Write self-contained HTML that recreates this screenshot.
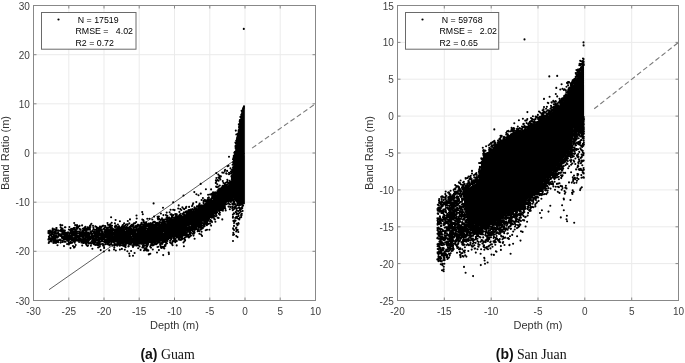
<!DOCTYPE html>
<html><head><meta charset="utf-8"><title>Band ratio vs depth</title>
<style>
html,body{margin:0;padding:0;background:#fff}
svg{display:block}
text{font-family:"Liberation Sans",Arial,sans-serif;fill:#333}
.tk{font-size:10px;fill:#404040}
.lb{font-size:11px}
.lg{font-size:8.8px;fill:#000;white-space:pre}
.cap{font-family:"Liberation Serif","Times New Roman",serif;font-size:13.9px;fill:#111}
.capb{font-family:"Liberation Sans",Arial,sans-serif;font-weight:bold;font-size:14px;fill:#111}
</style></head><body>
<svg width="685" height="363" viewBox="0 0 685 363">
<rect width="685" height="363" fill="#fff"/>
<path d="M33.5 5.5V300.5M68.8 5.5V300.5M104 5.5V300.5M139.2 5.5V300.5M174.5 5.5V300.5M209.8 5.5V300.5M245 5.5V300.5M280.2 5.5V300.5M315.5 5.5V300.5M33.5 300.5H315.5M33.5 251.3H315.5M33.5 202.2H315.5M33.5 153H315.5M33.5 103.8H315.5M33.5 54.7H315.5M33.5 5.5H315.5" stroke="#ebebeb" stroke-width="1" fill="none"/>
<path d="M49 289.7L245 153" stroke="#333" stroke-width="0.8" fill="none"/><path d="M252.1 148.1L315.5 103.8" stroke="#7a7a7a" stroke-width="1.1" stroke-dasharray="5 2.8" fill="none"/><path d="M231.6 184L232.4 171L235 151.3L238.8 128L241.2 115L242.8 107.5L243.6 106.2L244.8 106.6L244.9 204L240 206L235 201L231.6 196Z" fill="#000"/><path d="M48.4 233.1h0M48.4 239.6h0M48.5 231h0M48.5 231.9h0M48.7 243h0M48.8 238.6h0M48.9 236.8h0M49 232.4h0M49.3 233.1h0M49.2 241.9h0M49.2 238.7h0M49.1 238.2h0M49.5 232.3h0M49.4 233.6h0M49.6 235.7h0M49.6 238.1h0M49.8 232.8h0M49.7 230.9h0M50 230.6h0M50 238h0M50 232.3h0M50.3 239.5h0M50.3 234.9h0M50.3 234.9h0M50.2 232.3h0M50.4 241.1h0M51 238.7h0M51 235.3h0M51.1 235.1h0M51.3 231.7h0M51.5 241.5h0M51.4 239.2h0M51.7 236.2h0M51.6 233.6h0M51.6 240.7h0M51.9 238.1h0M52 239.6h0M52.2 230.4h0M52.5 234.2h0M52.5 232.8h0M52.7 228.6h0M52.7 231.2h0M52.9 230.3h0M52.9 232.2h0M53 237.9h0M52.9 229h0M53.4 242.3h0M53.4 243h0M53.4 236.9h0M53.5 238.9h0M53.3 239.7h0M53.6 238.6h0M53.6 236.4h0M54 235.4h0M53.8 241.5h0M54 234.9h0M53.8 239h0M54.2 241.4h0M54.2 235h0M54.2 236.4h0M54.2 233h0M54.2 241.5h0M54.5 231.9h0M54.5 229.4h0M54.5 240.3h0M54.4 236.2h0M54.6 229.5h0M54.7 235.4h0M54.6 238.2h0M54.7 242.7h0M55 235.9h0M55 231.8h0M55.2 238.1h0M55.4 241.9h0M55.3 235.4h0M55.4 239.1h0M55.6 232.6h0M55.8 232.8h0M55.8 237.6h0M55.9 232.7h0M56 243h0M55.8 233.2h0M55.9 231.4h0M56 234.9h0M56 237.4h0M55.9 231.6h0M56.1 236.7h0M56.1 233.4h0M56.2 237.5h0M56.1 230.9h0M56.3 242.1h0M56.4 240.9h0M56.3 228h0M56.3 229.7h0M56.8 237.1h0M56.8 237.4h0M56.6 233.2h0M56.6 228.1h0M56.6 236.3h0M57 240.2h0M56.9 242.1h0M57.1 230.5h0M57.5 245.2h0M57.7 237.6h0M57.9 240.2h0M57.9 233.8h0M57.9 233.7h0M58 230.4h0M58.2 236.6h0M58.3 233.3h0M58.1 232.6h0M58.1 241.6h0M58.3 242.3h0M58.5 234.9h0M58.3 235.8h0M58.6 240.3h0M58.6 235.9h0M59.4 234.4h0M59.7 239.9h0M59.6 230.7h0M60 235.4h0M60 239.6h0M60.3 234.4h0M60.5 225.3h0M60.4 224.7h0M60.6 239.8h0M60.7 240.6h0M60.7 227.3h0M60.6 236h0M60.6 242.6h0M61.3 231.4h0M61.2 236h0M61.1 229.4h0M61.6 235.5h0M61.7 228.7h0M61.6 231.8h0M61.7 231.4h0M61.7 235.4h0M61.9 231.1h0M62 237.6h0M61.9 236.9h0M62.2 238.2h0M62.2 230.3h0M62.1 233.7h0M62.3 225.3h0M62.5 228.5h0M62.5 242h0M62.4 236.6h0M62.5 241h0M62.7 242h0M62.8 232.5h0M63 230.8h0M63 231.5h0M63.2 238.1h0M63.4 238.2h0M63.5 232.7h0M63.6 238.9h0M63.7 230.2h0M63.6 239.7h0M63.8 234.7h0M63.6 234.3h0M63.6 238.2h0M64 246.1h0M64 231.4h0M64.1 236.9h0M64.1 239.2h0M64.2 238.5h0M64.1 231.1h0M64.4 235.2h0M64.5 232.2h0M64.6 241.8h0M64.5 236.3h0M64.7 232.4h0M64.8 239.5h0M64.6 241.8h0M64.7 234h0M64.9 227.2h0M64.8 231h0M64.9 230.6h0M65.2 232.7h0M65.1 233.9h0M65.2 238.2h0M65.3 237.9h0M65.4 227.2h0M65.7 234.6h0M65.7 238.5h0M65.7 241.8h0M65.6 235.6h0M65.7 234.3h0M66 237h0M66 237.6h0M66.1 235.7h0M66.2 234.6h0M66.1 238.4h0M66.1 233.1h0M66.3 232.8h0M66.4 239.2h0M66.3 232.9h0M66.8 236.7h0M66.9 235.9h0M66.9 240h0M67.2 240.1h0M67.3 235.9h0M67.1 238h0M67.1 244.1h0M67.3 234.1h0M67.2 238.6h0M67.4 237.6h0M67.8 235.4h0M67.7 236h0M67.9 232.7h0M68 232.3h0M68 236.2h0M68.2 238.4h0M68.4 240.8h0M68.3 241.4h0M68.4 236.4h0M68.7 235h0M68.7 236.7h0M68.9 229.5h0M68.9 243.3h0M68.9 239.6h0M68.9 240.2h0M68.9 236.6h0M68.9 244.5h0M69.1 235.5h0M69.2 236.7h0M69.4 227h0M69.5 233.1h0M69.3 237.2h0M69.6 233.7h0M69.6 239.4h0M69.6 229.8h0M69.9 242.4h0M69.9 239.3h0M70.2 236.2h0M70.3 232.9h0M70.5 231.9h0M70.4 242.9h0M70.3 230.2h0M70.5 248.1h0M70.6 231.4h0M70.7 241.5h0M70.7 243.3h0M70.8 237.9h0M71 236.3h0M71 229.1h0M71.1 235.4h0M71.3 238.9h0M71.2 232.6h0M71.2 232h0M71.3 237.4h0M71.2 232h0M71.3 232.9h0M71.5 242.3h0M71.6 230.8h0M71.7 234.7h0M71.7 233.6h0M71.8 239.6h0M72 229.2h0M72 239.3h0M71.8 233.9h0M71.9 240h0M72 228.7h0M72 237.4h0M72.1 233.2h0M72.3 235.3h0M72.1 242.8h0M72.1 238.2h0M72.5 237.3h0M72.5 235.4h0M72.4 240h0M72.7 232.7h0M73 234.2h0M73 229.8h0M72.9 240.4h0M73 246h0M72.9 240.3h0M72.9 238.2h0M73.2 239.5h0M73.1 231.5h0M73.3 240h0M73.4 241.4h0M73.3 234.5h0M73.6 233h0M73.6 234.6h0M73.9 234.3h0M74 239.7h0M73.8 228h0M74.1 241.2h0M74 247.6h0M73.8 240.9h0M73.9 239.9h0M74.2 223h0M74.1 234.4h0M74.3 235.8h0M74.3 238.1h0M74.3 234.2h0M74.5 238h0M74.4 234.7h0M74.7 235.6h0M74.7 229.4h0M74.7 231.1h0M74.7 227.8h0M74.9 246.7h0M75 238.4h0M74.9 241.3h0M75 236.1h0M74.9 232.9h0M75.1 225.1h0M74.8 242.7h0M75 241.2h0M75.1 234.9h0M75.1 234.8h0M75.3 231.2h0M75.5 233.6h0M75.5 236h0M75.5 235.1h0M75.8 239.9h0M75.8 236.5h0M75.7 238.5h0M75.7 245h0M75.6 230.8h0M75.9 238.1h0M76 240.4h0M75.8 233.7h0M75.9 235.1h0M75.9 233.4h0M75.9 230.2h0M76 235.3h0M76 234.4h0M76.2 239.6h0M76.1 231.4h0M76.3 233.1h0M76.2 231.2h0M76.4 239.9h0M76.6 225.8h0M76.6 228.7h0M76.8 233.4h0M76.8 227.5h0M77 225.1h0M77.2 239h0M77.2 237h0M77.2 233.6h0M77.4 240.6h0M77.4 236.9h0M77.5 231.6h0M77.5 235.6h0M77.7 226.3h0M77.6 228.8h0M77.7 235.7h0M77.7 236.4h0M78 240.5h0M78.2 227.2h0M78.3 237.1h0M78.2 231.5h0M78.2 239.2h0M78.4 236h0M78.8 235.8h0M79 238.5h0M78.9 240.1h0M79.1 240.6h0M79.1 238.3h0M79.1 242h0M79.1 233.6h0M79.5 238.4h0M79.4 232.4h0M79.6 237.1h0M79.6 225.9h0M79.7 235.5h0M79.6 236.9h0M79.8 228.9h0M79.9 238.7h0M79.9 231.7h0M80.1 234.9h0M80.3 233.9h0M80.2 229.9h0M80.1 233.5h0M80.4 238.5h0M80.7 239h0M80.6 233.2h0M80.6 229.8h0M80.7 240.2h0M80.8 238.6h0M80.9 232.8h0M81 239.4h0M80.8 235.7h0M81.1 233.9h0M81.1 241.4h0M81.5 236.2h0M81.4 240.6h0M81.4 234.3h0M81.5 242.5h0M81.3 242.5h0M81.7 236.1h0M81.7 241.2h0M81.7 236.5h0M81.8 233.6h0M81.6 232.2h0M82.3 232.1h0M82.1 231.7h0M82.2 245.5h0M82.1 225.4h0M82.4 231h0M82.3 236.1h0M82.4 235.1h0M82.7 228.7h0M82.7 237.2h0M82.7 233.7h0M82.7 235.4h0M82.8 235h0M82.7 239.2h0M82.7 240.1h0M82.8 233.6h0M83.1 242.9h0M83.2 242.3h0M83.3 233.6h0M83.2 231.5h0M83.3 231.5h0M83.4 234.1h0M83.5 240.5h0M83.4 234.1h0M83.6 232.9h0M83.5 240.1h0M83.6 238.8h0M83.6 230.4h0M84 232.7h0M84 242.9h0M83.9 234.9h0M83.9 236.3h0M84.3 241.3h0M84.2 238.9h0M84.3 229.4h0M84.2 233.7h0M84.3 227.9h0M84.4 229.3h0M84.4 230.1h0M84.7 241.2h0M84.6 238.2h0M84.8 240.5h0M84.6 241.2h0M84.8 232.5h0M84.8 230.2h0M85 227.3h0M84.9 238.9h0M84.9 240.5h0M85 235.1h0M84.9 241.7h0M85 235.3h0M85.1 234h0M85.1 239.6h0M85.5 228.3h0M85.3 241.6h0M85.4 234.9h0M85.4 226.8h0M85.7 236h0M85.7 240.9h0M85.6 236.1h0M85.8 236.1h0M85.8 233.7h0M85.8 233.6h0M85.6 237.8h0M85.7 235.6h0M86 235.3h0M85.9 239.1h0M85.9 243.2h0M86.1 229.6h0M86.2 231.4h0M86.3 233.9h0M86.1 239.6h0M86.1 244.4h0M86.1 228.7h0M86.2 232.6h0M86.3 231.6h0M86.5 242h0M86.4 242.3h0M86.4 230.3h0M86.6 232.7h0M86.7 240.5h0M86.7 234h0M86.7 240.8h0M86.8 233.4h0M87 237.1h0M87 233.4h0M87 245.4h0M87.3 239.3h0M87.2 242.5h0M87.1 237.1h0M87.1 229h0M87.3 232.8h0M87.3 242.3h0M87.2 241.6h0M87.2 239.5h0M87.5 232.8h0M87.5 234.4h0M87.5 241.9h0M87.4 236.3h0M87.5 233.2h0M87.3 229.7h0M87.5 239h0M87.4 236h0M87.6 233.7h0M87.7 246h0M87.7 237.5h0M87.6 227.3h0M87.8 241h0M87.7 240.2h0M88 245.5h0M88.2 239.1h0M88.1 229.8h0M88.6 227.5h0M88.3 243.3h0M88.3 232.8h0M88.4 242.5h0M88.4 240.8h0M88.4 241.6h0M88.6 234.1h0M88.6 232.6h0M89 237.1h0M88.9 237.6h0M88.9 243.5h0M89 234.4h0M89.3 235.8h0M89.2 239.9h0M89.2 238.8h0M89.2 238.8h0M89.3 228.9h0M89.5 238.5h0M89.4 236.4h0M89.7 238.6h0M89.6 237.9h0M89.9 228.6h0M90 225.9h0M90 229.8h0M89.8 238.8h0M89.8 243.1h0M90.1 233.4h0M90.1 236.2h0M90.1 237.8h0M90.3 239.3h0M90.4 227h0M90.5 238.5h0M90.5 225.4h0M90.6 231.6h0M90.6 242.6h0M90.7 243.1h0M91 237.5h0M90.9 245.8h0M91 232.5h0M90.9 232.1h0M91 236.4h0M91.1 232.1h0M91.2 243.8h0M91.4 236.3h0M91.4 223.7h0M91.3 234.2h0M91.6 236.3h0M91.6 236.1h0M91.8 241.3h0M92 237.9h0M92.2 234h0M92.3 240h0M92.2 236h0M92.3 237h0M92.4 248.8h0M92.4 230.7h0M92.5 234h0M92.7 238h0M92.7 239.6h0M92.6 236.9h0M92.7 231.5h0M92.6 230.9h0M92.7 242.7h0M92.6 236.8h0M93 236.9h0M93 225.7h0M92.8 235.9h0M93.1 242h0M93.1 236.1h0M93.1 239.5h0M93.5 239.5h0M93.5 243.8h0M93.5 236.5h0M93.4 227.5h0M93.4 238h0M93.5 229h0M93.5 231.8h0M93.6 231.5h0M93.7 241.5h0M93.6 232.2h0M93.7 235.9h0M93.7 241.9h0M93.9 244.2h0M94 241.4h0M94 236.6h0M94.3 239.1h0M94.3 233.2h0M94.5 240.7h0M94.5 239h0M94.4 231.9h0M94.6 240.7h0M94.6 232h0M94.7 240.4h0M94.9 234.5h0M95 238.9h0M94.9 242.9h0M95 243.1h0M94.8 244h0M94.9 229.8h0M95.1 232.4h0M95.2 236.3h0M95.5 241.4h0M95.4 226.2h0M95.4 238.1h0M95.3 244.9h0M95.7 234.3h0M95.8 229.9h0M95.7 235.7h0M95.8 236.9h0M96 239.3h0M96.1 239.3h0M96.2 236.5h0M96.2 236.9h0M96.1 233.8h0M96.2 230.4h0M96.3 238.5h0M96.3 231.6h0M96.4 237.7h0M96.4 227h0M96.4 240.6h0M96.3 227.1h0M96.3 240.3h0M96.4 234.2h0M96.3 239.1h0M96.7 239.7h0M96.7 239h0M96.6 233.3h0M96.8 234.1h0M96.8 231h0M96.9 244.6h0M96.9 228.9h0M97 243h0M96.8 231.4h0M97.3 243h0M97.1 245.1h0M97.1 237.3h0M97.5 235.5h0M97.5 235.4h0M97.5 236.5h0M97.5 231.8h0M97.7 232.2h0M97.6 239.2h0M97.7 237h0M97.6 231.1h0M97.7 235.9h0M97.9 227.8h0M98 230.6h0M98 235.6h0M97.9 236.3h0M97.8 244.6h0M98 233h0M98 239.2h0M98.1 231.9h0M98.1 231.7h0M98.1 247.5h0M98.2 233.7h0M98.3 232.1h0M98.1 241.1h0M98.1 230.8h0M98.1 244h0M98.4 230.7h0M98.4 231.6h0M98.3 239.8h0M98.6 245.3h0M98.6 236.5h0M98.8 231.1h0M98.8 237.5h0M98.6 234.4h0M98.7 242.5h0M98.9 237.2h0M99 229.3h0M99 238.3h0M98.9 241.9h0M99 242.7h0M99 233.1h0M98.8 234.2h0M99.1 240.6h0M99.3 228h0M99.2 234.9h0M99.2 238.9h0M99.1 240.4h0M99.3 244.1h0M99.2 232.8h0M99.4 231.6h0M99.3 228.6h0M99.5 238.5h0M99.4 232.2h0M99.3 238.1h0M99.8 246.3h0M99.6 246.8h0M99.7 241.6h0M99.7 242.4h0M99.9 238.5h0M99.9 226.5h0M100 229.9h0M99.8 239.1h0M100.3 234.5h0M100.4 237.2h0M100.5 244.4h0M100.5 239.2h0M100.5 233.6h0M100.8 227.8h0M100.7 238.6h0M100.6 238h0M100.6 235.3h0M100.7 250.1h0M100.8 230.7h0M101 241.5h0M101 236h0M101 238.9h0M100.8 228.2h0M101.2 226.6h0M101.3 236.9h0M101.2 239.5h0M101.3 241.1h0M101.3 235.7h0M101.4 235.3h0M101.4 227.3h0M101.4 236.8h0M101.4 229.6h0M101.4 230.9h0M101.3 230.3h0M101.4 236.9h0M101.4 236.6h0M101.3 235.6h0M101.6 231.5h0M101.8 237.4h0M101.8 231.8h0M101.6 240.3h0M101.9 240.3h0M102 230.1h0M102 232.6h0M102 236.4h0M101.9 236.7h0M102 238.7h0M102.2 234.3h0M102.1 236.9h0M102.3 237.6h0M102.3 238.2h0M102.4 236h0M102.4 231.7h0M102.3 240.9h0M102.3 243.7h0M102.4 238.3h0M102.7 236.6h0M102.9 235.9h0M102.8 225.9h0M103.2 236.9h0M103.1 245.6h0M103.2 238.9h0M103.2 237.4h0M103.1 233.7h0M103.4 238.7h0M103.4 236.4h0M103.3 238.6h0M103.6 228.8h0M103.6 236.6h0M103.7 241.5h0M103.6 238.6h0M103.6 225.7h0M103.6 233.4h0M103.8 235.9h0M103.7 244.3h0M103.8 235.4h0M103.8 228.9h0M104 234.7h0M103.9 251.5h0M104 236.2h0M103.8 235.8h0M104 246h0M104 237.6h0M104.1 247.9h0M104.3 235.2h0M104.2 241.5h0M104.1 228.7h0M104.1 237.3h0M104.5 242h0M104.4 231h0M104.3 239.8h0M104.5 236.3h0M104.3 237.2h0M104.8 241.4h0M104.7 237.3h0M104.7 241h0M104.6 240.2h0M104.7 239h0M104.9 240h0M104.9 232.3h0M105 232.7h0M104.9 234.9h0M104.9 232.7h0M105 240.2h0M105.3 226.1h0M105.3 230.1h0M105.1 227.5h0M105.2 234.8h0M105.3 231h0M105.5 236.9h0M105.4 239.7h0M105.4 231.2h0M105.8 233.8h0M105.7 244.2h0M105.6 242.9h0M105.7 233.9h0M105.8 229.9h0M105.6 239.5h0M105.9 242.4h0M106.1 235h0M106.3 234.2h0M106.2 239.2h0M106.3 227.7h0M106.3 229.9h0M106.2 240.6h0M106.5 240.4h0M106.5 242.2h0M106.5 232.3h0M106.5 236.9h0M106.5 235.2h0M106.5 239.1h0M106.7 229.1h0M106.7 229.7h0M106.9 235.6h0M106.8 239.3h0M107 227.6h0M107.1 240.2h0M107.1 233.1h0M107.2 237.4h0M107.2 232.6h0M107.1 241.3h0M107.4 235.5h0M107.5 223.1h0M107.5 236.1h0M107.5 237.1h0M107.5 235.3h0M107.4 235.6h0M107.5 244h0M107.5 228.1h0M107.8 237.7h0M107.6 230.7h0M107.8 237.6h0M107.6 244.3h0M107.7 231.3h0M107.9 239.8h0M107.9 224.7h0M107.9 236.5h0M107.9 242.5h0M108 231.7h0M107.8 234.8h0M108.2 234.1h0M108.1 236.1h0M108.3 234.2h0M108.5 236.2h0M108.4 236.4h0M108.4 232.2h0M108.4 230.7h0M108.5 232.8h0M108.4 244.5h0M108.4 231.3h0M108.7 232.9h0M108.6 241.2h0M108.8 239.3h0M108.7 229.6h0M108.7 238.4h0M108.7 227.2h0M108.9 235.6h0M109 239.6h0M109.1 242.6h0M109.2 240.1h0M109.2 230.9h0M109.2 235.5h0M109.2 229.6h0M109.2 250.4h0M109.2 237.6h0M109.2 233.7h0M109.3 239.1h0M109.4 233.8h0M109.5 233.3h0M109.4 225.6h0M109.7 224.9h0M109.6 238h0M109.7 237.8h0M109.6 245.5h0M109.7 238.9h0M109.7 237h0M110 238.9h0M110 231.5h0M110 235.6h0M109.9 233.2h0M110 238.7h0M109.9 233.8h0M110 230.6h0M109.9 231.6h0M109.9 225.6h0M110 238.4h0M110.1 239.6h0M110.3 234.3h0M110.2 239.7h0M110.2 232.8h0M110.1 235.3h0M110.2 227.4h0M110.1 241.7h0M110.3 230h0M110.2 236.3h0M110.3 224.3h0M110.5 232.3h0M110.5 238.9h0M110.4 236.8h0M110.4 239.2h0M110.3 237.5h0M110.3 244.3h0M110.5 238.4h0M110.5 235.2h0M110.6 236h0M110.7 237.4h0M110.6 236.7h0M110.7 233.7h0M110.8 241.3h0M110.8 228.4h0M110.7 225.2h0M111 230.4h0M111 241.9h0M111 234.8h0M111 236.4h0M110.9 231h0M111.2 243.6h0M111.1 231.6h0M111.1 217.2h0M111.2 232.3h0M111.2 226.1h0M111.1 228.7h0M111.3 233.4h0M111.3 233.4h0M111.3 232.5h0M111.4 244.1h0M111.6 241.2h0M111.7 222.8h0M111.8 227.9h0M111.6 236.9h0M111.6 232.3h0M111.7 237.1h0M112 239.8h0M112 235.9h0M111.9 234.1h0M112 235.3h0M111.9 234.1h0M111.8 241.1h0M112 234h0M112 239.4h0M112.2 239.8h0M112.3 238.8h0M112.2 240.5h0M112.2 239.1h0M112.1 225.7h0M112.3 229.8h0M112.5 240.1h0M112.3 241.2h0M112.3 230.6h0M112.3 245h0M112.5 241.7h0M112.6 238.5h0M112.7 229.3h0M112.7 239.3h0M112.8 238.6h0M112.6 245.6h0M112.7 238.5h0M112.6 233.8h0M113 232.1h0M113 233.1h0M113 241.9h0M112.9 228.9h0M112.9 236.1h0M112.8 238.6h0M112.8 240.7h0M113 241.1h0M113.3 236.6h0M113.5 236.8h0M113.4 239.2h0M113.3 239.5h0M113.6 229.6h0M113.8 242.5h0M113.7 242h0M113.7 232.4h0M113.8 236.9h0M113.6 239.1h0M113.6 230h0M113.9 241.4h0M114 232.9h0M114 234.5h0M113.9 232.6h0M113.9 233.5h0M113.8 233.6h0M114 249.5h0M114.3 247.4h0M114.2 241.4h0M114.2 237.4h0M114.1 235.6h0M114.6 240.8h0M114.4 230.3h0M114.4 241.8h0M114.5 238.3h0M114.4 237.4h0M114.4 229.8h0M114.4 244.7h0M114.5 232.5h0M114.4 237.8h0M114.5 240.5h0M114.6 231.5h0M114.8 245.3h0M114.7 243.5h0M114.7 234h0M114.8 226.7h0M114.7 240.2h0M115 230.3h0M114.9 223.2h0M114.8 238.9h0M115.2 245.1h0M115.1 239.9h0M115.3 241.4h0M115.1 233.4h0M115.2 227.4h0M115.2 232.8h0M115.3 235.9h0M115.2 241.4h0M115.3 237.9h0M115.2 234.8h0M115.4 225.5h0M115.4 236.3h0M115.5 233.1h0M115.4 235.5h0M115.3 240.9h0M115.5 236.3h0M115.3 236.1h0M115.4 240.5h0M115.6 236.8h0M115.6 220h0M115.6 233h0M115.6 229.6h0M115.6 237.9h0M115.9 240.4h0M115.8 250.5h0M115.9 230.8h0M115.9 231.4h0M115.8 234.8h0M116 225.5h0M115.9 232.4h0M116 237.6h0M116.1 234h0M116.3 236.4h0M116.1 236h0M116.3 244.7h0M116.3 239.9h0M116.5 237.9h0M116.3 235.9h0M116.5 240.9h0M116.3 233.4h0M116.7 234.7h0M116.7 237.3h0M116.7 237.6h0M116.6 231.1h0M117 237.7h0M116.9 229.2h0M116.8 226.7h0M116.8 238h0M116.8 241.1h0M117 227h0M116.9 232.4h0M116.9 231.9h0M117.2 227.9h0M117.2 237.7h0M117.2 229.7h0M117.1 228.3h0M117.1 231.7h0M117.3 235.5h0M117.3 243.2h0M117.2 245.8h0M117.2 232.3h0M117.1 236.2h0M117.2 244.2h0M117.2 237.8h0M117.4 239.6h0M117.3 240h0M117.5 239h0M117.4 241.6h0M117.5 240.3h0M117.5 234.3h0M117.5 238.3h0M117.6 229.3h0M117.7 233.7h0M117.6 230.7h0M117.8 229.5h0M117.6 234.6h0M117.8 231h0M117.9 228.8h0M117.9 224.6h0M118 244.5h0M117.9 235.1h0M118 233.5h0M117.9 238.6h0M117.9 231.7h0M118.2 233.3h0M118.1 240.5h0M118.2 231.7h0M118.3 242.5h0M118.3 244.6h0M118.3 228.6h0M118.3 243h0M118.3 232h0M118.5 235.4h0M118.4 233.2h0M118.4 227h0M118.4 237.2h0M118.3 237h0M118.6 231h0M118.7 241.5h0M118.6 238.3h0M118.8 237.9h0M118.7 232.8h0M118.7 237.6h0M118.7 236.9h0M118.6 239.5h0M118.7 236.3h0M118.8 229.1h0M118.6 237h0M118.9 233.2h0M118.8 232.5h0M119 229.4h0M118.9 243.3h0M118.8 238h0M118.9 235.8h0M119 238.4h0M119.1 227.2h0M119.2 239.9h0M119.1 226.5h0M119.1 233.1h0M119.1 234.3h0M119.1 226.2h0M119.2 237.5h0M119.3 238.7h0M119.4 235.4h0M119.5 234.2h0M119.4 232.6h0M119.3 239.3h0M119.3 244.2h0M119.7 244.8h0M119.6 229.1h0M119.6 238h0M119.8 229.5h0M119.7 245.7h0M119.7 234.1h0M119.6 242.6h0M119.7 230.5h0M119.6 238.5h0M119.9 238.9h0M119.9 233.2h0M120 241.6h0M119.9 235.7h0M119.9 221.2h0M119.9 240.4h0M120 242.3h0M119.9 249.6h0M120.1 236h0M120.2 239.4h0M120.1 235.6h0M120.1 229.1h0M120.1 233h0M120.2 231.2h0M120.1 234.1h0M120.5 230.5h0M120.4 236.7h0M120.5 233.7h0M120.6 235.4h0M120.6 227.7h0M120.6 230.6h0M120.7 232.6h0M120.7 243.1h0M120.6 230.4h0M120.7 239.2h0M120.8 245.3h0M120.6 240.9h0M121 236.1h0M120.8 238.6h0M121 232.6h0M120.9 239.7h0M120.8 229.5h0M121.2 233.4h0M121.2 227.8h0M121.2 232.1h0M121.3 234.9h0M121.1 228.7h0M121.1 237.1h0M121.4 236.1h0M121.4 234h0M121.4 239h0M121.4 232.3h0M121.3 235.4h0M121.5 242.9h0M121.7 239.1h0M121.7 237.1h0M121.6 231.5h0M121.7 239.5h0M121.7 230.3h0M121.6 242.5h0M121.6 238.6h0M121.8 241.6h0M122.1 238.4h0M121.9 243.1h0M121.9 232.8h0M121.8 226.5h0M121.8 240.6h0M121.8 236.1h0M122 240.2h0M121.9 228.5h0M122 234.1h0M121.9 248.9h0M122 245.1h0M121.9 240.4h0M121.9 240.9h0M122.1 241.3h0M122.2 227h0M122.1 240.6h0M122.2 232.8h0M122.3 231.6h0M122.4 241.6h0M122.5 239.8h0M122.4 242.5h0M122.4 239.1h0M122.6 236.4h0M122.7 234.1h0M122.6 232.2h0M122.6 225.3h0M122.8 231.2h0M122.8 231.2h0M122.8 233.3h0M122.6 236h0M122.8 235h0M122.6 230.2h0M122.9 236.2h0M122.9 243.1h0M123 226.9h0M122.8 231.1h0M122.8 228.3h0M122.9 225h0M122.9 232.7h0M122.9 235.4h0M123 238.4h0M123 237.7h0M123.2 231.3h0M123.3 240h0M123.2 243.4h0M123.1 234.4h0M123.3 242.1h0M123.2 245.7h0M123.1 235.7h0M123.1 229.5h0M123.2 237.8h0M123.5 235.9h0M123.4 237.5h0M123.5 239.6h0M123.4 234.1h0M123.5 236.8h0M123.4 234.8h0M123.3 244.4h0M123.3 237.1h0M123.5 232.4h0M123.6 236.3h0M123.6 226.9h0M123.7 232.3h0M123.8 242.2h0M123.7 238.8h0M123.8 228.6h0M123.8 234.3h0M124 239.9h0M123.9 235.8h0M123.9 232.6h0M124 236.7h0M124 230.2h0M123.8 227.5h0M124 236.1h0M124.1 235.9h0M124.1 238.6h0M124.1 223.4h0M124.2 242.3h0M124.2 226.6h0M124.1 244.7h0M124.1 238.8h0M124.2 231.5h0M124.2 229.1h0M124.5 231h0M124.3 235.7h0M124.5 244.3h0M124.5 241.5h0M124.5 238.7h0M124.4 246.2h0M124.7 237.5h0M124.6 235.4h0M124.6 233.9h0M124.6 239.7h0M124.7 245.4h0M124.6 231.4h0M124.6 238.8h0M125 239h0M125 225.8h0M124.9 232.3h0M125 236.9h0M124.9 233.4h0M125 245.1h0M124.8 249.7h0M125 239.1h0M124.8 231.5h0M125.3 235.6h0M125.2 240.2h0M125.2 233.3h0M125.2 231.3h0M125.2 239.8h0M125.3 242.1h0M125.5 234.3h0M125.5 234.1h0M125.3 242.7h0M125.5 236.1h0M125.5 235h0M125.7 229h0M125.7 227.7h0M125.6 247.3h0M125.6 245.8h0M125.6 231.8h0M125.7 244.9h0M125.9 243.6h0M126 231.2h0M126 237.8h0M125.9 233.2h0M126.3 233.9h0M126.1 224.5h0M126.2 229.2h0M126.1 233.4h0M126.2 234.2h0M126.1 234.1h0M126.2 233.3h0M126.2 233.4h0M126.2 234.7h0M126.4 228h0M126.3 236.3h0M126.6 237.1h0M126.4 242.7h0M126.5 242.1h0M126.5 234.7h0M126.7 227.2h0M126.6 235.8h0M126.6 243.2h0M126.7 226.8h0M126.8 241.2h0M126.8 237.9h0M126.8 238.3h0M126.6 224.6h0M126.6 242.7h0M127 242.2h0M126.9 239.7h0M126.9 243.4h0M126.8 242.5h0M127 243.5h0M126.9 232.3h0M127 235.3h0M126.9 239.5h0M126.9 233.4h0M127 230.9h0M127.3 224.2h0M127.3 240.3h0M127.2 232.2h0M127.2 234.9h0M127.2 236.7h0M127.2 236.2h0M127.4 242.1h0M127.5 225.1h0M127.3 236.1h0M127.4 251.3h0M127.4 234.7h0M127.3 238.3h0M127.4 235.9h0M127.5 238.8h0M127.3 232.1h0M127.4 233.7h0M127.6 236.3h0M127.7 237.5h0M127.8 221h0M127.6 232.4h0M127.6 224.6h0M127.7 241.2h0M127.7 228.6h0M127.7 237.9h0M128 240.3h0M127.9 236.2h0M127.8 241.3h0M128 230.5h0M128 232.3h0M128 232h0M127.9 228.7h0M127.9 236.4h0M127.8 234.2h0M128.1 241.3h0M128.1 241.8h0M128.3 235.1h0M128.2 227.9h0M128.3 241.2h0M128.4 236.4h0M128.5 230.7h0M128.5 238.9h0M128.4 233.6h0M128.5 240.8h0M128.5 230.2h0M128.4 235.5h0M128.4 246.4h0M128.5 234.6h0M128.8 243.5h0M128.7 235.2h0M128.8 230.6h0M128.7 236.7h0M128.6 239h0M128.7 246.3h0M128.7 241.1h0M128.7 235.5h0M128.7 246h0M128.7 228.9h0M128.6 236.8h0M128.8 238.6h0M128.8 232h0M128.9 244h0M129 235.7h0M129 240.5h0M129 237.3h0M129.3 240.4h0M129.1 233.9h0M129.1 241.7h0M129.2 253.6h0M129.1 232.2h0M129.2 232.8h0M129.3 223.4h0M129.5 238.9h0M129.4 243.7h0M129.6 233.4h0M129.6 231.9h0M129.7 233.9h0M129.7 244h0M129.6 227.7h0M129.7 237.7h0M129.6 226.9h0M129.6 256h0M129.6 243.9h0M129.6 233.6h0M129.7 231.7h0M129.7 233.9h0M129.7 240.3h0M130 219.4h0M129.8 233.5h0M130 233.1h0M130 242.2h0M129.8 233.1h0M129.9 242.5h0M130 242.1h0M129.8 233.4h0M129.8 236.6h0M129.8 239.6h0M129.8 231.2h0M130 235.3h0M130.2 233.8h0M130.3 234.7h0M130.1 237h0M130.3 237.9h0M130.2 234.5h0M130.2 234.4h0M130.1 229.7h0M130.3 233.9h0M130.4 233.4h0M130.5 236.2h0M130.3 229.6h0M130.6 230.2h0M130.4 244.5h0M130.7 238.9h0M130.7 239.1h0M130.6 230.3h0M130.8 238.3h0M130.7 238.3h0M130.6 231.1h0M130.6 233.6h0M130.7 230.8h0M130.7 241.7h0M130.6 233.7h0M130.6 227.4h0M130.8 237.3h0M130.7 241.7h0M131 238.2h0M131 239.5h0M131 231.8h0M131 240.5h0M130.9 243.7h0M131 234.2h0M130.9 225.5h0M131 233.4h0M131.1 243.3h0M131.1 232h0M131.1 228.9h0M131.2 228.8h0M131.2 241h0M131.1 241.4h0M131.1 229.1h0M131.1 237.3h0M131.1 251h0M131.1 238.9h0M131.5 231.7h0M131.4 234h0M131.4 239.4h0M131.5 231h0M131.5 243.6h0M131.3 240.9h0M131.4 230.7h0M131.7 239.5h0M131.6 231.8h0M131.8 239.4h0M131.7 239.4h0M131.7 232.3h0M131.8 243.3h0M132 240.9h0M132 233.7h0M132 226h0M131.9 238.9h0M132 229.4h0M132 224.9h0M132.1 230.9h0M132.1 242.1h0M132.3 241.9h0M132.1 236.5h0M132.2 232h0M132.2 238.7h0M132.2 236.2h0M132.2 226.5h0M132.3 232.7h0M132.4 238.5h0M132.4 224.6h0M132.4 231.7h0M132.4 239.9h0M132.3 231.4h0M132.4 245.5h0M132.5 240.9h0M132.8 238.6h0M132.6 233.6h0M132.6 226.7h0M132.6 238.6h0M132.8 236.3h0M132.8 230.8h0M132.7 235.7h0M132.6 241.9h0M132.7 241.2h0M133 238.8h0M133 239.7h0M133 235.4h0M132.9 229.3h0M133 255.8h0M133 247h0M133 239.8h0M133 232.2h0M132.9 235.8h0M133.3 241.1h0M133.1 231h0M133.1 236.9h0M133.1 238.2h0M133.1 239.4h0M133.2 230.2h0M133.3 230h0M133.5 235.3h0M133.5 244.7h0M133.4 239.5h0M133.4 240.5h0M133.3 241.7h0M133.4 225.3h0M133.5 231.9h0M133.6 245.6h0M133.7 230.4h0M133.7 233.9h0M133.6 235.1h0M133.6 231h0M133.6 235.8h0M133.7 234h0M133.6 228.4h0M134 236.9h0M134 230.1h0M134 223.4h0M134 243.3h0M133.9 230.4h0M133.9 244h0M133.8 245.7h0M133.9 236.7h0M134 240.9h0M133.8 237.6h0M133.9 238.8h0M133.9 240.1h0M133.8 227.1h0M133.9 236.1h0M134 238.5h0M134.2 235.5h0M134.2 241.4h0M134.1 236.3h0M134.2 244.2h0M134.2 243h0M134.1 235.1h0M134.1 231.7h0M134.1 232.6h0M134.3 233.2h0M134.5 236.3h0M134.3 240.5h0M134.4 236.7h0M134.5 237.7h0M134.5 233.2h0M134.5 231.7h0M134.5 241.6h0M134.6 235.9h0M134.7 227h0M134.7 230.3h0M134.6 253h0M134.7 229.7h0M134.6 237.2h0M134.8 237.9h0M134.7 235.5h0M134.7 227.3h0M134.9 240.9h0M134.9 238.8h0M135 244.4h0M135 235.4h0M135.1 233.3h0M135 242.2h0M134.9 233.4h0M134.9 230.8h0M135 234.4h0M135.1 238h0M135.3 240.9h0M135.2 235h0M135.2 232.5h0M135.1 243.9h0M135.2 223.1h0M135.3 234.6h0M135.5 241.2h0M135.3 238.1h0M135.3 232.2h0M135.4 226.4h0M135.5 243h0M135.3 232.5h0M135.4 242.9h0M135.8 233h0M135.6 240.3h0M135.7 234.6h0M135.6 236.8h0M135.6 235.4h0M135.8 234.9h0M136 239.3h0M135.9 230.7h0M136 239.8h0M136 237.3h0M136 236.7h0M135.9 241.4h0M135.9 241.7h0M136 235.7h0M136 227.6h0M136 225.8h0M136.3 237.5h0M136.3 243.4h0M136.2 237h0M136.2 228.2h0M136.3 242.6h0M136.2 222h0M136.1 245.4h0M136.3 241.7h0M136.5 236.1h0M136.5 243.1h0M136.3 229.4h0M136.4 240.9h0M136.4 234.8h0M136.4 239.3h0M136.4 240.5h0M136.4 226.9h0M136.5 215.5h0M136.8 229h0M136.6 230.8h0M136.7 218.5h0M136.6 236.5h0M136.6 235.5h0M136.7 237.7h0M136.6 229.6h0M136.6 236.2h0M136.7 237.6h0M136.8 245.4h0M136.6 243.5h0M136.6 236.3h0M136.8 235.3h0M136.7 235.6h0M136.8 230.7h0M136.7 234.4h0M137 245h0M136.9 228.1h0M136.9 238.5h0M136.9 234h0M136.8 229h0M136.9 241.3h0M137 240.6h0M137.2 230.2h0M137.2 234.6h0M137.1 235.9h0M137.2 237.3h0M137.1 229.9h0M137.1 237.3h0M137.5 240.8h0M137.5 231h0M137.3 239.4h0M137.5 241.9h0M137.5 231.2h0M137.6 229.7h0M137.8 241.3h0M137.7 231.2h0M137.6 237.6h0M137.7 243.1h0M137.7 235h0M137.8 245.1h0M137.6 237.5h0M137.6 238.3h0M137.7 224.8h0M137.7 232.9h0M137.7 232.9h0M137.6 238.8h0M137.9 239.1h0M137.9 226.1h0M137.8 235.4h0M137.8 239.5h0M138 242h0M137.9 237.2h0M137.9 234.3h0M138.2 238.6h0M138.3 230.3h0M138.1 245.3h0M138.2 248.2h0M138.2 224.7h0M138.3 231.5h0M138.3 238.1h0M138.2 234.5h0M138.2 225.2h0M138.2 240.5h0M138.2 239.2h0M138.3 238.6h0M138.4 238.7h0M138.4 240.2h0M138.3 241.8h0M138.4 229.5h0M138.4 233.3h0M138.4 233.4h0M138.5 229.5h0M138.3 235.1h0M138.7 238.7h0M138.7 233.3h0M138.7 240.9h0M138.7 236.5h0M138.7 237.3h0M138.7 242.7h0M138.7 232.2h0M138.6 233h0M138.8 235.2h0M138.9 229.2h0M138.9 228.7h0M139 240.2h0M139.1 237.4h0M139 232.9h0M138.9 238h0M138.8 237.4h0M138.9 242.5h0M139.3 236.1h0M139.3 227.5h0M139.2 234.6h0M139.3 233.3h0M139.3 243.3h0M139.3 231.2h0M139.1 231h0M139.2 229h0M139.5 230.5h0M139.4 243.8h0M139.4 230.6h0M139.5 229.8h0M139.3 231.4h0M139.3 238.1h0M139.3 234.2h0M139.3 228.2h0M139.4 229.2h0M139.4 235h0M139.5 235.5h0M139.6 246.4h0M139.7 239.2h0M139.6 234.6h0M139.6 233.5h0M139.6 230.2h0M139.7 234.1h0M139.7 231.8h0M139.7 233.9h0M139.9 225.9h0M140 226.9h0M140 235.8h0M140 233.8h0M140.3 224.9h0M140.1 232.7h0M140.1 233.3h0M140.3 236.2h0M140.2 240.6h0M140.2 239h0M140.3 232.2h0M140.2 241.2h0M140.2 230.7h0M140.2 231.8h0M140.4 236.2h0M140.5 226.9h0M140.5 230.8h0M140.4 236.1h0M140.4 240.5h0M140.3 238.8h0M140.5 240.3h0M140.3 235.7h0M140.8 242.4h0M140.6 228.5h0M140.8 234.3h0M140.8 231.7h0M140.6 249.9h0M140.9 239.8h0M141 226.2h0M140.9 232h0M140.9 239.7h0M141 236.1h0M140.9 232.2h0M140.8 232.9h0M141 229.2h0M140.9 231h0M141.1 243.8h0M141.2 237.1h0M141.2 235.9h0M141.2 224.1h0M141.2 243.2h0M141.2 230.9h0M141.3 235.1h0M141.1 235.1h0M141.4 232.7h0M141.5 234.3h0M141.5 222.7h0M141.5 229.1h0M141.4 239.6h0M141.4 242.5h0M141.3 231.3h0M141.5 235.3h0M141.5 228.7h0M141.3 237.5h0M141.5 232.1h0M141.6 232.4h0M141.8 237.7h0M141.6 228h0M141.7 240.8h0M141.7 233.8h0M141.7 234.6h0M141.8 236.9h0M141.7 239.2h0M142 224.1h0M142 229.2h0M142 229.4h0M141.9 236.9h0M142 226.5h0M142 227.5h0M141.8 235.6h0M141.9 240h0M142 228.3h0M141.9 236.8h0M141.8 230.8h0M141.8 234.2h0M142.1 236.6h0M142.3 236.8h0M142.2 236.2h0M142.2 212.1h0M142.2 240.7h0M142.3 219.6h0M142.1 235.8h0M142.3 247.5h0M142.2 241.3h0M142.1 233.8h0M142.6 243h0M142.5 233.1h0M142.4 233.7h0M142.4 237.3h0M142.5 230h0M142.3 232.8h0M142.5 243.7h0M142.5 227.8h0M142.4 231.7h0M142.4 236.7h0M142.5 236.8h0M142.6 235.2h0M142.7 237.1h0M142.8 214.2h0M142.8 229.9h0M142.6 229.4h0M142.7 236.8h0M142.7 230.1h0M142.8 245.9h0M142.9 234h0M142.9 229.9h0M143 233.3h0M142.9 233.4h0M143.1 236.6h0M143.1 226.8h0M143.1 241.3h0M143.1 234.6h0M143.2 228.2h0M143.2 237.7h0M143.1 239.6h0M143.2 237.8h0M143.3 233h0M143.2 225.9h0M143.1 235.6h0M143.1 230.1h0M143.2 220h0M143.2 236.6h0M143.5 247.3h0M143.4 233.6h0M143.4 235.1h0M143.5 244.3h0M143.5 231.7h0M143.5 244.9h0M143.5 225.4h0M143.3 235.4h0M143.5 236.7h0M143.5 221.9h0M143.7 221h0M143.8 242h0M143.8 230.8h0M143.6 236.9h0M143.6 239.6h0M143.8 235.1h0M143.6 224.6h0M143.7 234h0M143.8 242.7h0M143.7 236.5h0M143.6 232.1h0M143.7 232.2h0M143.7 238.7h0M143.7 233.4h0M143.6 235.3h0M144 230.6h0M144 250.5h0M143.8 241.1h0M143.9 232.4h0M143.8 242.9h0M143.8 225.7h0M144 235h0M144 228.7h0M144 226.8h0M144 234.9h0M144.1 246h0M144.2 243.6h0M144.2 233.4h0M144.2 238.2h0M144.1 235.3h0M144.1 227.7h0M144.3 232.3h0M144.2 231.6h0M144.1 228.3h0M144.2 230.1h0M144.2 227.2h0M144.1 229.4h0M144.4 222.6h0M144.4 237.3h0M144.3 229.6h0M144.3 232.4h0M144.4 228.9h0M144.5 241.8h0M144.6 233h0M144.5 233.4h0M144.5 236h0M144.5 229.1h0M144.4 245.6h0M144.5 248.6h0M144.4 230.8h0M144.5 234.9h0M144.8 238h0M144.7 225h0M144.8 228.4h0M144.8 238.8h0M144.8 232.9h0M144.7 230.9h0M144.6 226.4h0M145 240.9h0M144.9 226.2h0M145 249.8h0M145 230h0M144.9 239h0M145 240.3h0M145 233h0M145 239.8h0M145.1 228.9h0M145.2 234.4h0M145.1 239.1h0M145.3 235.4h0M145.2 233.1h0M145.2 249.3h0M145.3 223.9h0M145.3 241h0M145.3 232.6h0M145.2 232.7h0M145.1 238h0M145.2 227.4h0M145.3 240.6h0M145.4 239.9h0M145.4 232.7h0M145.5 230.6h0M145.5 233.4h0M145.4 235.9h0M145.4 222.7h0M145.5 228.2h0M145.7 241.6h0M145.6 230.7h0M145.6 237h0M145.6 234.2h0M145.9 236.2h0M145.8 227.5h0M145.8 235h0M145.9 224.5h0M145.8 225.3h0M146 235.8h0M146 237h0M145.9 243.3h0M145.8 234h0M146 231.2h0M146.3 228.5h0M146.2 232.8h0M146.1 245.6h0M146.2 237.6h0M146.1 222.3h0M146.2 245.8h0M146.3 244.9h0M146.2 244h0M146.1 238.3h0M146.1 238.9h0M146.3 241.4h0M146.2 247.9h0M146.3 235.6h0M146.1 232.7h0M146.2 233.1h0M146.3 234.7h0M146.2 224.6h0M146.2 247.3h0M146.4 243.2h0M146.4 238.6h0M146.6 240.5h0M146.5 223.6h0M146.5 245.7h0M146.5 250.5h0M146.3 235.6h0M146.5 238.4h0M146.5 246.9h0M146.5 237.5h0M146.7 242.7h0M146.6 232.1h0M146.6 234h0M146.6 232.4h0M146.6 234.4h0M146.7 226.1h0M146.7 230.9h0M147 238.3h0M146.8 249.4h0M147.1 235.8h0M147.1 243.9h0M146.9 237.6h0M146.9 237.2h0M146.8 239.4h0M146.9 237.8h0M147 238.3h0M146.9 239.6h0M147.1 243.4h0M147.2 237.4h0M147.1 228.8h0M147.2 243.7h0M147.2 236h0M147.1 246.4h0M147.1 233.4h0M147.3 232.6h0M147.2 240.2h0M147.2 233.9h0M147.3 218.7h0M147.1 238.5h0M147.4 236.8h0M147.3 240.8h0M147.3 233.6h0M147.5 230.5h0M147.4 243.5h0M147.4 234.2h0M147.5 225.4h0M147.5 233.6h0M147.4 231.7h0M147.4 234.2h0M147.4 229.8h0M147.4 240.7h0M147.6 237.3h0M147.7 233.9h0M147.8 245h0M147.6 235.1h0M147.8 226.1h0M147.6 233.2h0M147.6 224.6h0M147.7 239h0M147.9 243h0M148.1 234.6h0M147.9 228.3h0M147.9 239.7h0M148 228.7h0M148.1 250.7h0M148.1 241.7h0M148.3 240.5h0M148.2 233.7h0M148.2 243.9h0M148.3 250.3h0M148.2 233.3h0M148.2 243.4h0M148.2 229.9h0M148.2 242.9h0M148.2 239.8h0M148.1 238.7h0M148.4 226.1h0M148.5 228h0M148.4 242.3h0M148.4 242h0M148.5 233.3h0M148.3 234.1h0M148.4 229.7h0M148.5 232h0M148.4 237h0M148.8 238h0M148.6 233.6h0M148.6 223.5h0M148.7 229.2h0M148.7 228.3h0M149 228.6h0M148.9 231.3h0M148.9 232h0M148.8 240.4h0M148.8 254.4h0M148.9 232h0M149 235.5h0M149.1 231.1h0M149.3 234.1h0M149.1 242h0M149.2 238.3h0M149.1 225.8h0M149.1 224.7h0M149.1 231.9h0M149.2 228.7h0M149.2 230.2h0M149.2 223.9h0M149.2 230.1h0M149.2 254.2h0M149.2 235.4h0M149.1 236.8h0M149.4 232h0M149.4 231.9h0M149.4 225.4h0M149.3 237.8h0M149.4 236.4h0M149.3 227.6h0M149.4 235.6h0M149.5 218.7h0M149.5 242h0M149.6 237.4h0M149.8 231.5h0M149.6 227.6h0M149.8 228.7h0M149.8 231.3h0M149.6 238.4h0M149.8 226.1h0M149.8 240.5h0M149.8 234h0M149.9 229.2h0M149.9 223.5h0M150.2 246.8h0M150.3 253.7h0M150.3 231.6h0M150.1 241.8h0M150.1 228.8h0M150.1 226.8h0M150.3 230.2h0M150.3 238.7h0M150.4 238.2h0M150.5 230.8h0M150.4 241.6h0M150.4 238.7h0M150.4 231.5h0M150.5 234.5h0M150.4 228h0M150.7 233.8h0M150.6 240.1h0M150.6 245.2h0M150.7 235.9h0M150.6 225.3h0M150.6 240.2h0M150.8 235.3h0M150.8 232.7h0M150.7 230h0M150.7 223.4h0M150.6 240.4h0M150.9 236.8h0M151 223.2h0M151 247.8h0M151.2 236.2h0M151.3 242.8h0M151.2 229.1h0M151.3 228.6h0M151.2 232.2h0M151.1 228.8h0M151.1 238.8h0M151.3 240.8h0M151.3 232h0M151.1 234.2h0M151.3 225.4h0M151.5 232h0M151.4 242.8h0M151.4 231.7h0M151.3 244h0M151.5 224.2h0M151.5 237.7h0M151.4 234h0M151.5 232.8h0M151.5 237.6h0M151.4 239.6h0M151.6 228.8h0M151.8 225.2h0M151.6 223.5h0M151.7 234.2h0M151.9 241.3h0M152 224.9h0M151.8 242.7h0M151.9 232.5h0M152 233.2h0M151.9 233.2h0M151.9 233.2h0M152 242.5h0M151.8 230.1h0M151.9 227h0M151.8 230.2h0M152.3 242.5h0M152.1 228h0M152.3 219.5h0M152.2 245.4h0M152.3 232.3h0M152.3 238.2h0M152.1 229.4h0M152.4 232.4h0M152.5 234.8h0M152.4 234.4h0M152.4 227.8h0M152.4 229.4h0M152.3 228.7h0M152.4 224.2h0M152.5 240.9h0M152.8 249.5h0M152.7 243.8h0M152.6 226.6h0M152.6 228.5h0M152.6 234h0M152.7 235.1h0M152.8 224.6h0M152.7 231.6h0M152.6 233.8h0M152.8 223.9h0M152.7 232.6h0M152.6 231.7h0M153 231.3h0M153 227.2h0M152.9 233.9h0M152.8 236.9h0M152.8 231.1h0M152.9 227.2h0M153 236.7h0M152.9 225h0M152.9 236.1h0M153 222.3h0M152.9 239.2h0M152.9 231.3h0M153.2 233.3h0M153.2 232.5h0M153.1 229.8h0M153.1 242.8h0M153.3 230.5h0M153.5 228.5h0M153.3 231.1h0M153.4 226.4h0M153.5 236.5h0M153.3 230.1h0M153.5 234.8h0M153.4 245.3h0M153.5 238.2h0M153.4 233.1h0M153.5 228.1h0M153.4 238.5h0M153.4 224.8h0M153.4 234h0M153.8 229.1h0M153.8 232.7h0M153.6 222h0M153.8 237.6h0M153.6 241.8h0M153.7 228.6h0M153.7 232.6h0M153.8 221.7h0M153.8 240.1h0M153.6 203.4h0M153.7 228.5h0M153.8 232.6h0M153.8 231.7h0M153.8 232h0M154 225.5h0M153.8 236.6h0M153.9 231.4h0M153.9 242.3h0M154 228.7h0M153.8 235.4h0M154.3 231.9h0M154.2 224.5h0M154.2 225.1h0M154.1 232.1h0M154.2 236.2h0M154.1 216.6h0M154.2 227.6h0M154.2 235.1h0M154.2 225.4h0M154.2 226.9h0M154.1 235.9h0M154.2 228.7h0M154.4 244.5h0M154.4 229h0M154.3 230.5h0M154.5 237h0M154.4 237.3h0M154.4 229.3h0M154.4 229.8h0M154.4 232.1h0M154.5 234.6h0M154.3 242.4h0M154.7 232.8h0M154.6 238.3h0M154.7 234.9h0M154.6 239h0M154.7 232.3h0M154.6 239.4h0M154.6 226.7h0M154.7 221.7h0M154.8 225.6h0M154.7 227.6h0M154.8 227.8h0M154.8 241.8h0M154.9 241.9h0M154.8 225.8h0M154.9 229.2h0M154.9 237.6h0M155 227.8h0M154.9 233.1h0M154.9 236.9h0M154.8 237.7h0M154.9 237.8h0M155 238.1h0M155.1 231.4h0M155.3 243h0M155.1 231.3h0M155.2 238.3h0M155.2 233.3h0M155.3 228.2h0M155.3 230.2h0M155.3 239.4h0M155.1 232.3h0M155.2 238.5h0M155.3 242.2h0M155.3 227.6h0M155.2 234.9h0M155.2 222.3h0M155.1 241.4h0M155.2 235.8h0M155.5 235h0M155.5 235.9h0M155.4 227.6h0M155.5 228.8h0M155.3 237.1h0M155.4 240.2h0M155.5 231h0M155.5 233.9h0M155.3 235.7h0M155.5 224.2h0M155.6 228.9h0M155.4 226.3h0M155.4 233.4h0M155.7 235.3h0M155.8 238.7h0M155.7 244.1h0M155.6 233.2h0M155.6 234.4h0M155.7 228.9h0M155.6 226.5h0M155.7 237.5h0M155.7 228.1h0M155.8 243.7h0M156.1 234h0M156 225.9h0M156 227.3h0M155.9 232h0M155.9 244h0M156 229.8h0M155.9 231.2h0M155.9 222.7h0M156.1 237.4h0M156.3 240.8h0M156.1 236.7h0M156.2 224.7h0M156.2 230.5h0M156.4 232.2h0M156.4 240.4h0M156.4 233.7h0M156.4 239.9h0M156.5 238.3h0M156.4 240.4h0M156.4 224.9h0M156.4 244.2h0M156.6 233.9h0M156.8 241.1h0M156.7 229.6h0M156.7 227h0M156.6 232.3h0M156.6 239.9h0M156.7 232.4h0M156.6 240.3h0M156.8 233.3h0M156.9 239.4h0M157 241.4h0M156.9 223.5h0M157 233.2h0M157 238.7h0M157 252.5h0M156.8 237.2h0M156.8 227.2h0M157 230.8h0M156.8 228.3h0M157.2 225.3h0M157.2 222.8h0M157.2 233.5h0M157.1 233.3h0M157.1 234.4h0M157.2 223.3h0M157.2 235.7h0M157.1 229.1h0M157.3 233.6h0M157.4 242.8h0M157.5 233.7h0M157.4 223h0M157.3 225.1h0M157.6 240.2h0M157.5 237.5h0M157.5 247h0M157.4 232.3h0M157.5 243.3h0M157.3 236.2h0M157.8 218.6h0M157.7 240.3h0M157.7 224.7h0M157.7 231h0M157.6 236h0M157.6 230.7h0M157.6 216.7h0M157.8 224.6h0M158 229.7h0M157.8 230.5h0M158 241.3h0M158.1 219.5h0M157.9 242.4h0M158 223.4h0M157.9 241.1h0M157.9 231.1h0M158 231.2h0M158 230.1h0M157.9 228.2h0M158.2 246.7h0M158.1 233.9h0M158.1 233.7h0M158.2 235.2h0M158.3 229.7h0M158.1 234.7h0M158.3 229.6h0M158.2 238.2h0M158.1 236.9h0M158.5 225.8h0M158.5 233.4h0M158.5 223h0M158.4 242.5h0M158.3 235.1h0M158.5 235.1h0M158.5 226.9h0M158.4 241.1h0M158.5 236.4h0M158.5 225.5h0M158.4 237.9h0M158.4 233h0M158.6 234.5h0M158.6 241h0M158.6 218.2h0M158.6 228.8h0M158.7 238.8h0M158.6 236.5h0M158.8 231.1h0M158.7 233.7h0M159 231.3h0M158.9 229.2h0M159 236.9h0M158.9 250.1h0M158.9 216.5h0M159 229.1h0M158.8 242.3h0M158.8 224.3h0M159.3 230.1h0M159.2 228.6h0M159.2 226.4h0M159.3 224.4h0M159.1 234.3h0M159.1 233.3h0M159.2 218.9h0M159.2 236.5h0M159.4 232.1h0M159.3 231h0M159.5 223.8h0M159.3 234.7h0M159.5 240.2h0M159.5 229.6h0M159.5 223.4h0M159.3 222.4h0M159.5 231.9h0M159.5 241h0M159.7 231.6h0M159.7 229.9h0M159.7 226.7h0M159.7 233.6h0M159.7 240.3h0M159.7 221.5h0M159.8 240.4h0M159.7 232.2h0M159.8 240.2h0M159.7 227.6h0M159.6 225.9h0M160 235.5h0M159.9 222.1h0M160 224.2h0M160 239.1h0M159.9 228.9h0M160 236.3h0M159.9 237.3h0M159.9 240.2h0M160 230.2h0M160.2 233.2h0M160.1 237.8h0M160.1 240.1h0M160.2 228h0M160.3 229.1h0M160.2 231.7h0M160.1 240.9h0M160.1 225.3h0M160.1 244.3h0M160.2 225h0M160.2 228.2h0M160.2 235.2h0M160.1 229.9h0M160.5 228.2h0M160.3 243h0M160.5 219.9h0M160.5 236.6h0M160.3 245.4h0M160.6 227.7h0M160.7 226.4h0M160.8 230.2h0M160.7 246.4h0M160.6 228.3h0M160.8 233.7h0M160.6 231.6h0M160.9 235.3h0M160.9 235.5h0M160.8 247.1h0M161 228.9h0M160.8 237.2h0M161 235.6h0M161 228.7h0M160.9 213.5h0M160.9 225.4h0M161 237.9h0M160.9 243.7h0M161 234.3h0M160.9 229.3h0M161.3 225.7h0M161.2 237.7h0M161.2 237.1h0M161.1 236h0M161.1 229.1h0M161.2 224.8h0M161.3 248h0M161.1 228.7h0M161.1 231.8h0M161.4 229.6h0M161.5 240.7h0M161.5 222.6h0M161.5 232.5h0M161.5 240.4h0M161.4 235.9h0M161.4 226.8h0M161.5 236.4h0M161.4 224.5h0M161.3 226.8h0M161.4 232.2h0M161.3 227.4h0M161.5 235.4h0M161.6 236.3h0M161.8 231.3h0M161.6 232.7h0M161.7 238h0M161.6 230.1h0M162 230.7h0M161.9 231.7h0M161.9 224.1h0M162.1 242.5h0M161.9 238.9h0M162 218.3h0M162 222.3h0M161.9 237.6h0M162.1 227.2h0M162.2 235.4h0M162.1 219.7h0M162.2 234.8h0M162.1 246.7h0M162.3 230.9h0M162.1 243.9h0M162.1 240.9h0M162.3 223.1h0M162.1 231.4h0M162.1 229.5h0M162.3 232.5h0M162.1 231.2h0M162.2 238h0M162.1 238.9h0M162.5 243.7h0M162.5 234.1h0M162.4 234.5h0M162.4 230.3h0M162.6 225.8h0M162.4 231h0M162.5 221.9h0M162.4 238.8h0M162.4 221.8h0M162.5 230.7h0M162.4 241.9h0M162.6 222.3h0M162.7 224.2h0M162.6 239.5h0M162.6 235.2h0M162.6 226.5h0M162.6 228.5h0M162.7 225.2h0M162.7 229.5h0M162.6 228h0M162.8 240.2h0M163 207.8h0M163 226.8h0M162.8 235h0M162.9 234.3h0M163 229.3h0M162.9 228.4h0M162.8 226.5h0M163 227.9h0M163 226h0M163 224.2h0M163 228.9h0M162.8 226.1h0M162.9 228.6h0M162.9 230.9h0M162.9 220.7h0M162.9 236.6h0M162.8 222.2h0M163.3 236.1h0M163.2 242.1h0M163.1 237.5h0M163.2 236.4h0M163.3 221.8h0M163.2 247.8h0M163.2 221.9h0M163.2 226.2h0M163.1 242h0M163.2 255.1h0M163.1 236.3h0M163.3 237.6h0M163.5 222.1h0M163.5 235.1h0M163.4 225.2h0M163.5 236.2h0M163.5 230.2h0M163.3 234.1h0M163.5 228.5h0M163.5 227h0M163.4 215.1h0M163.4 228.8h0M163.7 221h0M163.6 228.8h0M163.7 229.1h0M163.7 235.8h0M163.8 230.1h0M163.6 246.7h0M163.7 224.3h0M163.7 240.1h0M163.9 225.1h0M163.9 228.6h0M163.9 235.6h0M164 241.9h0M164 229.8h0M164 221.4h0M164 219.5h0M163.9 236h0M163.9 225.8h0M163.9 226.9h0M164.1 239.2h0M164.3 248.4h0M164.1 227.9h0M164.1 231.2h0M164.2 234.3h0M164.2 228.4h0M164.1 233.2h0M164.2 228.5h0M164.3 228.1h0M164.2 240h0M164.3 221.1h0M164.5 241.5h0M164.4 240h0M164.5 224h0M164.5 229.9h0M164.4 227.7h0M164.5 238.5h0M164.4 237.9h0M164.4 226.5h0M164.4 235.4h0M164.4 227.9h0M164.5 224.5h0M164.5 228.7h0M164.8 222.4h0M164.7 230.6h0M164.6 230.5h0M164.8 230.2h0M164.6 227.7h0M164.6 230.1h0M164.8 241h0M164.7 232.3h0M164.6 225.4h0M164.7 237.4h0M164.9 246.2h0M165 245.1h0M165 228.5h0M164.9 239.2h0M165 233.2h0M165 236.3h0M165 233.7h0M165 235.4h0M165 238.1h0M164.9 229.2h0M165 223.3h0M164.9 233.7h0M164.9 235.2h0M165 225.6h0M164.9 237.6h0M165 241.4h0M165.1 231.3h0M165.3 233.9h0M165.2 235.6h0M165.1 230.5h0M165.2 233h0M165.2 232.5h0M165.5 238h0M165.6 234.6h0M165.3 232.1h0M165.4 231.8h0M165.4 228.4h0M165.4 238.8h0M165.5 245.8h0M165.6 237.2h0M165.5 239h0M165.3 238.7h0M165.4 230.8h0M165.5 226.9h0M165.4 233.7h0M165.4 225.7h0M165.3 245.4h0M165.7 234.1h0M165.6 233.5h0M165.6 225.8h0M165.7 226.8h0M165.7 229.2h0M165.7 227.6h0M165.8 227.1h0M166 240.2h0M166 227.2h0M165.9 235h0M165.9 224h0M165.8 235.7h0M165.9 242.7h0M165.8 225.2h0M166 233.4h0M165.9 236.3h0M165.9 215h0M165.8 228.5h0M165.8 219.2h0M165.8 224.3h0M165.9 233h0M166.1 232.7h0M166.1 232.7h0M166.2 221.4h0M166.1 230.5h0M166.2 236.9h0M166.2 225.2h0M166.2 219.2h0M166.1 228.3h0M166.5 227h0M166.4 238.2h0M166.4 229.4h0M166.4 227.5h0M166.5 236.6h0M166.3 240.6h0M166.5 225h0M166.5 233.1h0M166.4 239.4h0M166.5 221.5h0M166.4 231.4h0M166.3 243.8h0M166.4 233.6h0M166.8 234.9h0M166.8 241.1h0M166.7 212.6h0M166.8 233.5h0M166.7 240.7h0M166.6 230.6h0M166.6 229.5h0M166.6 217.2h0M166.7 224.8h0M166.8 224.6h0M166.9 238.1h0M167 231.1h0M167 217.2h0M167 219.3h0M166.9 233.8h0M167 243.2h0M167.1 232.4h0M167.1 229h0M167.3 239.2h0M167.2 228.7h0M167.3 227h0M167.1 220h0M167.2 235.5h0M167.2 222.8h0M167.3 240h0M167.4 228.3h0M167.4 215.9h0M167.5 234.7h0M167.5 229.6h0M167.4 227.1h0M167.4 241h0M167.4 223.5h0M167.8 232h0M167.6 234.7h0M167.7 236.5h0M167.8 217.9h0M167.7 227.5h0M167.6 232.1h0M167.7 235.6h0M167.8 230.4h0M168 234.9h0M167.9 231.5h0M168 225.9h0M167.9 231.9h0M168 221h0M167.9 231.2h0M167.8 222.4h0M167.8 231.7h0M168 234.2h0M168.3 237.1h0M168.2 230.9h0M168.3 231.6h0M168.3 229.8h0M168.2 228.6h0M168.3 232.1h0M168.2 236.2h0M168.1 239.3h0M168.3 228.3h0M168.5 228.1h0M168.4 222.8h0M168.3 237.2h0M168.5 221.1h0M168.4 237.1h0M168.4 232.7h0M168.5 227.5h0M168.5 224.6h0M168.4 228.9h0M168.4 220.7h0M168.6 224.7h0M168.8 230.7h0M168.8 218.6h0M168.8 229.3h0M168.6 238.1h0M168.7 252.5h0M168.7 230.2h0M168.6 225.8h0M169 234.4h0M169 231.9h0M169 222.8h0M169 218.4h0M168.9 254.1h0M168.9 232.8h0M169.1 238.5h0M169.3 226.5h0M169.2 217.6h0M169.1 233.4h0M169.3 228.9h0M169.3 225h0M169.1 229h0M169.5 236.1h0M169.4 219.9h0M169.4 231.2h0M169.3 237.3h0M169.5 234.1h0M169.7 233.7h0M169.7 217.8h0M169.8 225.5h0M169.7 226.2h0M169.7 235h0M169.6 231.6h0M169.6 212.2h0M169.7 229.1h0M169.8 227.3h0M169.7 224.2h0M169.7 231.6h0M169.6 237.3h0M170 233.2h0M169.9 227.5h0M169.8 229.5h0M169.9 235.7h0M169.8 236h0M170.3 235.8h0M170.1 242.5h0M170.1 221.5h0M170.1 240.7h0M170.5 222.3h0M170.4 229.5h0M170.5 230.2h0M170.4 230.3h0M170.3 229h0M170.5 231.9h0M170.3 227.1h0M170.3 222.6h0M170.4 237.3h0M170.6 237.7h0M170.7 221.3h0M170.7 237.2h0M170.6 226.6h0M170.7 229.1h0M170.6 228.4h0M170.7 220.5h0M170.6 222.1h0M170.7 236h0M170.6 209.7h0M170.7 227.4h0M170.6 219.3h0M170.7 226.6h0M170.6 214.4h0M170.6 221h0M170.9 233.4h0M171 232.4h0M171 230.6h0M171.1 239.1h0M171 225.8h0M171 224.1h0M170.9 227.9h0M170.8 226.6h0M171 230.6h0M170.9 233.6h0M171 236.6h0M171 236h0M171.1 231.9h0M171.2 231.4h0M171.1 236.3h0M171.2 223.4h0M171.2 228.3h0M171.3 230.9h0M171.1 243.2h0M171.2 225.2h0M171.5 233.9h0M171.4 235.3h0M171.4 239.1h0M171.6 214.4h0M171.5 233.1h0M171.4 230.2h0M171.4 223.8h0M171.5 232.3h0M171.5 219.7h0M171.5 224.7h0M171.5 237.6h0M171.8 224.9h0M171.8 218h0M171.6 231.1h0M171.7 232.1h0M171.6 237.5h0M171.7 243.8h0M171.6 225.2h0M171.7 221.8h0M171.9 215.9h0M172 235.2h0M171.8 227.4h0M172 236.5h0M172 230.3h0M172 216.7h0M172 226.3h0M171.9 233.5h0M171.8 233.8h0M172 225.2h0M171.8 230.8h0M172 225.4h0M172 220.6h0M171.8 223.9h0M172 229.1h0M172.2 230.7h0M172.1 230.5h0M172.1 232.3h0M172.3 226.3h0M172.5 230.1h0M172.4 230.4h0M172.3 223.5h0M172.3 224h0M172.4 242.7h0M172.5 229.2h0M172.4 221.2h0M172.4 241.2h0M172.3 228h0M172.6 245.2h0M172.7 222.8h0M172.7 229h0M172.7 226.2h0M172.7 226.3h0M172.7 226.4h0M172.7 225.8h0M173 235.3h0M173 226.4h0M173 221.2h0M173 230.5h0M172.9 225h0M173 227.9h0M172.9 224h0M173 235.4h0M172.9 220h0M173 232.1h0M173 221.7h0M172.9 231.9h0M172.9 232.8h0M172.9 223.9h0M172.9 229.4h0M173 232.1h0M173.1 229.6h0M173.1 222h0M173.2 223.5h0M173.2 241.1h0M173.2 231.9h0M173.1 224.7h0M173.2 226h0M173.2 202.2h0M173.3 219.5h0M173.2 209.7h0M173.3 233.8h0M173.1 236.7h0M173.4 233h0M173.5 220.4h0M173.4 215.1h0M173.5 229.2h0M173.4 235.5h0M173.5 236.2h0M173.5 238.2h0M173.4 237h0M173.5 230.8h0M173.5 229.7h0M173.4 234.7h0M173.4 235.9h0M173.3 217.5h0M173.3 233.9h0M173.6 238h0M173.7 219.6h0M173.7 232.8h0M173.7 230.9h0M173.8 229.9h0M173.6 234.5h0M173.7 221.8h0M173.8 229.2h0M173.7 231.6h0M173.7 228.9h0M173.6 230.8h0M173.6 234h0M173.7 223.2h0M173.8 231.6h0M173.9 221.7h0M173.9 223.2h0M174 223.6h0M173.8 231.8h0M173.9 228.9h0M173.9 235.2h0M173.8 224h0M173.8 229.5h0M173.9 224.4h0M173.9 240.2h0M173.9 231.2h0M174.2 225.8h0M174.2 224.4h0M174.2 225h0M174.1 226.7h0M174.1 221.7h0M174.3 230.1h0M174.3 219.7h0M174.2 218.9h0M174.3 224.8h0M174.2 228.5h0M174.2 231.6h0M174.1 227.4h0M174.1 237.1h0M174.1 228.5h0M174.4 225.2h0M174.4 230.6h0M174.4 223.6h0M174.5 226h0M174.5 222.7h0M174.4 226.4h0M174.5 237.3h0M174.5 233.9h0M174.5 229.8h0M174.3 233.1h0M174.6 230.1h0M174.7 232.8h0M174.6 210.1h0M174.8 229.5h0M174.8 224.4h0M174.7 227.3h0M174.6 234.6h0M174.7 228.6h0M174.6 225.9h0M174.7 240.1h0M174.6 228.7h0M174.9 228h0M175 223.1h0M174.8 226.1h0M175 217.5h0M175 217.4h0M174.9 238.9h0M174.8 228.1h0M175 218.7h0M174.8 241.6h0M175 228.6h0M175 222h0M174.8 235.9h0M174.8 235.2h0M174.8 231.1h0M175.2 220.9h0M175.1 240.8h0M175.3 214.1h0M175.1 221.6h0M175.1 234h0M175.3 234.9h0M175.3 220.6h0M175.2 218.4h0M175.2 223.2h0M175.2 230.1h0M175.3 242.1h0M175.2 234.8h0M175.2 229.4h0M175.5 218.6h0M175.4 236.5h0M175.3 231.3h0M175.5 230.1h0M175.5 220.1h0M175.3 235.3h0M175.3 236h0M175.6 240.2h0M175.7 225.6h0M175.8 221.9h0M175.8 233.1h0M175.8 233.2h0M175.7 239h0M175.7 227.5h0M175.6 226.7h0M175.7 223.6h0M175.8 236.5h0M175.7 218.3h0M175.8 222.6h0M175.8 223.2h0M176 225.2h0M175.9 216.1h0M176 225h0M176 232.9h0M175.9 234h0M175.9 219.8h0M175.9 235.8h0M176 224.1h0M176 222.6h0M175.9 227.1h0M175.8 230.4h0M176 224.1h0M176.2 234.7h0M176.3 223.7h0M176.2 220.1h0M176.2 225.8h0M176.1 226h0M176.3 230.2h0M176.2 232.7h0M176.2 232.3h0M176.2 234.9h0M176.1 229.3h0M176.2 218.8h0M176.1 233h0M176.1 236.3h0M176.3 221.2h0M176.1 236.2h0M176.3 226.6h0M176.4 228.5h0M176.3 230.8h0M176.4 232.1h0M176.5 220.2h0M176.5 224.6h0M176.5 228.1h0M176.3 230.9h0M176.5 231.1h0M176.4 214.2h0M176.5 223.3h0M176.5 230.7h0M176.6 228.6h0M176.7 225.4h0M176.6 224.8h0M176.8 241.1h0M176.7 232.9h0M176.7 217.9h0M176.8 233h0M176.7 225.5h0M176.7 230.5h0M176.7 245.4h0M176.8 214.4h0M176.8 235.9h0M176.8 228.7h0M177 221.2h0M177 216.1h0M176.9 223h0M176.9 218.5h0M176.8 237.2h0M176.8 233.1h0M177 224h0M176.9 218.7h0M177.2 229.3h0M177.1 223.2h0M177.2 221.1h0M177.1 233.6h0M177.1 237.3h0M177.1 227.5h0M177.1 216.6h0M177.3 226.6h0M177.3 228.9h0M177.4 227.3h0M177.6 227.6h0M177.5 227.9h0M177.4 232.9h0M177.5 216.5h0M177.5 222.2h0M177.5 231.4h0M177.4 220.8h0M177.5 232.1h0M177.3 229h0M177.3 225.8h0M177.4 227.6h0M177.7 220.2h0M177.7 223.6h0M177.7 232h0M177.7 226.4h0M177.8 219.3h0M177.6 230.9h0M177.7 227.5h0M177.7 229.5h0M177.8 220h0M177.9 236.5h0M178 226.9h0M178 221.3h0M177.8 237.4h0M178 217.1h0M178 229.1h0M177.9 233.2h0M178.2 208.5h0M178.3 229.5h0M178.1 228.8h0M178.1 222.6h0M178.1 224.6h0M178.1 235.1h0M178.1 230.4h0M178.2 217.4h0M178.3 237.3h0M178.2 231.4h0M178.2 228.2h0M178.4 220h0M178.5 221.8h0M178.5 228.5h0M178.5 228.4h0M178.4 234.4h0M178.6 229.7h0M178.6 232.1h0M178.7 205.4h0M178.7 227h0M178.7 226.5h0M178.6 224.6h0M178.7 226.6h0M178.7 239.4h0M178.6 235.4h0M178.6 225.7h0M178.7 225.2h0M178.6 225.6h0M178.6 236.3h0M178.7 220.7h0M178.6 225h0M178.6 231.4h0M178.6 223.8h0M178.6 219.2h0M178.8 222.9h0M178.7 222.4h0M178.7 228.2h0M178.9 231.9h0M178.9 226.7h0M178.8 227.2h0M178.9 229.9h0M178.9 228.2h0M178.9 229.7h0M178.9 222.2h0M178.9 228.8h0M178.9 234.1h0M178.9 229.1h0M179 215.9h0M178.9 220.4h0M179 225.9h0M178.9 238.4h0M178.9 227h0M179.3 223h0M179.2 225.1h0M179.2 221.8h0M179.1 229.8h0M179.2 222.7h0M179.1 227h0M179.1 228.4h0M179.1 225.5h0M179.2 239.7h0M179.3 228.3h0M179.2 228.5h0M179.4 236.1h0M179.4 238.3h0M179.3 231.2h0M179.3 231.2h0M179.4 221.4h0M179.6 230.8h0M179.4 218.1h0M179.3 223h0M179.4 211.9h0M179.3 218h0M179.3 221.7h0M179.5 228.6h0M179.5 226.6h0M179.6 231.7h0M179.8 234.1h0M179.8 225.1h0M179.7 222.4h0M179.7 234.9h0M179.6 219.1h0M179.6 228.6h0M179.6 232.3h0M179.6 228.4h0M179.6 215.9h0M179.7 226.7h0M179.7 225.2h0M179.6 223.1h0M179.7 222.6h0M179.8 218.2h0M179.6 227.4h0M179.8 224.3h0M179.6 214.9h0M179.7 234.5h0M179.7 218.6h0M179.6 225.1h0M179.9 224.1h0M180 221.2h0M179.9 218.4h0M179.9 217.1h0M180 230h0M179.9 224.2h0M180 230.2h0M179.9 236.8h0M180 225.9h0M180 222.4h0M180 231.4h0M180 220h0M180 227.5h0M180 217h0M180 218.6h0M180.1 227.6h0M180.1 229.3h0M180.2 218.8h0M180.2 224.3h0M180.2 221h0M180.2 236h0M180.1 232h0M180.2 237.2h0M180.2 223.7h0M180.2 226.7h0M180.3 233.2h0M180.2 227.3h0M180.3 223h0M180.3 230.6h0M180.2 218.2h0M180.3 235.5h0M180.1 233.7h0M180.1 230.2h0M180.2 223h0M180.1 219.6h0M180.1 230.7h0M180.1 226h0M180.5 233.5h0M180.4 217.6h0M180.5 227.7h0M180.4 232.5h0M180.3 209h0M180.4 225.1h0M180.4 214h0M180.3 231.2h0M180.3 237h0M180.5 227.1h0M180.3 220.9h0M180.3 231.6h0M180.3 239.6h0M180.5 228.6h0M180.4 229.8h0M180.4 227h0M180.6 225.3h0M180.8 221h0M180.8 229.9h0M180.6 230.1h0M180.8 222.3h0M180.6 228.3h0M180.7 217.8h0M180.7 233.7h0M180.8 232.1h0M180.7 229.1h0M180.7 226.4h0M180.6 223.3h0M180.7 225.8h0M180.8 219.3h0M181 235.1h0M181 239.4h0M180.9 225.8h0M181.1 227.3h0M180.9 225h0M180.9 224.6h0M181 231.4h0M181 219.9h0M180.9 219.9h0M181 235.5h0M180.8 225.3h0M180.9 227.3h0M180.8 216h0M180.9 240h0M181 228.8h0M181.3 226.3h0M181.2 224.3h0M181.3 233.9h0M181.3 210h0M181.3 231.6h0M181.4 220.1h0M181.4 215.7h0M181.5 217.1h0M181.4 229.7h0M181.5 220h0M181.4 226.7h0M181.4 223.2h0M181.3 237.3h0M181.5 237.5h0M181.5 231.6h0M181.4 225.4h0M181.5 227.5h0M181.7 216.9h0M181.6 221.4h0M181.6 221.8h0M181.6 217.2h0M181.6 227.4h0M181.6 233.4h0M181.7 222.9h0M181.6 226.8h0M181.6 221.3h0M181.7 220.7h0M181.8 226.9h0M182 237.8h0M182 233.2h0M182 233.1h0M181.8 230.4h0M181.9 234h0M182 224.5h0M181.9 219.7h0M181.9 222.2h0M181.8 223.2h0M181.9 234.1h0M181.9 237h0M182 226.4h0M182.1 224.4h0M182.3 229.1h0M182.3 235.8h0M182.3 220.3h0M182.2 217.1h0M182.1 226.2h0M182.2 239.1h0M182.4 228.8h0M182.4 207.4h0M182.4 226.1h0M182.4 221.4h0M182.4 229.2h0M182.5 224.6h0M182.5 223.5h0M182.4 232.8h0M182.4 229.8h0M182.4 219.9h0M182.4 224.3h0M182.5 213.7h0M182.5 219.5h0M182.5 226.1h0M182.5 223.4h0M182.5 218.3h0M182.5 231.5h0M182.6 220.6h0M182.8 216.2h0M182.6 218.3h0M182.6 231.1h0M182.6 230.8h0M182.7 229.8h0M182.8 226.6h0M182.7 230.7h0M182.8 228.1h0M182.8 238.6h0M182.7 235.9h0M182.7 227.1h0M182.6 225h0M182.9 231.6h0M182.9 222.4h0M182.9 219.7h0M183 223.9h0M183 235.6h0M182.9 213.8h0M182.8 219.7h0M182.9 235.8h0M182.9 224.1h0M183 226h0M183.2 221.1h0M183.2 221.7h0M183.3 230.6h0M183.1 223.3h0M183.2 221.4h0M183.2 232.5h0M183.3 220.4h0M183.1 231.6h0M183.1 214.2h0M183.2 233.8h0M183.2 221.3h0M183.2 224.9h0M183.1 226.1h0M183.3 217.9h0M183.1 234.2h0M183.2 234.4h0M183.2 234.6h0M183.3 223h0M183.3 225.8h0M183.3 220h0M183.4 229.8h0M183.5 225.6h0M183.5 225.5h0M183.4 222.2h0M183.5 195.5h0M183.5 230.1h0M183.4 218.9h0M183.4 224.7h0M183.5 222.4h0M183.3 220.8h0M183.3 233.6h0M183.5 242.5h0M183.4 227.8h0M183.6 229.6h0M183.6 224.2h0M183.8 233h0M183.8 222.8h0M183.8 216.2h0M183.6 228.4h0M183.8 224.4h0M183.8 230.9h0M183.6 235.3h0M183.6 214.5h0M183.7 229.2h0M183.7 217.2h0M183.6 223.9h0M183.7 222.7h0M183.7 208.8h0M183.8 221.1h0M183.9 226.2h0M184 228h0M184 212.4h0M184 215h0M183.9 219.6h0M184 234.3h0M183.9 246.3h0M184.2 226.3h0M184.3 209.1h0M184.2 228.7h0M184.3 220.5h0M184.3 214.4h0M184.1 219.9h0M184.3 220.9h0M184.2 233.9h0M184.2 226.2h0M184.3 223.9h0M184.1 227.5h0M184.1 229.8h0M184.2 238.7h0M184.5 222.3h0M184.4 219.3h0M184.5 229.9h0M184.3 217.3h0M184.4 216.9h0M184.4 224.7h0M184.4 230.8h0M184.4 238.6h0M184.3 220.5h0M184.5 233.5h0M184.4 230.4h0M184.3 230.9h0M184.5 230.3h0M184.5 217.8h0M184.3 231.1h0M184.3 241.3h0M184.3 234.3h0M184.7 215.5h0M184.7 223.1h0M184.8 237.5h0M184.6 215.5h0M184.6 224.7h0M184.6 227.6h0M184.7 228.1h0M184.8 215.8h0M184.8 233.1h0M184.8 239.2h0M184.8 229h0M184.8 219.8h0M185 215.9h0M184.8 219.5h0M184.8 224.6h0M184.9 235h0M185 232.6h0M185.1 232.5h0M185 219.8h0M184.8 230.9h0M185.3 220.8h0M185.1 224h0M185.2 226.7h0M185.3 220.2h0M185.1 224h0M185.1 227.2h0M185.2 221.6h0M185.2 237.2h0M185.1 227h0M185.2 222.6h0M185.1 240.4h0M185.4 220.2h0M185.5 222h0M185.3 235h0M185.5 220.1h0M185.4 218.7h0M185.4 225.1h0M185.5 226h0M185.5 216.4h0M185.5 221.3h0M185.8 232.3h0M185.6 219.1h0M185.7 234.6h0M185.6 224.4h0M185.8 233.8h0M185.6 222.3h0M185.7 230.2h0M185.7 215.6h0M185.6 217.8h0M185.7 223.3h0M185.7 234.7h0M185.8 223.8h0M185.8 226.1h0M186 230.4h0M186 223.7h0M185.9 207.9h0M185.8 219.7h0M185.9 220.8h0M186 224.4h0M185.8 220.7h0M186 211.5h0M186 222.9h0M185.9 221.9h0M185.9 212.2h0M186.1 223.4h0M186 224.4h0M186.1 228.3h0M186 223h0M185.9 219.1h0M185.9 230.7h0M185.8 216.8h0M186 219.6h0M186 229.7h0M186 229.1h0M185.9 215.4h0M186.3 216.4h0M186.3 228.2h0M186.3 216.2h0M186.2 224.7h0M186.3 220.1h0M186.3 229.4h0M186.2 224.9h0M186.2 223.2h0M186.2 221.9h0M186.1 219.1h0M186.1 216.6h0M186.2 215.7h0M186.1 232.7h0M186.3 230h0M186.4 226.6h0M186.3 206.7h0M186.5 213.9h0M186.5 236.7h0M186.5 221.1h0M186.4 222.4h0M186.5 220.8h0M186.4 233.1h0M186.4 214.8h0M186.6 215.2h0M186.6 216.9h0M186.6 217.6h0M186.6 215.2h0M186.6 222.7h0M186.7 229.2h0M186.7 230.2h0M186.6 215h0M186.6 217.9h0M186.8 224h0M186.8 222.7h0M186.6 236h0M186.7 224.2h0M186.6 227.4h0M186.7 227h0M186.6 225.6h0M186.7 227.3h0M186.9 224h0M186.9 217.5h0M186.9 228.3h0M186.8 232.6h0M187 218.4h0M187 230h0M186.9 222.8h0M186.8 227.3h0M187 211.4h0M187.2 217.6h0M187.3 219.8h0M187.1 217.6h0M187.2 235.5h0M187.2 229h0M187.2 213.6h0M187.3 223.9h0M187.3 217.4h0M187.3 216.9h0M187.1 217h0M187.3 228.2h0M187.5 230.5h0M187.5 234.3h0M187.4 215.2h0M187.5 230.6h0M187.4 228.5h0M187.5 213.5h0M187.5 223h0M187.5 216.3h0M187.5 222.7h0M187.6 223h0M187.5 229.1h0M187.5 213.9h0M187.3 222.7h0M187.4 219.2h0M187.6 235.2h0M187.6 221.7h0M187.6 213h0M187.6 230.4h0M187.7 236.6h0M187.6 225.2h0M187.7 228.2h0M187.7 211.5h0M187.6 218.4h0M188 215.2h0M187.9 211.8h0M188 214.4h0M187.9 223.1h0M187.8 220.1h0M187.9 221.4h0M187.8 215h0M187.9 217.4h0M187.9 217.2h0M187.8 218.9h0M187.9 216.7h0M188.2 216h0M188.3 212.2h0M188.2 224.7h0M188.2 219.2h0M188.2 223.9h0M188.1 222.4h0M188.2 230.7h0M188.2 231.6h0M188.3 231.1h0M188.2 214.7h0M188.4 216h0M188.4 214h0M188.5 228.4h0M188.4 211.1h0M188.3 221.2h0M188.3 212.7h0M188.4 236.4h0M188.3 225.6h0M188.5 219.3h0M188.3 227.5h0M188.4 229.1h0M188.5 235h0M188.5 217.8h0M188.6 214.2h0M188.8 226.2h0M188.6 213.3h0M188.6 220.7h0M188.6 210h0M188.7 219.4h0M188.7 224.4h0M188.6 225.8h0M188.7 214h0M188.6 219.8h0M188.7 217.1h0M188.7 225.5h0M188.8 223.9h0M188.7 227.1h0M188.7 215.8h0M188.9 237.4h0M188.9 221.8h0M188.9 219.5h0M189 229.7h0M189 212.6h0M188.8 226h0M188.9 221.7h0M188.9 211.5h0M188.9 231.4h0M188.8 224.7h0M188.9 218.5h0M189 217.9h0M188.9 222.4h0M189 220.4h0M188.9 217.4h0M189 228.1h0M188.8 226.2h0M189 225.8h0M188.9 228.7h0M189.2 214.6h0M189.3 236.4h0M189.3 224.8h0M189.1 212h0M189.3 227h0M189.3 216.5h0M189.1 223.9h0M189.1 227h0M189.2 218.3h0M189.3 217.9h0M189.1 206.9h0M189.2 214.8h0M189.4 231.9h0M189.5 221.4h0M189.5 224.3h0M189.3 222.4h0M189.5 230.5h0M189.3 213.3h0M189.5 222.7h0M189.4 220.3h0M189.4 211.3h0M189.4 229.1h0M189.4 214.6h0M189.7 234.1h0M189.7 222.2h0M189.7 222h0M189.7 210h0M189.7 220.7h0M189.6 224.4h0M189.7 220.4h0M189.7 231.9h0M189.7 218.2h0M189.6 212.3h0M189.7 221.6h0M189.7 220.3h0M189.8 216h0M189.6 211.5h0M189.7 224.4h0M189.6 214.2h0M190 218.8h0M189.8 236.6h0M189.8 213.3h0M189.8 220.4h0M190.1 212.4h0M190.1 228.4h0M190 220.5h0M189.8 218.7h0M190 223.2h0M189.9 229.7h0M190 233.6h0M189.9 227.8h0M190 223.2h0M190.2 220.1h0M190.1 216.6h0M190.2 219.1h0M190.1 222.4h0M190.1 221.7h0M190.1 214.6h0M190.2 214.2h0M190.3 213.3h0M190.2 218.1h0M190.3 234h0M190.3 217.4h0M190.2 221.3h0M190.5 216.9h0M190.5 224.2h0M190.4 214.5h0M190.5 218h0M190.5 221.8h0M190.4 219.3h0M190.4 216.7h0M190.3 231.1h0M190.5 218.5h0M190.4 221.4h0M190.4 215.5h0M190.5 218.1h0M190.5 217.4h0M190.4 220h0M190.6 213.8h0M190.7 215.6h0M190.6 227.8h0M190.6 218.2h0M190.7 216.6h0M190.6 211.3h0M190.6 219.2h0M190.8 219.6h0M190.8 217.2h0M190.8 213.8h0M190.7 210.1h0M190.6 228.3h0M190.8 211.5h0M190.8 215.8h0M190.7 209.5h0M191 222.4h0M191 222.7h0M191 232.9h0M191 235.6h0M190.8 217.9h0M191 226.7h0M190.9 215.3h0M190.9 219.6h0M190.9 219.7h0M190.8 214.8h0M191 224.1h0M190.9 224.4h0M191.1 228.1h0M191.3 217.2h0M191.1 210.7h0M191.3 221.7h0M191.2 228.4h0M191.2 226.9h0M191.1 222.3h0M191.2 212.1h0M191.2 226.5h0M191.1 222.9h0M191.2 220.5h0M191.1 217.3h0M191.1 218h0M191.3 230.2h0M191.4 224.2h0M191.4 219.7h0M191.5 219.8h0M191.5 223.2h0M191.4 222.2h0M191.4 211.7h0M191.5 217.4h0M191.3 218h0M191.5 217.5h0M191.4 224.3h0M191.4 223.3h0M191.8 228.2h0M191.6 214.1h0M191.6 217.2h0M191.7 220.6h0M191.8 212.6h0M191.6 216.8h0M191.6 223.1h0M191.6 211.9h0M191.7 218.5h0M191.8 213.1h0M192 225.8h0M192 217.4h0M192 206.1h0M191.9 225.8h0M192 221h0M192 211.9h0M192 214.2h0M192 222h0M192.1 215.6h0M192.2 215.5h0M192.2 225.5h0M192.2 223.8h0M192.1 230h0M192.1 228.3h0M192.1 215.3h0M192.2 219.1h0M192.2 221h0M192.1 223.1h0M192.1 225.4h0M192.2 224h0M192.1 209.3h0M192.2 218.5h0M192.3 213.7h0M192.3 222.3h0M192.5 228.6h0M192.4 224h0M192.5 220.2h0M192.5 218.3h0M192.5 217h0M192.5 222.8h0M192.5 211.5h0M192.5 224h0M192.6 214.5h0M192.7 231.2h0M192.6 219h0M192.8 204.6h0M192.6 221.3h0M192.8 216h0M192.7 229.9h0M192.6 217.2h0M192.6 219.9h0M192.7 224h0M192.8 220.5h0M193 228.4h0M192.9 223.1h0M192.9 220.5h0M192.8 209.3h0M192.9 225.6h0M192.9 220.3h0M192.9 233.7h0M193 222h0M192.9 209.2h0M192.9 216.7h0M193.1 215.1h0M193.3 226.9h0M193.2 203.2h0M193.1 222.7h0M193.1 227.5h0M193.1 232h0M193.1 221.8h0M193.3 210.5h0M193.1 217.6h0M193.3 220.5h0M193.4 226.3h0M193.4 212.6h0M193.5 217.6h0M193.5 223.1h0M193.4 221.3h0M193.5 235.6h0M193.5 213.1h0M193.5 219.9h0M193.4 212.4h0M193.4 228.6h0M193.5 227h0M193.3 213.6h0M193.6 224.7h0M193.6 224.7h0M193.7 210.4h0M193.8 222.7h0M193.7 220.2h0M193.7 211.8h0M193.7 218.4h0M193.6 209.7h0M193.8 220.3h0M193.6 221.1h0M193.6 221.5h0M193.9 218.8h0M193.8 217.9h0M193.9 223.9h0M193.8 227.6h0M193.8 221.2h0M193.9 225h0M194 215.6h0M194 222.9h0M193.9 232h0M193.9 217.4h0M193.9 217.7h0M194.2 213.6h0M194.1 225h0M194.1 219.4h0M194.2 218.3h0M194.3 225.8h0M194.2 233.4h0M194.5 217.4h0M194.3 219h0M194.4 219.2h0M194.4 219.7h0M194.3 228.5h0M194.5 232.4h0M194.3 216.3h0M194.5 219.9h0M194.3 217.7h0M194.4 232.1h0M194.5 218.1h0M194.5 209.2h0M194.4 223.1h0M194.4 207.2h0M194.3 192.1h0M194.5 218h0M194.6 217h0M194.6 227h0M194.6 230h0M194.6 212.4h0M194.6 219.9h0M194.7 212.7h0M194.7 214.3h0M194.7 213.6h0M194.8 227.8h0M194.7 211.5h0M194.6 216.1h0M194.6 238.7h0M194.7 226.6h0M194.6 223.2h0M195 219.8h0M195 218.6h0M194.9 218.6h0M194.8 222h0M194.9 217.2h0M194.9 215.7h0M195 219.9h0M194.9 226.4h0M195.2 227.6h0M195.2 227h0M195.2 216.2h0M195.3 224.5h0M195.3 219.2h0M195.3 221.4h0M195.1 223.4h0M195.2 229.6h0M195.1 213.5h0M195.1 222.6h0M195.3 226.8h0M195.2 215.8h0M195.3 224.1h0M195.3 221h0M195.3 224.6h0M195.4 221.9h0M195.5 212.1h0M195.4 224.6h0M195.3 216.6h0M195.3 221.6h0M195.5 216.6h0M195.4 225.1h0M195.8 216.2h0M195.7 219.1h0M195.7 225.7h0M195.6 213.5h0M195.6 208.9h0M195.7 223.2h0M195.6 217.7h0M195.7 218.9h0M195.7 227.6h0M195.7 213.5h0M195.6 211.9h0M195.8 220.5h0M195.8 210.4h0M195.9 224.8h0M195.9 221.5h0M195.8 223.2h0M196 219.7h0M195.9 226.4h0M195.9 215.6h0M195.9 214.3h0M195.9 220.1h0M195.9 212.8h0M195.9 218.3h0M195.9 208.4h0M196.1 223.3h0M196.1 216.1h0M196.3 228.1h0M196.2 219.1h0M196.1 228.9h0M196.2 210.9h0M196.2 213.4h0M196.2 213.7h0M196.2 216.7h0M196.2 224.4h0M196.3 227.2h0M196.2 215.7h0M196.4 209h0M196.4 226.2h0M196.3 202.1h0M196.5 208.2h0M196.3 212.5h0M196.4 210.8h0M196.4 194.3h0M196.5 221.9h0M196.4 213.8h0M196.4 208.7h0M196.5 222.1h0M196.3 223.4h0M196.4 228.5h0M196.5 221.9h0M196.5 223.6h0M196.5 224.6h0M196.4 215.6h0M196.8 216.8h0M196.8 224.8h0M196.7 228.9h0M196.7 221.7h0M196.8 224h0M196.6 212.7h0M196.7 216.2h0M196.6 222.5h0M196.7 224.1h0M196.8 221.1h0M196.9 221.6h0M196.8 217h0M197 224.3h0M197 209.8h0M196.9 206.3h0M196.8 213.7h0M196.9 222.4h0M196.9 220.2h0M197 213h0M197 211.9h0M196.8 225.6h0M197.1 220.7h0M197.2 217.5h0M197.1 222h0M197.2 224.3h0M197.3 216.4h0M197.2 217.4h0M197.5 215h0M197.4 229.6h0M197.5 229.7h0M197.4 221.6h0M197.5 223.8h0M197.5 214.2h0M197.5 223.1h0M197.5 225.1h0M197.5 211.2h0M197.4 220h0M197.8 215.6h0M197.7 215h0M197.7 225.9h0M197.7 218.5h0M197.7 210.1h0M197.7 206.3h0M197.8 221.5h0M197.7 231.3h0M197.8 206.6h0M197.7 217.6h0M198 215.2h0M197.9 220.2h0M198 221h0M198 223.5h0M197.8 217.2h0M198 209.6h0M197.8 212.1h0M198 213.4h0M197.9 214.5h0M197.9 218.5h0M197.9 215.3h0M198.2 218.2h0M198.2 218.5h0M198.3 220.5h0M198.2 220.9h0M198.1 220.6h0M198.1 226.7h0M198.2 210.2h0M198.1 216.7h0M198.1 218.6h0M198.2 223.2h0M198.2 222h0M198.1 216.4h0M198.2 213.2h0M198.3 223.6h0M198.5 218.3h0M198.5 229.4h0M198.5 223.2h0M198.4 220.6h0M198.5 218.4h0M198.4 226.4h0M198.5 195.2h0M198.5 218.4h0M198.5 207.9h0M198.5 222.4h0M198.5 219.7h0M198.5 219.5h0M198.8 224.8h0M198.6 211h0M198.6 222.7h0M198.6 215.9h0M198.8 223.4h0M198.7 213.9h0M198.6 227.4h0M198.6 223.7h0M198.7 229.4h0M198.7 221.6h0M198.7 219.8h0M198.6 215.7h0M198.7 214.7h0M198.7 207.3h0M198.7 206.4h0M198.8 224.1h0M198.6 225.6h0M198.7 218.7h0M198.8 215.7h0M199 205.1h0M199 208.5h0M198.9 220.8h0M199 214.7h0M198.8 206.3h0M198.9 206.8h0M199.1 225.6h0M199.3 220.2h0M199.1 208.3h0M199.1 218.8h0M199.2 223.9h0M199.2 209.7h0M199.3 211.1h0M199.1 214.3h0M199.3 224.1h0M199.1 211.6h0M199.2 208.8h0M199.1 215h0M199.3 219.7h0M199.2 219.2h0M199.2 218.9h0M199.2 212.9h0M199.5 208.8h0M199.4 222.6h0M199.3 231.1h0M199.4 220.3h0M199.4 215h0M199.4 233.8h0M199.5 209.6h0M199.4 216.4h0M199.5 227.4h0M199.5 220.1h0M199.5 223.8h0M199.4 209.7h0M199.5 206.2h0M199.5 217.5h0M199.4 225h0M199.4 210.3h0M199.4 209.7h0M199.7 217.8h0M199.8 223.3h0M199.8 218.9h0M199.7 220.3h0M199.8 204.9h0M199.6 217.8h0M199.6 203.6h0M199.7 214.4h0M200 222.1h0M199.9 220.2h0M199.8 214.9h0M199.9 218.7h0M200 214.1h0M200 214.3h0M200 206.1h0M200 216.6h0M199.9 214.9h0M200.2 214.4h0M200.1 219.1h0M200.3 221.7h0M200.3 213h0M200.1 209h0M200.3 224.5h0M200.2 206.3h0M200.2 215.2h0M200.2 220.7h0M200.5 222.9h0M200.4 211.8h0M200.3 219.9h0M200.5 217.4h0M200.4 221.8h0M200.4 206.4h0M200.3 214.1h0M200.5 218.7h0M200.5 214.5h0M200.4 208.3h0M200.3 213.4h0M200.5 207.7h0M200.4 220.2h0M200.8 217.9h0M200.6 212.9h0M200.7 213.4h0M200.7 183.9h0M200.6 219.2h0M200.7 213.7h0M200.6 215.5h0M200.7 218.3h0M200.7 212h0M200.7 208.2h0M200.6 205.9h0M200.8 210.6h0M200.6 215h0M200.8 211.3h0M200.7 221.1h0M200.8 226.5h0M200.8 229.6h0M201 223.9h0M200.8 224.7h0M201 216.6h0M200.9 216.3h0M201 208.6h0M201 223.7h0M200.8 193.6h0M200.8 213.5h0M200.8 227.7h0M201 210.4h0M201.2 211h0M201.2 212.6h0M201.2 207.5h0M201.3 217h0M201.2 217.8h0M201.3 219h0M201.2 218.3h0M201.2 205.8h0M201.1 217.4h0M201.3 222.6h0M201.1 224.3h0M201.1 210.5h0M201.1 218.7h0M201.2 234.5h0M201.1 220.7h0M201.1 218.8h0M201.1 216.5h0M201.2 226.8h0M201.3 224.7h0M201.2 223.4h0M201.3 216.8h0M201.4 217.6h0M201.4 218.4h0M201.4 214.2h0M201.4 218.2h0M201.5 226.5h0M201.5 221.1h0M201.5 229h0M201.3 218.8h0M201.3 220.6h0M201.5 221h0M201.3 206.7h0M201.5 229h0M201.8 226.9h0M201.6 213.6h0M201.8 215.7h0M201.6 231.7h0M201.7 223.3h0M201.8 213.9h0M201.7 216.3h0M201.7 208.7h0M201.6 200h0M201.6 227h0M201.6 206.3h0M201.9 222.1h0M202.1 236h0M201.8 218.7h0M201.9 215.9h0M202.1 208.3h0M202 217.1h0M201.9 205.3h0M202 213.2h0M202.1 206.4h0M201.8 210.6h0M201.9 212.2h0M201.8 209.7h0M201.8 219.9h0M201.9 223.1h0M201.8 213.9h0M202 206.1h0M202.1 225.2h0M202.1 216.1h0M202.2 209.2h0M202.1 206.4h0M202.1 216.3h0M202.1 223h0M202.1 211.1h0M202.1 214.2h0M202.3 209.4h0M202.1 214.4h0M202.2 220h0M202.1 206.4h0M202.1 214.2h0M202.2 206.4h0M202.3 211h0M202.3 207.6h0M202.4 216h0M202.4 206.1h0M202.4 214.3h0M202.5 208.7h0M202.5 210.7h0M202.5 215.1h0M202.4 215.2h0M202.5 215.4h0M202.3 218.8h0M202.4 217h0M202.3 227.3h0M202.5 213.3h0M202.6 209.4h0M202.8 217.7h0M202.6 220.3h0M202.6 209.7h0M202.6 218.8h0M202.7 213.6h0M202.7 210.7h0M202.7 210.9h0M202.7 218.3h0M202.9 198.1h0M203 216.7h0M203 214.7h0M202.9 214.4h0M202.9 209.7h0M202.9 219.7h0M202.8 228.3h0M202.9 216.1h0M203 212.4h0M203.2 215.1h0M203.1 212.5h0M203.2 216.1h0M203.2 213.8h0M203.2 212.3h0M203.1 216.8h0M203.1 217.2h0M203.3 223.3h0M203.4 219.8h0M203.4 209.6h0M203.5 207.2h0M203.5 202.9h0M203.4 208.1h0M203.5 212.7h0M203.6 218.8h0M203.6 207.7h0M203.6 209.7h0M203.7 210.1h0M203.7 207.5h0M203.6 201.9h0M203.7 213.2h0M203.7 200.7h0M203.7 218.1h0M203.6 218.2h0M203.6 224.7h0M203.8 226.7h0M203.6 215.2h0M203.8 217.7h0M203.7 212.6h0M203.6 216.1h0M204 225.2h0M203.9 205.1h0M203.9 223h0M203.9 215.5h0M204 213h0M203.9 207.2h0M203.9 214.7h0M204 215.3h0M203.8 217.1h0M204 208.4h0M204 212h0M204 215.6h0M203.9 220.7h0M203.9 211.6h0M204 211.6h0M204.3 211h0M204.1 216.9h0M204.1 221.5h0M204.3 214.5h0M204.2 213.9h0M204.1 211.4h0M204.1 221.6h0M204.2 213.1h0M204.1 219.9h0M204.1 211h0M204.3 220.6h0M204.4 224.4h0M204.4 217.9h0M204.3 211.5h0M204.5 207.4h0M204.4 223.6h0M204.5 218.8h0M204.5 209.1h0M204.4 216.6h0M204.5 199.7h0M204.5 207.1h0M204.4 213.2h0M204.5 210.8h0M204.3 214.2h0M204.4 216.1h0M204.8 211.2h0M204.7 204.6h0M204.6 210.5h0M204.6 209.7h0M204.7 215.7h0M204.7 215.6h0M204.7 216.1h0M204.6 218.5h0M204.6 211.8h0M204.6 215.8h0M204.8 220.1h0M204.8 224.4h0M204.7 220.6h0M204.7 225.9h0M204.9 214.2h0M205 207.9h0M205 208h0M205 211.9h0M204.9 211.9h0M204.8 210h0M204.8 214.6h0M204.8 221.4h0M205 212.7h0M204.8 218.6h0M205 209.4h0M204.8 210.3h0M205 215.8h0M205.1 217h0M205.2 220h0M205.1 212.4h0M205.1 221.9h0M205.3 213.6h0M205.2 213.5h0M205.4 212.1h0M205.4 219.7h0M205.5 211.2h0M205.5 220.3h0M205.5 215.4h0M205.5 216.7h0M205.4 208.3h0M205.4 219.9h0M205.4 209.8h0M205.4 210.5h0M205.5 211.6h0M205.4 211.6h0M205.3 206.1h0M205.3 206.9h0M205.3 214.3h0M205.4 209.1h0M205.4 205.8h0M205.5 208.7h0M205.4 215.8h0M205.6 211.3h0M205.7 206.1h0M205.6 215h0M205.6 201.3h0M205.7 206.4h0M205.6 210.7h0M205.7 214.8h0M205.8 214.5h0M205.7 210.6h0M205.6 219.7h0M205.8 200.2h0M205.7 230.2h0M205.8 221.1h0M205.9 222.4h0M205.9 210.4h0M206 215.7h0M205.9 189.3h0M206 214.2h0M205.9 216h0M205.8 207.2h0M205.8 206.8h0M206 210.7h0M206 207.2h0M206 217.9h0M205.9 203.6h0M205.9 216.7h0M206.2 205.1h0M206.3 207h0M206.2 210.2h0M206.1 209.8h0M206.1 212.7h0M206.1 206.8h0M206.2 205.5h0M206.2 218.7h0M206.5 217h0M206.4 214.5h0M206.5 218.5h0M206.5 223h0M206.4 220.9h0M206.5 215.5h0M206.4 212.1h0M206.5 210.4h0M206.3 201.9h0M206.4 211.7h0M206.5 215.1h0M206.5 223.6h0M206.5 222.8h0M206.5 206.5h0M206.3 217h0M206.6 209.8h0M206.6 218.4h0M206.7 206.2h0M206.6 205h0M206.7 216.3h0M206.6 206.5h0M206.8 224.2h0M206.8 212.2h0M206.6 213.5h0M206.6 215.9h0M206.8 216.8h0M206.8 224h0M206.7 210.5h0M206.8 212.5h0M207 218.5h0M206.9 215.7h0M206.9 225.3h0M206.9 212.5h0M206.9 210.5h0M207 229.8h0M206.8 212.6h0M206.9 215.3h0M206.9 205.9h0M206.9 217.4h0M207 211h0M207 201.7h0M206.9 206.9h0M206.9 208.5h0M207 218.6h0M206.9 220h0M207 211.5h0M206.8 207.2h0M206.9 207.3h0M207 207.6h0M207.2 211.4h0M207.1 203.4h0M207.1 203.6h0M207.3 212h0M207.2 216.6h0M207.1 214.2h0M207.1 210.9h0M207.3 208.7h0M207.1 200.8h0M207.2 217.5h0M207.3 206.1h0M207.1 200.5h0M207.1 222.5h0M207.2 216.4h0M207.2 207.1h0M207.2 208.5h0M207.1 203.6h0M207.5 205.2h0M207.5 203.1h0M207.5 200.3h0M207.5 202.8h0M207.4 217.4h0M207.4 216.9h0M207.4 221.3h0M207.4 203.3h0M207.5 205.7h0M207.3 201.9h0M207.4 209.7h0M207.7 202.9h0M207.8 204.9h0M207.6 208.3h0M207.7 218.4h0M207.8 214.9h0M207.8 216.7h0M207.7 204.7h0M207.7 210.4h0M207.8 199.2h0M207.8 208.5h0M207.7 208.5h0M207.7 204h0M207.6 212.5h0M207.7 221.3h0M207.8 211.7h0M208 208.5h0M207.9 208.2h0M208 207.7h0M207.9 218.1h0M207.8 209h0M208 202.9h0M207.9 205.1h0M208 209.7h0M207.9 214.8h0M208 210h0M208 199.3h0M207.9 218.3h0M208 209.5h0M208.2 214.6h0M208.1 194.8h0M208.1 203.3h0M208.2 210.2h0M208.2 210.6h0M208.2 220.6h0M208.2 208.9h0M208.1 197.8h0M208.3 199.6h0M208.2 219.8h0M208.1 205.5h0M208.2 211.6h0M208.3 213.3h0M208.2 223.9h0M208.1 212.4h0M208.4 210.7h0M208.4 206.3h0M208.3 214h0M208.5 207h0M208.5 207.7h0M208.5 217.4h0M208.4 219h0M208.4 213.7h0M208.4 209.9h0M208.5 211.5h0M208.7 205.6h0M208.7 210.7h0M208.7 203.3h0M208.8 213.9h0M208.6 208.6h0M208.7 197.5h0M208.8 213.1h0M208.8 210h0M208.6 204.2h0M208.6 217.5h0M208.6 210.3h0M208.6 207.1h0M209 215.5h0M208.8 210.1h0M209 211.1h0M209 212.5h0M209 218.4h0M208.9 207.4h0M208.9 218h0M209 206.6h0M208.9 197.5h0M209 215.3h0M209.1 210.7h0M209.1 201.7h0M209.1 200.9h0M209.2 210.3h0M209.2 206.6h0M209.3 204.2h0M209.1 203.6h0M209.3 199.6h0M209.3 212.4h0M209.2 209.1h0M209.1 214.6h0M209.2 217.2h0M209.4 216.8h0M209.5 200.2h0M209.4 209.6h0M209.4 210.7h0M209.3 210.7h0M209.4 229.7h0M209.4 205.7h0M209.6 215.6h0M209.7 209.1h0M209.6 208.6h0M209.8 207.9h0M209.7 207.6h0M209.6 206h0M209.7 217.4h0M209.6 203.4h0M209.6 207.3h0M209.7 204.6h0M209.6 207.6h0M209.6 203.4h0M209.9 201.4h0M210 204.2h0M210 213.2h0M209.9 211.2h0M209.9 208.9h0M210 223.6h0M210 194.5h0M209.8 214h0M209.9 209.7h0M209.9 201.7h0M210.1 215.9h0M210 217.3h0M209.9 203.9h0M209.9 201.3h0M209.8 215.7h0M209.9 212.3h0M209.9 204.8h0M210 203.2h0M209.8 208.5h0M209.9 215.8h0M209.9 204.3h0M209.9 206.3h0M210.1 211.2h0M210.2 214.7h0M210.2 209.2h0M210.2 215.3h0M210.3 206.1h0M210.1 221.4h0M210.2 207.6h0M210.3 209.9h0M210.1 204.8h0M210.3 215h0M210.4 205.7h0M210.5 210.4h0M210.5 205.7h0M210.3 215.5h0M210.3 206.9h0M210.5 201.1h0M210.4 199.4h0M210.4 201.2h0M210.5 209.1h0M210.5 210.1h0M210.5 210.9h0M210.4 219.7h0M210.6 201.7h0M210.8 220.8h0M210.8 213.7h0M210.7 201.1h0M210.7 210.2h0M210.6 200.2h0M210.8 212.3h0M210.7 205.2h0M210.7 204h0M210.8 205.1h0M210.8 215.9h0M211 204.8h0M211 200.3h0M211 209.1h0M210.9 215.1h0M210.9 206.9h0M211 203.8h0M211 211h0M210.8 205.9h0M210.8 202.5h0M211 211.3h0M211 206.6h0M210.9 212.9h0M211 204.6h0M211.1 211.4h0M211.1 221.3h0M211.1 211.6h0M211.2 212.3h0M211.1 225.6h0M211.3 204.4h0M211.2 207.1h0M211.3 208.8h0M211.1 189.4h0M211.1 208.2h0M211.3 208.8h0M211.2 212.8h0M211.1 207h0M211.2 207.3h0M211.3 194.3h0M211.2 206h0M211.5 211.6h0M211.5 204.9h0M211.4 194.5h0M211.3 200.5h0M211.5 210h0M211.5 203.1h0M211.4 212.1h0M211.5 205.6h0M211.5 213.7h0M211.5 201.3h0M211.6 216.4h0M211.6 201.7h0M211.7 221.4h0M211.6 206.7h0M211.6 193.8h0M211.6 204h0M211.6 210.5h0M211.7 201.7h0M211.7 198.6h0M211.8 198.1h0M211.8 209.3h0M211.8 210.8h0M211.7 213.9h0M211.8 210.7h0M211.6 204.2h0M211.6 207.4h0M211.6 211.8h0M212 206.3h0M212 207.1h0M211.9 212.2h0M211.8 202.5h0M211.9 203.3h0M211.8 205.5h0M212 203h0M212 213h0M211.9 217.7h0M211.9 217.4h0M212 222.1h0M212 216h0M211.9 207.1h0M212 203.1h0M211.9 213.5h0M211.9 214.4h0M211.9 212.4h0M212 205.6h0M211.9 207.8h0M212 203.4h0M212.2 203.2h0M212.2 211.9h0M212.2 214.8h0M212.2 203.7h0M212.3 194.4h0M212.1 201.5h0M212.3 214.9h0M212.2 196.4h0M212.3 203.8h0M212.1 207.7h0M212.2 209.4h0M212.1 202.8h0M212.1 213h0M212.2 208.7h0M212.3 205.6h0M212.5 203.3h0M212.3 207.8h0M212.4 214.4h0M212.4 213h0M212.4 206.4h0M212.8 213.1h0M212.7 202.9h0M212.6 202.4h0M212.6 216.4h0M212.6 209.6h0M212.7 204.6h0M212.6 201h0M212.6 198.5h0M212.7 207.4h0M212.6 207.6h0M212.8 204.3h0M212.6 201.6h0M212.8 206.2h0M212.9 213.3h0M212.9 209.3h0M213 210.3h0M212.9 193.4h0M213 197.3h0M213 208h0M212.9 215.6h0M213 202h0M212.8 207.5h0M213 204h0M212.9 194.4h0M212.9 213.9h0M212.9 210.6h0M213.2 198.9h0M213.2 197.8h0M213.3 203.1h0M213.2 210.7h0M213.1 192.3h0M213.2 198.6h0M213.4 216.4h0M213.5 196.6h0M213.3 209.8h0M213.4 212.3h0M213.3 204h0M213.4 203.2h0M213.5 202.4h0M213.4 211.7h0M213.5 204.8h0M213.4 209.7h0M213.5 209.5h0M213.3 206.5h0M213.5 196.5h0M213.4 205.3h0M213.3 206.6h0M213.6 210.4h0M213.7 205.1h0M213.8 217.7h0M213.8 206.1h0M213.7 206.5h0M213.8 208.2h0M213.6 210.5h0M213.6 196.2h0M213.7 210.7h0M213.6 203.7h0M213.8 202.9h0M213.7 201.2h0M213.6 198.8h0M213.7 213.1h0M213.9 210.2h0M213.9 202.8h0M213.9 212.5h0M214 195.7h0M213.9 211.1h0M214 202.5h0M214 208.3h0M213.8 198.5h0M213.9 199.2h0M213.9 210.5h0M214 210.5h0M213.9 209.5h0M213.9 206.9h0M213.9 207.7h0M214 212.3h0M213.8 210.1h0M213.9 205h0M214.2 208.3h0M214.1 198.9h0M214.1 200.4h0M214.1 200.1h0M214.1 206.6h0M214.2 215.3h0M214.1 203.7h0M214.3 204h0M214.1 198.8h0M214.2 213.1h0M214.3 208.4h0M214.1 208.9h0M214.1 206h0M214.3 218.9h0M214.2 196.2h0M214.2 207.2h0M214.2 203.8h0M214.1 193.8h0M214.5 212.9h0M214.3 196.5h0M214.4 195.4h0M214.3 202h0M214.4 204.8h0M214.3 201.6h0M214.4 200.2h0M214.3 201.9h0M214.4 195.6h0M214.5 194.5h0M214.4 200.3h0M214.3 210.8h0M214.4 203.6h0M214.4 206.5h0M214.7 212h0M214.6 209h0M214.6 206.8h0M214.6 194.7h0M214.6 209.4h0M214.6 196.7h0M214.7 199.7h0M214.8 210.7h0M214.8 207.4h0M214.6 203.3h0M214.6 198.7h0M215 200.8h0M215 207.2h0M215 199.5h0M215.1 208.8h0M214.9 208.4h0M215 198.2h0M215 206.9h0M214.9 208.1h0M214.9 219.5h0M214.9 209h0M215 198.6h0M215 198.1h0M214.9 203.8h0M214.9 196.5h0M215 204.8h0M214.8 202.9h0M215.1 209h0M215.3 200.6h0M215.3 206.9h0M215.1 209.9h0M215.2 212.9h0M215.1 192.3h0M215.1 204.5h0M215.1 199.6h0M215.3 198.9h0M215.3 201.3h0M215.3 197.3h0M215.2 202.4h0M215.2 199.8h0M215.3 202h0M215.3 208.2h0M215.4 216.2h0M215.5 206.2h0M215.5 197.4h0M215.3 209.8h0M215.4 221.7h0M215.5 209.4h0M215.4 213.1h0M215.3 198.3h0M215.3 201.6h0M215.3 193.8h0M215.4 198.3h0M215.5 200.1h0M215.5 203.8h0M215.8 200.4h0M215.6 199.7h0M215.7 208.6h0M215.8 202.1h0M215.7 210.9h0M215.7 210.8h0M215.7 200.8h0M215.7 202.6h0M215.8 210.4h0M215.7 206.6h0M215.8 206.7h0M215.7 197.5h0M215.7 211.5h0M216 205.1h0M216 195.5h0M215.9 205.6h0M215.9 210.2h0M216 201.1h0M216 210h0M215.9 195.3h0M216 211.2h0M216 214.2h0M216 197h0M216 199.2h0M215.8 205.2h0M216.1 202.9h0M216.1 203.1h0M216.3 205.1h0M216.2 199.9h0M216.3 193.3h0M216.2 214h0M216.1 204.5h0M216.3 173.1h0M216.1 203.5h0M216.3 196.4h0M216.2 202.6h0M216.1 186.6h0M216.2 215.9h0M216.4 197.7h0M216.4 203.2h0M216.4 199.6h0M216.5 206h0M216.3 181.6h0M216.4 206.1h0M216.5 201.8h0M216.4 178h0M216.4 186.9h0M216.4 205.8h0M216.5 215.7h0M216.4 198.5h0M216.6 202.1h0M216.8 202.2h0M216.8 200.6h0M216.8 203.9h0M216.7 211.7h0M216.8 204.2h0M216.7 201.6h0M216.8 204.4h0M217 203.2h0M217 208h0M217 199h0M216.9 199.3h0M217.2 200.2h0M217.2 212.3h0M217.1 192.2h0M217.3 201h0M217.2 198.9h0M217.3 194.3h0M217.1 199.9h0M217.2 196.8h0M217.2 197.9h0M217.1 209.3h0M217.1 200h0M217.2 209.6h0M217.2 197.8h0M217.5 204.8h0M217.5 195.3h0M217.3 197.2h0M217.3 207.4h0M217.5 201h0M217.5 206.5h0M217.3 194.7h0M217.4 207.6h0M217.5 198.8h0M217.5 191.1h0M217.5 196h0M217.5 205h0M217.3 184.2h0M217.5 207.1h0M217.6 205.4h0M217.6 202.6h0M217.6 197.8h0M217.6 217.7h0M217.8 210.1h0M217.7 195h0M217.8 198.8h0M217.6 209h0M217.7 204.6h0M217.8 204.6h0M217.6 187.2h0M217.7 196.7h0M217.7 209.4h0M217.8 202.6h0M218 202.3h0M217.9 191.1h0M217.9 204.5h0M218 201.7h0M218 202.2h0M218 194.4h0M218 203.2h0M217.9 192.3h0M218.3 207.6h0M218.1 205.2h0M218.3 202.6h0M218.2 209.7h0M218.3 192.9h0M218.2 201.4h0M218.3 201h0M218.2 202h0M218.1 193.7h0M218.2 197.4h0M218.1 205.6h0M218.2 199.5h0M218.3 189.8h0M218.1 195h0M218.2 204.4h0M218.3 205.6h0M218.4 193.5h0M218.5 205.3h0M218.5 200.4h0M218.5 202.9h0M218.4 201.9h0M218.6 198.6h0M218.3 204.6h0M218.5 205.7h0M218.4 193.1h0M218.4 202.6h0M218.5 207.9h0M218.4 210.5h0M218.5 209.9h0M218.5 190.6h0M218.5 201.9h0M218.6 197.9h0M218.5 189.6h0M218.5 203.9h0M218.5 199.5h0M218.4 186.5h0M218.6 217.9h0M218.6 203.6h0M218.8 192.4h0M218.7 191.6h0M218.6 195.9h0M218.8 213.8h0M218.7 192.7h0M218.6 205.6h0M218.7 194.8h0M218.6 195h0M218.6 194.6h0M218.7 201.2h0M218.8 198.9h0M218.7 202.9h0M218.6 198.6h0M218.8 202.4h0M218.8 199.8h0M218.8 198.7h0M218.9 192.4h0M218.9 198h0M219 199.1h0M218.8 209.7h0M218.9 201.3h0M218.8 204.2h0M219 195.7h0M218.8 197h0M219 205.9h0M219 199.5h0M218.8 202.9h0M219 189.1h0M219 210.2h0M219.3 193h0M219.1 202.1h0M219.1 209.8h0M219.1 211.1h0M219.1 205.1h0M219.1 197.6h0M219.3 194.9h0M219.2 204.2h0M219.2 200.9h0M219.3 194.5h0M219.2 204.8h0M219.3 195.5h0M219.4 194.9h0M219.4 203.5h0M219.4 199.1h0M219.4 202.8h0M219.4 200.3h0M219.4 199.1h0M219.3 204.6h0M219.4 192.2h0M219.5 199h0M219.4 190.6h0M219.5 209h0M219.3 195.5h0M219.8 208.8h0M219.8 206.2h0M219.7 198.5h0M219.8 195.6h0M219.6 197.4h0M219.7 193.9h0M219.6 202h0M219.6 198.3h0M219.8 214.8h0M219.6 195.7h0M219.6 175.9h0M219.7 207.2h0M219.8 207h0M219.7 198.8h0M219.7 203.6h0M219.6 177.6h0M219.7 209.8h0M219.8 199.2h0M219.9 208.9h0M219.9 197.7h0M220 199.9h0M219.9 212.8h0M219.8 185.5h0M220 192.8h0M220 202.5h0M219.9 193h0M219.8 203.6h0M219.9 193.1h0M219.9 192h0M219.9 206.4h0M219.9 199.3h0M220 199.5h0M219.8 204h0M219.9 197.5h0M220 196.6h0M219.9 188.5h0M219.8 202.2h0M220.2 195.9h0M220.1 192.1h0M220.2 201.1h0M220.2 195.1h0M220.1 197.2h0M220.3 194.2h0M220.3 192.7h0M220.2 204.4h0M220.1 179h0M220.2 196.5h0M220.1 193.5h0M220.1 200.1h0M220.2 206.1h0M220.4 200.4h0M220.5 199.2h0M220.4 179.5h0M220.4 203.6h0M220.5 199.8h0M220.3 197.4h0M220.5 205.8h0M220.5 206.5h0M220.4 194.4h0M220.6 202.3h0M220.6 193.5h0M220.8 205.3h0M220.8 194.7h0M220.6 203.3h0M220.6 205.4h0M220.6 188.7h0M220.6 201.3h0M220.6 196h0M220.7 194.8h0M220.6 199.4h0M220.8 193.9h0M220.7 199.8h0M220.9 202.5h0M220.9 193.5h0M220.9 200.2h0M220.9 176.4h0M220.9 198.5h0M220.9 210.3h0M221 191.7h0M220.8 201.8h0M221 199.4h0M220.9 190.2h0M221 202.7h0M221 205.7h0M220.9 199.9h0M221.1 190.7h0M221.1 199h0M221.2 199.3h0M221.1 201.1h0M221.2 204.1h0M221.1 207.3h0M221.1 195.3h0M221.5 202.9h0M221.4 188h0M221.5 208.3h0M221.5 201.9h0M221.3 197.2h0M221.5 197.8h0M221.4 197.7h0M221.5 204.7h0M221.5 194.4h0M221.5 191h0M221.3 199.9h0M221.4 203.7h0M221.5 197.5h0M221.5 196h0M221.4 199.6h0M221.4 190.5h0M221.3 195.7h0M221.4 196.8h0M221.8 204.2h0M221.7 201.8h0M221.6 195.1h0M221.6 205.4h0M221.8 209.9h0M221.7 194.3h0M221.7 189.6h0M221.7 194.3h0M221.8 194.2h0M221.6 188.5h0M221.7 191.1h0M221.6 209.1h0M221.9 192.3h0M221.9 196h0M221.9 202.2h0M221.9 202.6h0M221.9 194h0M222.1 194.5h0M222.1 203.9h0M221.8 204h0M221.9 197.6h0M221.9 196.7h0M222 193.1h0M222 200.9h0M221.8 195.5h0M222.2 198h0M222.3 186.6h0M222.2 199.4h0M222.3 202h0M222.2 204.9h0M222.3 193.3h0M222.1 189.7h0M222.1 198h0M222.1 200h0M222.1 202.2h0M222.4 187.9h0M222.4 194.9h0M222.3 204.1h0M222.5 199.7h0M222.3 219.4h0M222.4 196.8h0M222.5 197.9h0M222.3 188.7h0M222.4 198.1h0M222.5 196.7h0M222.4 195.7h0M222.4 206h0M222.3 201.7h0M222.7 197.7h0M222.8 181.1h0M222.7 189.7h0M222.6 210.4h0M222.7 205.4h0M222.6 199.6h0M222.7 195.3h0M222.7 191.7h0M222.6 196h0M222.7 185.7h0M222.9 194.3h0M222.9 198.9h0M222.9 198.3h0M222.8 204.9h0M223 207h0M223 200.4h0M223 204.7h0M222.8 197.7h0M223 208.2h0M222.9 193.2h0M222.9 193.9h0M223 200.5h0M223 191.7h0M222.9 210.7h0M223 204.1h0M223 189h0M223.1 191.8h0M223.2 197.3h0M223.2 195.2h0M223.1 193.7h0M223.2 198.6h0M223.2 197.7h0M223.2 203.5h0M223.2 191.9h0M223.1 193.4h0M223.3 201.8h0M223.1 200.3h0M223.1 191.9h0M223.1 187h0M223.1 199.6h0M223.1 205.2h0M223.2 209.1h0M223.1 193.8h0M223.5 207.4h0M223.4 194.5h0M223.4 199.6h0M223.4 198.4h0M223.4 198.8h0M223.5 198.5h0M223.4 204.9h0M223.3 202h0M223.5 202.7h0M223.5 194.5h0M223.5 199.4h0M223.4 182.8h0M223.4 197.2h0M223.4 202.2h0M223.3 195.6h0M223.5 193.3h0M223.4 199.9h0M223.5 192.4h0M223.3 193.1h0M223.3 196.5h0M223.5 191.8h0M223.7 203.6h0M223.8 197.7h0M223.7 192.1h0M223.7 186.1h0M223.6 193.7h0M223.7 200.7h0M223.7 200.1h0M223.6 191.9h0M223.7 194.1h0M223.7 196.2h0M223.7 196.5h0M223.7 172.8h0M223.8 198h0M223.9 207.9h0M224 198.7h0M224 201.5h0M224 192.1h0M224 205.2h0M223.9 206.9h0M224 196.4h0M223.9 194.9h0M224 193.9h0M224 205.7h0M223.8 199.5h0M224 191.3h0M224 199.3h0M224.3 196.7h0M224.2 183.5h0M224.2 204.1h0M224.1 188.4h0M224.1 194h0M224.2 201h0M224.2 194.5h0M224.1 194.3h0M224.3 199.2h0M224.1 187.4h0M224.3 192.3h0M224.3 196.1h0M224.4 192.2h0M224.4 198.6h0M224.5 198.6h0M224.3 188.9h0M224.5 203h0M224.5 189.8h0M224.3 198.9h0M224.6 203.9h0M224.7 198.1h0M224.6 195.3h0M224.7 192h0M224.8 186.9h0M224.6 200.8h0M224.6 192h0M224.8 195.3h0M224.8 199.2h0M224.8 208.1h0M224.7 199.5h0M224.7 193.5h0M224.8 206h0M224.6 196h0M224.8 184.4h0M224.7 200.1h0M224.6 197.9h0M224.6 204.9h0M224.8 191.1h0M224.6 204.4h0M224.8 195.2h0M224.6 204.9h0M225 196.6h0M224.9 194.8h0M225 189.4h0M224.8 202.3h0M224.8 201.6h0M224.8 195.7h0M224.9 192h0M225 200.1h0M225 190.7h0M224.8 199.4h0M224.9 207h0M225 205.1h0M224.8 196.7h0M224.8 187.5h0M225 190.5h0M224.9 200.1h0M225 188.3h0M225 204.9h0M224.8 201h0M225.2 195.9h0M225.1 192.5h0M225.2 199.5h0M225.2 194.5h0M225.1 190.8h0M225.1 199.3h0M225.3 197.4h0M225.2 188.6h0M225.2 202.1h0M225.1 190.5h0M225.3 191.5h0M225.2 203.5h0M225.5 196.3h0M225.4 191.9h0M225.5 193.7h0M225.4 204.1h0M225.3 208.6h0M225.4 187.3h0M225.4 197.3h0M225.4 191.7h0M225.5 199.2h0M225.5 201.5h0M225.4 204h0M225.5 186.5h0M225.7 191.4h0M225.6 188.4h0M225.8 194.2h0M225.7 197.2h0M225.6 199.8h0M225.7 210.4h0M225.8 202h0M225.7 192.6h0M225.7 199.2h0M225.6 201.6h0M225.7 201.4h0M225.7 198.6h0M225.9 191.6h0M225.9 189.8h0M226 198.7h0M225.9 197.8h0M226 196.2h0M226 192.9h0M225.8 200.5h0M225.8 185.4h0M225.8 182.8h0M226 197h0M226 199.9h0M226 199.5h0M226 194.5h0M226 190.3h0M225.9 194.7h0M226.2 200.4h0M226.3 204.1h0M226.3 195.6h0M226.3 186.7h0M226.1 194.4h0M226.2 190.7h0M226.1 193.4h0M226.3 193.8h0M226.1 196.8h0M226.1 201.7h0M226.2 191.3h0M226.1 202.1h0M226.6 184.7h0M226.5 185.6h0M226.5 195.5h0M226.5 190.9h0M226.5 186.4h0M226.5 193.8h0M226.3 193.5h0M226.5 196.7h0M226.5 201.3h0M226.3 196.2h0M226.7 189.7h0M226.7 187.5h0M226.7 194.9h0M226.7 193.8h0M226.6 193.2h0M226.8 189.2h0M226.6 190.4h0M227 191.7h0M226.9 191.3h0M227 195.8h0M227 199.4h0M227 196h0M227 189.8h0M227 187.8h0M226.8 188h0M226.9 187.8h0M226.8 198.4h0M226.8 194.6h0M226.9 190h0M226.9 189h0M227 191.1h0M227.2 181.9h0M227.3 190.1h0M227.1 201.6h0M227.3 196.1h0M227.1 192.7h0M227.1 198h0M227.2 186.5h0M227.2 197.2h0M227.1 197.3h0M227.1 196.4h0M227.4 189.9h0M227.5 189.9h0M227.4 190.5h0M227.5 197.4h0M227.5 193.9h0M227.5 187.3h0M227.4 189h0M227.5 198.3h0M227.3 196h0M227.4 189.9h0M227.4 180.1h0M227.5 187.5h0M227.3 179.8h0M227.5 190.8h0M227.6 197h0M227.3 191.9h0M227.6 195h0M227.7 188.4h0M227.7 198h0M227.7 194.8h0M227.8 191.7h0M227.6 192.3h0M227.6 166.3h0M227.8 188.8h0M227.8 194.9h0M227.7 191.4h0M227.7 188.9h0M227.6 187.3h0M227.6 200.7h0M227.9 188.2h0M228 199h0M227.8 197.9h0M228 194.3h0M227.8 195.7h0M227.9 197.3h0M227.8 192.6h0M227.9 190.2h0M227.9 182.6h0M227.9 196.6h0M228 193.3h0M228 197.5h0M227.9 192.2h0M227.8 200.3h0M228.1 203.7h0M228.1 184h0M228.2 198.4h0M228.1 193.4h0M228.1 199.3h0M228.1 190.7h0M228.2 186.1h0M228.2 188.4h0M228.3 195.7h0M228.5 206.6h0M228.4 195.9h0M228.5 198.5h0M228.3 196.7h0M228.4 186.4h0M228.3 189.9h0M228.5 195.8h0M228.3 196.9h0M228.5 199.2h0M228.6 185.8h0M228.7 201.8h0M228.6 189.6h0M228.7 196.8h0M228.8 196.7h0M228.7 203.4h0M228.8 188.6h0M228.8 193.8h0M228.6 193.2h0M228.7 188h0M228.7 193.3h0M228.6 191.4h0M228.7 190.7h0M228.8 198.4h0M228.7 188.3h0M229 156.7h0M228.9 197.4h0M229 183h0M228.8 188.2h0M228.9 199.3h0M228.9 193.6h0M228.9 186h0M229 196.9h0M229 199.3h0M229 197.2h0M228.9 192.8h0M229 174.3h0M229.1 186.1h0M229.2 187.1h0M229.2 194.7h0M229.3 192.4h0M229.1 194.5h0M229.3 193.7h0M229.1 196.4h0M229.2 196.6h0M229.3 196.5h0M229.1 194.1h0M229.1 182.8h0M229.1 198.2h0M229.1 197.9h0M229.3 188.1h0M229.4 186.4h0M229.4 190.6h0M229.5 194.4h0M229.4 200.8h0M229.4 189.4h0M229.5 186.2h0M229.5 192.1h0M229.5 188.4h0M229.5 198.3h0M229.5 185.8h0M229.3 191.6h0M229.5 193.4h0M229.6 189.5h0M229.4 192.4h0M229.5 191.3h0M229.6 187h0M229.6 180.7h0M229.7 186.4h0M229.7 190.9h0M229.7 188.9h0M229.8 196.7h0M229.8 191.9h0M229.6 191h0M229.7 191.3h0M229.7 191.6h0M229.8 209.2h0M229.7 199.6h0M229.6 194.9h0M229.8 197.9h0M229.9 184.9h0M229.9 192.6h0M230 204.5h0M230 173.6h0M229.9 192.5h0M230 192.7h0M229.9 193.1h0M230.2 188.3h0M230.3 185.7h0M230.2 187.6h0M230.3 193.3h0M230.2 191.9h0M230.2 196.7h0M230.3 207.1h0M230.1 185.7h0M230.1 187.1h0M230.2 188.5h0M230.1 193h0M230.1 191.1h0M230.1 184.3h0M230.1 192.7h0M230.1 187.3h0M230.5 168.4h0M230.5 192.3h0M230.4 192.3h0M230.3 196.6h0M230.5 199.6h0M230.4 196h0M230.6 200.2h0M230.5 185.3h0M230.4 195.9h0M230.5 195.1h0M230.5 188.5h0M230.3 193.4h0M230.5 185.3h0M230.5 186.4h0M230.4 192h0M230.4 189.2h0M230.3 185.8h0M230.6 181.9h0M230.7 190h0M230.6 185.1h0M230.7 199.2h0M230.6 188.5h0M230.6 200.7h0M230.8 195.2h0M230.6 190.5h0M230.8 188h0M230.8 184.8h0M230.6 198.1h0M230.7 194.8h0M230.8 195.1h0M230.6 196h0M230.7 192.4h0M231 189.6h0M230.9 201.9h0M230.8 185.6h0M231 192.5h0M230.8 190h0M231 198.1h0M230.9 192.9h0M231 194.9h0M230.9 187.7h0M231 191h0M230.9 191.8h0M230.9 184.6h0M231 184.5h0M231.3 195.4h0M231.2 195.5h0M231.1 190.9h0M231.2 182.9h0M231.3 194.7h0M231.1 192.5h0M231.2 192.4h0M231.1 190.7h0M231.2 197h0M231.3 189.9h0M231.1 192.7h0M231.2 188.2h0M231.1 188.2h0M231.2 194.4h0M231.2 191.2h0M231.3 193.2h0M231.2 197.2h0M231.5 197.4h0M231.4 191.1h0M231.5 187.2h0M231.5 187.5h0M231.5 190.3h0M231.4 193.6h0M231.5 191.4h0M231.4 194.5h0M231.3 192h0M231.5 188.4h0M231.5 185h0M231.4 196.9h0M231.3 195.6h0M231.5 195h0M231.8 193.6h0M231.7 193.8h0M231.7 187.7h0M231.6 182.6h0M231.6 185.5h0M231.7 186.5h0M231.8 196h0M231.9 186.1h0M232 191.9h0M231.8 182.9h0M232.1 190.5h0M231.9 198.4h0M232 184.3h0M232 192.5h0M231.9 189.1h0M231.8 182.7h0M231.8 187.7h0M231.9 182.9h0M231.9 184.4h0M231.9 195.1h0M232 192.2h0M232 191.8h0M231.9 185.7h0M232 200.5h0M232.3 186.8h0M232.2 193.5h0M232.1 188.8h0M232.2 191.1h0M232.1 184.1h0M232.2 192.6h0M232.1 191.6h0M232.1 180.9h0M232.5 185h0M232.4 187.7h0M232.4 195.5h0M232.4 191.2h0M232.4 193.4h0M232.5 193.1h0M232.4 189.6h0M232.4 190h0M232.4 191h0M232.4 185h0M232.5 187.3h0M232.4 189.1h0M232.5 195.3h0M232.3 185.4h0M232.4 187.5h0M232.4 196.8h0M232.8 196.5h0M232.7 194.8h0M232.7 192.7h0M232.7 184.8h0M232.6 196.6h0M232.7 186.2h0M232.7 186.8h0M232.7 185.8h0M232.7 194.9h0M232.6 191.6h0M232.8 181.9h0M232.6 192.5h0M232.7 191.3h0M232.8 197.6h0M232.8 197.9h0M232.8 185.6h0M232.7 192.2h0M232.7 188.2h0M232.9 193.4h0M232.8 187.7h0M233 184.4h0M233 195.8h0M233 186.6h0M232.9 194.4h0M232.9 191.5h0M233 186.9h0M232.9 200.8h0M232.9 193.7h0M232.8 195h0M232.9 191.6h0M233 192h0M233.1 199.5h0M233.2 191.6h0M233.1 190.9h0M233.2 192.5h0M233.3 191h0M233.2 189.4h0M233.2 190.3h0M233.3 192.2h0M233.1 196.4h0M233.2 197.2h0M233.5 195.4h0M233.4 183.4h0M233.4 191.1h0M233.3 185.4h0M233.4 190.9h0M233.5 200.7h0M233.5 195h0M233.5 195.8h0M233.4 186.3h0M233.4 184.4h0M233.5 184.4h0M233.4 186.4h0M233.4 189.2h0M233.5 193.7h0M233.4 191h0M233.4 187h0M233.6 186.6h0M233.6 188.2h0M233.3 185.6h0M233.4 183.4h0M233.5 180.6h0M233.7 188.7h0M233.7 182.3h0M233.6 177.4h0M233.7 193.6h0M233.6 186.6h0M233.6 177.4h0M233.6 194.1h0M233.6 189.8h0M233.8 192h0M233.7 195.2h0M233.6 192.3h0M233.8 189.3h0M233.6 186.7h0M233.8 177.4h0M233.8 188.7h0M233.6 192.8h0M233.9 181.4h0M234 186.8h0M233.9 179.2h0M234 187.3h0M233.8 187.3h0M233.9 192.2h0M234 186.2h0M233.9 190.9h0M234 186.6h0M233.9 183.1h0M233.9 185.1h0M233.9 188.9h0M234 186.1h0M233.8 202h0M234 193.5h0M233.9 185.3h0M233.9 189.6h0M234.3 186.8h0M234.1 199.9h0M234.1 195.2h0M234.1 194.9h0M234.2 187h0M234.2 194.5h0M234.1 187.3h0M234.1 187.9h0M234.2 183h0M234.2 183.9h0M234.1 187.9h0M234.1 194.8h0M234.1 182.9h0M234.5 191.6h0M234.5 184.1h0M234.5 189.1h0M234.5 183h0M234.5 190.6h0M234.4 189.5h0M234.5 188.6h0M234.3 187h0M234.5 190.2h0M234.5 195.1h0M234.4 185h0M234.5 184.1h0M234.5 199.3h0M234.3 201.7h0M234.5 186.5h0M234.4 185.2h0M234.8 194.6h0M234.7 192.5h0M234.7 190.1h0M234.7 190.9h0M234.7 189.2h0M234.8 188.9h0M234.7 177.7h0M234.7 184.4h0M234.7 189.3h0M234.8 189h0M234.6 188.9h0M234.8 186.7h0M234.8 189.6h0M234.8 184.1h0M234.8 196.6h0M234.8 198.7h0M234.9 184.2h0M234.9 195.1h0M235 191h0M234.9 179.8h0M234.9 196h0M235 187.4h0M234.9 186.8h0M234.9 189.6h0M234.9 196.7h0M235.2 188h0M235.2 183.5h0M235.1 189.4h0M235.3 185.9h0M235.1 184.6h0M235.1 184.4h0M235.2 196.3h0M235.1 191.9h0M235.3 178.2h0M235.2 184.7h0M235.1 186.1h0M235.2 165.2h0M235.1 189.1h0M235.1 190.9h0M235.3 189h0M235.5 189.9h0M235.3 197.8h0M235.5 192.5h0M235.5 185.9h0M235.5 181.6h0M235.5 180.5h0M235.3 187.3h0M235.3 188.9h0M235.6 191h0M235.3 184.2h0M235.5 192.8h0M235.4 190.2h0M235.5 187.2h0M235.6 192.8h0M235.6 185.2h0M235.8 177.4h0M235.7 192.1h0M235.6 193.8h0M235.7 192.2h0M235.7 187.7h0M236.1 183.9h0M236 190.2h0M235.9 190.4h0M236 178.2h0M236 178.7h0M235.9 185.2h0M235.9 192.7h0M236 192.1h0M236 183.9h0M235.9 186.3h0M236 182.9h0M236.1 191.1h0M236.2 179.9h0M236.1 194.8h0M236.1 193.3h0M236.3 188h0M236.2 192.8h0M236.1 183.4h0M236.2 184.1h0M236.1 190.9h0M236.3 188.4h0M236.4 187.7h0M236.4 182.3h0M236.3 183.5h0M236.4 190.6h0M236.4 185.3h0M236.3 187.7h0M236.4 196.2h0M236.4 184.7h0M236.4 175.2h0M236.4 182.2h0M236.5 182.1h0M236.4 195.7h0M236.6 198h0M236.6 185.7h0M236.7 181.7h0M236.8 198.6h0M236.6 197.9h0M236.7 183.3h0M236.7 182.9h0M236.6 182.8h0M236.6 191.4h0M236.7 187h0M236.7 182h0M236.7 183.9h0M236.9 181.4h0M237 190.9h0M237 189.5h0M237 185.3h0M236.9 187.7h0M236.8 190.4h0M237 184.9h0M237 192.3h0M237 179.5h0M237 187.9h0M237 189.8h0M237 186.3h0M237.1 173.4h0M237.2 188.9h0M237.2 187.8h0M237.1 187.7h0M237.2 191.1h0M237.1 182h0M237.3 189.2h0M237.1 192.5h0M237.1 193.9h0M237.2 193.6h0M237.2 185.9h0M237.1 179.9h0M237.2 172h0M237.2 190.8h0M237.2 187.7h0M237.4 193h0M237.4 190h0M237.3 193h0M237.5 191.3h0M237.3 188.5h0M237.3 193.4h0M237.3 194.6h0M237.5 183.8h0M237.5 189.2h0M237.4 179h0M237.4 189.3h0M237.3 189.1h0M237.6 199.7h0M237.8 192.6h0M237.7 185.3h0M237.6 190.9h0M237.8 189.9h0M237.7 190.5h0M237.6 187.1h0M237.6 181.1h0M237.7 178.8h0M237.8 189.6h0M237.8 189h0M237.7 185.2h0M237.7 193.8h0M237.6 185.7h0M237.9 184.6h0M237.9 184.2h0M237.8 186.6h0M238 188.5h0M237.9 183.2h0M238 196.1h0M238 195h0M237.9 189.7h0M238 187.5h0M238 183.4h0M237.8 195.2h0M238 179.8h0M238 186.1h0M235 151.8h0M238.5 131.1h0M234.6 155h0M239.7 121.4h0M239.4 126.3h0M232 184h0M233.8 155.7h0M242.6 110.9h0M232.3 177.6h0M233.6 163h0M241.4 115.2h0M230.6 194.3h0M231.3 195.9h0M235.6 147.3h0M236.7 141.1h0M242.3 113.7h0M234.4 157.1h0M239.9 120.1h0M238.6 132.3h0M234.5 153h0M232.2 177.7h0M235.1 152.8h0M235.4 142.6h0M232.2 177.5h0M239 124.6h0M233.3 162.1h0M233.8 161.1h0M236.1 143.7h0M236.8 139.3h0M234.7 156.4h0M239.8 124.4h0M231.1 197.2h0M243.6 108.3h0M237.3 137h0M244 106.2h0M232.1 169.9h0M242 114.7h0M242.7 110.5h0M235.6 145.8h0M231.4 176.4h0M238.4 133.5h0M241 119.2h0M232.2 177.5h0M235.9 142.7h0M238.8 124.3h0M232.1 182.5h0M231.6 196.2h0M236.4 141.8h0M232.3 174.8h0M231.5 186.6h0M236.3 143.5h0M231.5 190.7h0M236.1 146.7h0M239.1 127.1h0M231.8 181h0M239.3 127.9h0M236.8 141.4h0M231.5 192.6h0M233.3 163.3h0M231.3 186.4h0M234.7 154.8h0M234.5 157.9h0M231.8 179.4h0M235.7 148.4h0M237.4 139.7h0M240.4 116.9h0M233 169.1h0M231.3 186.2h0M233.1 162.8h0M232.2 178.8h0M231.2 188.7h0M231.9 188.4h0M241.8 111.3h0M241.2 116.3h0M236.9 141.8h0M242.4 113.3h0M241.3 114.6h0M233.6 162.9h0M236.4 142.9h0M239.4 125.6h0M239.1 127.5h0M231.7 175.7h0M234.8 154.7h0M233.6 157.5h0M233.7 163.8h0M240 122.8h0M236.9 140h0M232.2 171.8h0M236.2 140.7h0M236.3 142.8h0M237.9 134.3h0M239.4 126.3h0M233.6 157.4h0M230.6 195.1h0M232.1 177.5h0M242.1 111.5h0M233 159.2h0M228.7 188.5h0M242.3 112.8h0M241.5 117.1h0M237.3 138.9h0M232.1 172.6h0M237.1 137.9h0M243.4 108.7h0M237.1 134.2h0M233.3 158.9h0M231.8 192.1h0M232.1 180.9h0M243 110h0M231.4 195.6h0M241.9 114.9h0M240 123.9h0M231.9 184.3h0M232.2 177.7h0M237.8 133.8h0M231.9 178.1h0M243.1 108.4h0M232.2 180h0M231.3 173.2h0M238.8 130.1h0M238 135.7h0M232.6 171.8h0M230.3 186.6h0M232 176.5h0M234.8 154.3h0M241.9 111.6h0M236.7 143.3h0M239.9 120.6h0M242.5 111.8h0M242 113.9h0M235.9 143.4h0M234 157.9h0M241.6 116h0M243.8 107.1h0M230.9 171.5h0M233 167.3h0M232.8 170h0M236.3 134.5h0M231.5 192.5h0M232.6 164.8h0M241.6 114.7h0M242.9 110.8h0M231.7 186.3h0M234.2 160h0M242.5 110.6h0M235.8 130.6h0M231.4 195.7h0M235.5 146.5h0M231.5 172.7h0M234.3 152.8h0M233.7 163.7h0M234.8 152.1h0M239.2 126.2h0M241.6 110.8h0M234.3 158.8h0M232.2 178h0M231.5 190.9h0M240.6 121.5h0M231 188.2h0M234.9 153.6h0M237.4 203.2h0M232.3 206.5h0M235.1 207h0M241.7 204.3h0M238.7 223.7h0M236.7 210.4h0M232.2 204h0M240 217.7h0M234.6 208.8h0M237.7 203.5h0M232.9 217.7h0M239.5 207.8h0M239.1 205.6h0M241.2 217.1h0M238.4 213.9h0M241.1 208.9h0M232.9 209.3h0M239.8 210.2h0M234.3 213.5h0M237.5 237.1h0M233 216.8h0M234.9 220.3h0M239.8 208.6h0M238.4 207.8h0M233.4 220.9h0M232.5 204.3h0M232.4 203.7h0M235.3 204.4h0M232.7 209h0M232.3 208.4h0M233 241h0M240.3 204.3h0M234 223h0M237.7 229.9h0M236.6 223.7h0M239.8 204.7h0M233.1 228.2h0M241.6 207.9h0M236.3 236h0M233.8 204.7h0M235.7 212h0M236.3 227.5h0M241.8 213.8h0M234.3 203.1h0M232.8 203.5h0M233.6 209.1h0M233.8 213.2h0M236.6 214.3h0M241 215.1h0M242.6 210.9h0M236.1 205.2h0M242.1 204.4h0M240.7 203.6h0M233.4 234.6h0M236.1 217h0M232.8 210.2h0M237 217.9h0M239.3 219.5h0M234 234.5h0M234 225.9h0M241.5 215.3h0M235.3 217.9h0M232.9 214.6h0M237.5 225.3h0M232.5 207.3h0M235 204.5h0M238.3 232h0M234.7 221.4h0M236.6 208.5h0M236.7 217h0M243.1 205.6h0M238.4 223h0M240.8 211.5h0M234.1 230h0M236.5 229.8h0M234.3 207.2h0M236 228.3h0M242.5 206.3h0M236 206.8h0M238.7 205.3h0M239.7 212.8h0M236.2 231.5h0M233.1 235h0M237.4 205.1h0M238.6 215.9h0M233.3 228.9h0M236.9 213.3h0M241.7 215h0M242.3 208.1h0M238.2 211.1h0M235.6 220.6h0M241.4 214.7h0M233.3 232.9h0M237.2 216.8h0M238.3 218.7h0M218.5 177.6h0M227.1 170.9h0M229 172.7h0M226.7 173.8h0M222.3 172.6h0M217.4 180h0M215.8 182.9h0M218.6 180.8h0M228.5 165.8h0M219.7 176.5h0M218.3 174.6h0M225.1 169.9h0M219.3 178.5h0M215.9 180.2h0M224.8 170.9h0M226.2 173.4h0M243.8 28.9h0" stroke="#000" stroke-width="2.1" stroke-linecap="round" fill="none"/>
<rect x="33.5" y="5.5" width="282" height="295" fill="none" stroke="#888888" stroke-width="1"/>
<path d="M33.5 300.5v-3M33.5 5.5v3M68.8 300.5v-3M68.8 5.5v3M104 300.5v-3M104 5.5v3M139.2 300.5v-3M139.2 5.5v3M174.5 300.5v-3M174.5 5.5v3M209.8 300.5v-3M209.8 5.5v3M245 300.5v-3M245 5.5v3M280.2 300.5v-3M280.2 5.5v3M315.5 300.5v-3M315.5 5.5v3M33.5 300.5h3M315.5 300.5h-3M33.5 251.3h3M315.5 251.3h-3M33.5 202.2h3M315.5 202.2h-3M33.5 153h3M315.5 153h-3M33.5 103.8h3M315.5 103.8h-3M33.5 54.7h3M315.5 54.7h-3M33.5 5.5h3M315.5 5.5h-3" stroke="#888888" stroke-width="1" fill="none"/>
<text class="tk" x="33.5" y="314.9" text-anchor="middle">-30</text>
<text class="tk" x="68.8" y="314.9" text-anchor="middle">-25</text>
<text class="tk" x="104" y="314.9" text-anchor="middle">-20</text>
<text class="tk" x="139.2" y="314.9" text-anchor="middle">-15</text>
<text class="tk" x="174.5" y="314.9" text-anchor="middle">-10</text>
<text class="tk" x="209.8" y="314.9" text-anchor="middle">-5</text>
<text class="tk" x="245" y="314.9" text-anchor="middle">0</text>
<text class="tk" x="280.2" y="314.9" text-anchor="middle">5</text>
<text class="tk" x="315.5" y="314.9" text-anchor="middle">10</text>
<text class="tk" x="29.9" y="304.5" text-anchor="end">-30</text>
<text class="tk" x="29.9" y="255.3" text-anchor="end">-20</text>
<text class="tk" x="29.9" y="206.2" text-anchor="end">-10</text>
<text class="tk" x="29.9" y="157" text-anchor="end">0</text>
<text class="tk" x="29.9" y="107.8" text-anchor="end">10</text>
<text class="tk" x="29.9" y="58.7" text-anchor="end">20</text>
<text class="tk" x="29.9" y="9.5" text-anchor="end">30</text>
<text class="lb" x="174.5" y="328.7" text-anchor="middle">Depth (m)</text>
<text class="lb" transform="translate(9 153) rotate(-90)" text-anchor="middle">Band Ratio (m)</text>
<rect x="41.5" y="12.5" width="94.5" height="36.7" fill="#fff" stroke="#6a6a6a" stroke-width="1"/>
<circle cx="58.5" cy="19.5" r="1.1" fill="#000"/>
<text class="lg" x="77.8" y="22.5" xml:space="preserve">N = 17519</text>
<text class="lg" x="75.5" y="34" xml:space="preserve">RMSE =   4.02</text>
<text class="lg" x="75.5" y="45.7" xml:space="preserve">R2 = 0.72</text>
<text x="140.4" y="359" class="capb">(a)</text><text x="160.9" y="359" class="cap">Guam</text>
<path d="M397.5 5.5V300.5M444.3 5.5V300.5M491.2 5.5V300.5M538 5.5V300.5M584.8 5.5V300.5M631.7 5.5V300.5M678.5 5.5V300.5M397.5 300.5H678.5M397.5 263.6H678.5M397.5 226.8H678.5M397.5 189.9H678.5M397.5 153H678.5M397.5 116.1H678.5M397.5 79.2H678.5M397.5 42.4H678.5M397.5 5.5H678.5" stroke="#ebebeb" stroke-width="1" fill="none"/>
<path d="M594.2 108.8L678.5 42.4" stroke="#7a7a7a" stroke-width="1.1" stroke-dasharray="5 2.8" fill="none"/><path d="M462 191.9 463 191.3 464 190.6 465 190 466 189.4 467 188.8 468 188.2 469 187.5 470 186.9 471 186.3 472 185.7 473 185 474 184.4 475 183.8 476 183.2 477 182.6 478 181.6 479 176.9 480 172.1 481 167.4 482 162.6 483 157.9 484 156.8 485 156 486 155.3 487 154.5 488 153.7 489 152.9 490 152.2 491 151.4 492 150.6 493 149.8 494 149.1 495 148.3 496 147.5 497 146.8 498 146 499 145.2 500 144.4 501 143.7 502 142.9 503 142.2 504 141.7 505 141.1 506 140.5 507 140 508 139.4 509 138.8 510 138.3 511 137.7 512 137.1 513 136.6 514 136 515 135.4 516 134.9 517 134.3 518 133.8 519 133.2 520 132.6 521 132.1 522 131.5 523 130.9 524 130.4 525 129.8 526 129.2 527 128.7 528 128.1 529 127.5 530 127 531 126.4 532 125.8 533 125.2 534 124.7 535 124.1 536 123.5 537 122.8 538 122.1 539 121.4 540 120.8 541 120.1 542 119.4 543 118.7 544 118.1 545 117.4 546 116.7 547 116 548 115.4 549 114.7 550 113.7 551 112.7 552 111.6 553 110.5 554 109.7 555 108.8 556 108 557 107.2 558 106.3 559 105.5 560 104.7 561 103.8 562 103 563 101.4 564 99.8 565 98.2 566 96.6 567 94.9 568 93.1 569 91.3 570 89.5 571 87.7 572 86.2 573 84.8 574 83.3 575 81.8 576 79.8 577 77.7 578 75.6 579 73.5 580 71.8 581 70 582 68.2 583 66.5 584 64.8 584.1 126 574 136 574 126.7 573 138.4 572 148.1 571 149.3 570 150.5 569 151.7 568 152.9 567 154.2 566 155.4 565 156.6 564 157.8 563 159 562 160.2 561 161.4 560 162.6 559 163.9 558 165.1 557 166.3 556 167.5 555 168.7 554 169.9 553 171.1 552 172.3 551 173.5 550 174.7 549 175.8 548 177 547 178.1 546 179.2 545 180.4 544 181.5 543 182.7 542 183.8 541 184.9 540 186.1 539 187.2 538 188.3 537 189.5 536 190.6 535 191.8 534 192.9 533 194 532 195.2 531 196.3 530 197.4 529 198.3 528 199.3 527 200.2 526 201.1 525 202 524 203 523 203.8 522 204.5 521 205.3 520 206.1 519 206.8 518 207.6 517 208.3 516 209.1 515 209.9 514 210.6 513 211.4 512 212.1 511 212.9 510 213.7 509 214.2 508 214.5 507 214.8 506 215.2 505 215.5 504 215.9 503 216.2 502 216.5 501 216.9 500 217.2 499 217.7 498 218.2 497 218.7 496 219.2 495 219.6 494 220.1 493 220.6 492 221.1 491 221.3 490 221.5 489 221.6 488 221.8 487 222 486 222.2 485 222.4 484 222.6 483 222.7 482 222.9 481 223.1 480 223.3 479 223.5 478 223.7 477 223.8 476 224 475 224.2 474 224.4 473 224.6 472 224.7 471 224.9 470 225.1 469 225.3 468 226.1 467 221.1 466 214.6 465 208.2 464 201.8 463 195.3 462 188.9Z" fill="#000"/><path d="M554.2 109.2h0M492.8 142.1h0M490.1 152.1h0M556.8 106.3h0M574.1 82.3h0M517.8 132.5h0M499.1 144h0M555.2 107.3h0M511.5 136.6h0M494.1 149.2h0M498.5 145.6h0M566.8 95.4h0M575.7 76.8h0M514.3 123.2h0M580.2 60.8h0M569.7 89.6h0M551.5 102.2h0M550.5 112.6h0M531.8 121.1h0M503 142h0M527.3 119.1h0M518.9 120.3h0M550.5 112.4h0M519.8 132.3h0M572.6 85.8h0M539.3 120.6h0M501.7 135.9h0M495.3 143.5h0M515.3 132.8h0M503.3 142.2h0M568.1 85.3h0M555.6 101.1h0M528.2 127.7h0M506.3 132.8h0M522 131.1h0M513.8 132.8h0M495 142.3h0M561.1 102.8h0M576.2 74.5h0M549.8 113.6h0M484.6 150.7h0M543.1 113.7h0M549.9 113.4h0M559.8 100.7h0M494.3 129.4h0M527.5 127h0M562 98.5h0M499.2 141.4h0M531.7 124.3h0M510 138.6h0M504.4 138.4h0M541.7 116.1h0M493.2 149.8h0M522.9 131.2h0M491.2 151.5h0M507.3 134.2h0M504.2 141.8h0M523.2 130.7h0M504.5 140.6h0M534.3 124.9h0M555.2 104.9h0M567 95.3h0M509.5 138.8h0M572.5 81.2h0M583 58.6h0M581.2 63.9h0M546.9 106.7h0M537.7 122.7h0M566.2 92h0M516.1 133.8h0M483.5 150h0M530.5 126.8h0M498 146.1h0M533.9 125h0M548.8 113.6h0M511.4 137.3h0M583.7 64.4h0M504.5 137.4h0M561.5 101h0M487.5 153.1h0M546.8 113.6h0M485.2 150.7h0M546.7 116.5h0M489.3 147.9h0M569.7 89h0M581.4 66.8h0M534.7 121.9h0M507.7 139.1h0M519.4 131.7h0M543.5 109.4h0M500.4 143.3h0M555.9 101.7h0M535.6 118.6h0M572.5 81.7h0M538.1 118.7h0M484.3 155.5h0M543.9 116.2h0M521.1 131.7h0M537.7 117.8h0M578.1 75.1h0M527.4 128.7h0M515.7 132.7h0M578.7 73h0M534.7 121.6h0M530.4 121.8h0M577.2 76.6h0M516.9 131.9h0M509.4 139h0M501.6 143.5h0M580.5 70h0M565.9 90.2h0M567 82.9h0M563 101.1h0M562.8 101.3h0M514.2 134.9h0M490.4 151.3h0M516.1 135.3h0M510.7 135.1h0M533.9 124.3h0M536.1 122.6h0M523.8 123.7h0M504.4 141.9h0M522.9 118.7h0M511.9 128.8h0M522.1 129.1h0M540.7 118h0M547.2 116h0M520.7 131h0M518.8 133.7h0M485.5 156h0M560.7 102.6h0M563.9 90h0M485.5 150.8h0M508.9 131.5h0M575.5 78.8h0M531.4 125.4h0M514.1 133.7h0M558.1 106.3h0M504 136.9h0M571.9 82.3h0M583.6 64.1h0M537 122.9h0M583.6 45.4h0M489.2 152.3h0M560.3 102.9h0M552.9 107.5h0M544.8 117.6h0M583.7 64.1h0M517.7 132.4h0M491.1 151.4h0M542.2 115.1h0M565.8 95.5h0M568.3 89.8h0M577.4 71.8h0M504.9 140.1h0M526.9 126.8h0M503.7 137.9h0M549.4 113.8h0M500.1 139.3h0M566.9 92.2h0M497.2 145.9h0M558.3 105.4h0M548 110.2h0M548.4 114.1h0M580.9 65h0M578.8 70.1h0M483.2 153.9h0M553.8 104.3h0M488.2 153h0M568 92.6h0M579.7 70.3h0M565.6 97.2h0M552.6 109.8h0M560.5 101.6h0M581.6 64.6h0M518.3 133.3h0M513.1 131.6h0M577.6 76.7h0M560.1 102.5h0M514.7 130.6h0M575.8 78.3h0M575.5 78.4h0M515.8 134.8h0M519.9 130.8h0M571.5 86.4h0M561.7 99h0M529 123h0M576.4 79h0M508.5 136.6h0M540.4 116.8h0M543.7 115h0M489.1 149.9h0M507.5 138.9h0M525.9 129h0M569 91.3h0M578.4 75.2h0M516.8 134.5h0M484.8 155.8h0M496 148h0M505.2 140.9h0M519.1 133.2h0M484.9 154.1h0M542.9 119.1h0M500.5 135.7h0M582.3 61.3h0M495 145.6h0M576.1 79.4h0M573.5 83.3h0M491.5 150.9h0M540.1 121.1h0M491.3 150.6h0M511.1 134.3h0M507.8 134.4h0M514.4 135.2h0M567.8 91.5h0M579.5 69h0M523.2 124h0M501.9 142.9h0M504.2 141.7h0M523.7 127h0M546.1 108.7h0M562.8 100.3h0M487.5 153.7h0M522 126.6h0M550.4 108.8h0M533.4 124h0M539 119.9h0M572.7 80.2h0M558.6 102.2h0M522.5 131.7h0M500.2 144.6h0M522.5 126.9h0M526.7 120.4h0M516.3 131.2h0M555.1 107.6h0M506.8 140.2h0M545.7 115.6h0M579.7 72.8h0M495.3 145.4h0M530.2 122.7h0M524.5 129.8h0M541.4 113.7h0M518.6 129.1h0M525.7 127.4h0M489.4 150.9h0M494.4 149.2h0M513.9 135.7h0M551.8 110.6h0M560.8 103h0M530.6 125.5h0M570.2 88.9h0M583 65.7h0M567.3 92h0M544 107.1h0M561.1 100.9h0M512.8 129.4h0M517.1 133.8h0M506.2 134.6h0M513.7 128h0M560.9 100.4h0M489.8 148.9h0M554 106.9h0M573.7 79.8h0M551.8 102.6h0M555.6 107h0M539.5 120.7h0M497.5 146.6h0M542 119.2h0M580.7 61h0M556.7 104.9h0M571.3 87.3h0M561.1 101.7h0M529.7 126.5h0M579.1 73.3h0M553.3 100.9h0M510.7 136.3h0M494.8 146.5h0M502.6 140.4h0M502.4 141.7h0M557.2 107.3h0M564.1 99.3h0M506.4 137.3h0M556.3 106.3h0M536.3 122.2h0M514.3 128.5h0M557.7 103.2h0M583.8 65.1h0M485 155.1h0M543.8 116.8h0M505.9 139.7h0M491.7 145h0M541.5 120.2h0M540.2 112.5h0M538.2 117.5h0M494.2 147.3h0M551.6 107.1h0M537.9 114.9h0M557.2 96.4h0M566.5 86.8h0M583.6 64.8h0M503.1 140.8h0M579.4 70.2h0M530.8 125.1h0M503.2 141.4h0M513.4 135.3h0M566.4 96h0M576.4 70h0M547.5 115.9h0M533.5 124.8h0M561.3 100.8h0M554 108.6h0M538.1 119.1h0M575.8 76.7h0M571.5 85.1h0M549.1 112h0M498 140.5h0M538.4 121.6h0M491.2 146.6h0M566.7 95.5h0M556.4 104.3h0M508.5 136.8h0M508 138h0M515.2 134.2h0M539 111.5h0M525.7 127h0M520.4 132h0M546.5 111.3h0M499.4 139h0M508.4 138.3h0M577.2 74.3h0M512.7 135.3h0M565.7 96.8h0M578.7 71.4h0M483.5 155.5h0M534.5 119.7h0M488.6 152.9h0M563.2 98.1h0M505.1 139h0M529.9 121.8h0M547.9 114.4h0M539.8 117.4h0M548.7 112.7h0M569.2 87.6h0M531.6 120.5h0M541.9 116.8h0M545.3 112.6h0M486.9 153.7h0M579.5 72.1h0M556.8 105.8h0M492.6 150.6h0M494.4 140.7h0M523.3 131.3h0M502.9 141.5h0M498.3 145h0M550.2 111.8h0M553 110.4h0M531 118h0M484.1 154.9h0M493.1 141.7h0M552 110.8h0M576.7 76.7h0M557.8 106.8h0M578.4 71.2h0M565.1 96.9h0M498.6 145.1h0M528.7 126.8h0M512.1 130.5h0M492.3 142.5h0M564.1 96.3h0M569.7 89.3h0M499.9 144.3h0M534.1 123.5h0M569 82.1h0M547.6 113.9h0M530.5 121.9h0M523.1 131.1h0M508 139.6h0M531.9 124.9h0M516 135.1h0M510.9 131.4h0M518.3 130.2h0M576.6 75.6h0M582.6 63.2h0M524.4 125.5h0M517.3 133.8h0M542.2 117.5h0M558.3 105.3h0M511.4 130h0M525.1 129.8h0M494.7 148.3h0M506.2 140.6h0M567.7 83.2h0M533.1 119.5h0M547.5 114h0M566.5 94.9h0M556.8 106.7h0M514 134.4h0M518.7 133h0M519.8 132.4h0M493.8 145h0M532.8 125.6h0M574.2 80.4h0M518.1 131.3h0M516.2 134.9h0M509.2 138.6h0M570.9 85h0M488.3 153.1h0M531.8 123.8h0M571.3 84.6h0M544.9 116.5h0M501.3 141.6h0M517 133.5h0M574.1 79.7h0M517.9 132.8h0M524.5 127.5h0M577.4 72.3h0M490.2 151.6h0M490 150.8h0M502.5 142.1h0M539.9 120.4h0M528.9 125.7h0M517.8 126.6h0M578.7 74.2h0M534.5 121.8h0M560.3 104.1h0M543.4 112.3h0M524.9 129.5h0M513.7 131.7h0M532.9 116.2h0M484 157h0M523.3 131.1h0M495.8 147.8h0M583.6 59.1h0M521 132.3h0M554 106.8h0M526.6 123.1h0M504.7 140h0M542.6 110.3h0M542.1 113.2h0M527.4 112.1h0M518.6 129.4h0M559.9 103h0M512.3 129.5h0M557.6 106.9h0M564.6 89.3h0M580.8 69h0M528.1 124.1h0M513.2 136.7h0M580.4 70h0M554 109.5h0M566.4 96.4h0M564.5 98.4h0M548.3 103.1h0M527.3 129h0M508.1 138.2h0M569 90.8h0M578.9 73.2h0M493.2 148.4h0M562.7 99h0M495.3 146.6h0M581.4 64.5h0M513.4 136.2h0M538.1 121.9h0M570.5 88.4h0M500.5 137.7h0M528.7 126h0M525.8 127.2h0M535.6 119h0M515.7 134.9h0M509 137.2h0M561.4 103.1h0M513.1 133.3h0M507.8 135.4h0M529.8 125.4h0M551.2 107.5h0M559.7 102.8h0M562.2 102.6h0M506.8 138.6h0M577.9 69.6h0M489 153.2h0M543.2 117.2h0M570.6 83.4h0M554.7 107.5h0M551 105.8h0M490.7 150.9h0M491.1 151.2h0M576.8 76.8h0M504.5 138.2h0M549.7 110.7h0M583.6 61.5h0M540 119.9h0M573.6 80.5h0M565.4 97h0M490.9 148.5h0M520.9 130.7h0M508.8 135.9h0M562.6 101.9h0M500.6 142.6h0M492.7 149.9h0M525.2 120.6h0M543.3 116.2h0M581 67.6h0M497.6 142.5h0M581 70.1h0M491.1 142.9h0M577.4 70.3h0M514 134h0M551 113.1h0M485 154.8h0M509.8 137.8h0M511.6 136.3h0M560.9 103.6h0M553.8 106.8h0M574.8 81.7h0M537 122.1h0M507.2 140.2h0M578.5 74.2h0M534.8 122.8h0M506.3 140.1h0M561 100.7h0M549.7 114.5h0M582.6 66.9h0M536.8 116.9h0M575.8 79.9h0M565.8 96.5h0M542.8 118.8h0M507.8 136.2h0M531 126.6h0M516.7 130.6h0M579.6 63.8h0M569.8 89h0M509.3 136h0M492.2 145.4h0M518.4 132.4h0M517 128.9h0M525.3 126.5h0M527.3 126.9h0M486.1 146.3h0M513.1 136.9h0M485.7 155.8h0M564.4 96.4h0M499.3 142.8h0M508.6 138.8h0M543.8 118.3h0M491.4 150.1h0M539.5 121.5h0M504.2 138.9h0M504.2 137.5h0M539.7 116.9h0M491.5 150.1h0M576.5 79h0M562.6 102.1h0M547.9 110.4h0M514.5 136.1h0M483.4 151.2h0M507.2 131.2h0M514.1 135.9h0M559.5 98.7h0M575.7 73.1h0M545 115.7h0M557.1 106.1h0M506.2 134.6h0M568.2 90.3h0M566.9 94.3h0M486.3 153.6h0M548.8 114.3h0M544 111.6h0M557.5 106.6h0M555.3 103.9h0M511.6 127.9h0M501 140.3h0M568.8 91h0M571 85.9h0M515.4 135.2h0M570.6 87.6h0M565.9 96.2h0M529.2 127h0M483.2 150.7h0M553.7 110.2h0M544 98.9h0M485.1 155.9h0M560.3 89.5h0M576 80.4h0M506.7 139.5h0M499.3 145.2h0M511.4 136.6h0M485.1 153.7h0M499.6 143.9h0M523.1 127.2h0M561.1 103.4h0M489.7 144.3h0M572.6 83.8h0M498.4 144.3h0M553.6 107.5h0M577.7 76.2h0M490.6 151.8h0M551.5 111h0M508.4 130.8h0M535.6 116.6h0M505.2 139.1h0M530.4 124.5h0M532.8 125.3h0M505.7 140.9h0M500.4 140.9h0M528.6 127.5h0M540.2 118.4h0M582.6 67.2h0M519.3 132.5h0M494 149.1h0M533.2 121.9h0M517.3 132.9h0M546.6 115.4h0M579.4 69.8h0M563.3 100.2h0M518 131.3h0M500.4 142.9h0M540.9 118.4h0M502.2 140.7h0M560.8 100.6h0M530.4 124.5h0M490.6 151.4h0M537 123.2h0M549.1 110.9h0M519.6 131.9h0M568.7 88.8h0M497.3 144.2h0M486.3 155.2h0M514.4 133.9h0M550.8 112.5h0M576.9 75.3h0M551.9 109.4h0M512.3 133.7h0M572 86.6h0M510.2 136.6h0M517.2 129.9h0M543.9 117.6h0M569.3 90.9h0M544 118.3h0M532.1 119h0M547.2 114.6h0M509.2 138.2h0M514 135.1h0M555.6 107.9h0M491.5 143.1h0M525 130.2h0M568.1 82h0M542.4 118.7h0M492.7 147h0M551.4 111.7h0M501.7 136.5h0M571.2 87h0M491.4 149.8h0M549.6 96.8h0M555.8 108.3h0M511.5 134.8h0M516.3 131h0M564.3 95.8h0M513.3 130.5h0M500.1 142.6h0M544.6 117.5h0M535.6 122.7h0M581.5 69.1h0M548.4 113h0M498.6 145.1h0M547.8 102.8h0M570.5 83.6h0M496.6 146.9h0M488.7 145.3h0M487.9 154.1h0M499.5 144.9h0M513.3 136.4h0M497 144.6h0M498.1 145h0M502 142.7h0M509.1 137.3h0M549.2 113.8h0M554.1 101.9h0M538.5 118.5h0M579.3 65.2h0M565.7 94.2h0M494.4 143.5h0M544.9 117h0M583.5 62.2h0M547.8 114.5h0M530.3 126.9h0M531.3 126.4h0M491 149.8h0M490.4 151.5h0M489.3 151.2h0M572.6 85.6h0M555.7 106.7h0M536.2 123.7h0M542.1 116.4h0M571.7 86.7h0M550.6 112.9h0M511.6 136.4h0M561.1 103.5h0M519.7 128h0M513.9 134.2h0M560.5 104.5h0M574.3 79.1h0M519.7 132.1h0M520.7 130.7h0M582.5 62.1h0M517.6 132.9h0M514.4 133.4h0M544.7 112.7h0M497.9 144.4h0M521.2 128.8h0M503.5 138.5h0M472.5 184.3h0M453 195.1h0M471.9 182.5h0M444.8 197.6h0M443.5 200.1h0M456.3 186.9h0M445.4 199.6h0M459.2 190h0M473 182.7h0M438.9 207.7h0M450.6 190.8h0M473.9 182.8h0M476.6 181.5h0M468.2 187.3h0M457 193.5h0M449.6 193.8h0M482.4 161.9h0M440.3 207.7h0M473.9 181.4h0M456.8 186h0M438.2 207.7h0M468.2 183.5h0M475.4 174.4h0M480.3 172.1h0M457.9 192.7h0M469.6 179.2h0M476.9 175h0M468.5 176.6h0M460 190h0M462.8 187.8h0M461.3 191.1h0M454.7 192.1h0M467.2 183.7h0M440.9 203.8h0M462.1 187.2h0M462.6 189.3h0M465.8 185.7h0M450.5 200h0M476.1 177.5h0M475.9 173.9h0M456.7 192.8h0M475.4 179.5h0M470.7 177.9h0M464.6 183.8h0M441.6 201.1h0M452.5 196.9h0M465.3 187.4h0M442.8 196.5h0M481.5 158.9h0M441.2 196.9h0M457.1 193.5h0M478.9 176.5h0M448.2 197.2h0M458.9 182.4h0M479.9 166.8h0M482 165.7h0M480.1 170.4h0M439 200.6h0M478.9 175.8h0M463.8 181.7h0M446.4 201.8h0M439.3 208.3h0M445.5 204.4h0M482.7 158.5h0M468.3 181h0M449.2 193.1h0M455.2 185h0M461 184.5h0M445.8 196.2h0M468.6 180.8h0M467.1 184.9h0M459.8 183.3h0M477.2 180.1h0M460.6 190.5h0M459.1 187.5h0M440.4 202.5h0M445.7 191.6h0M472.3 182h0M476.4 173.1h0M448.8 192.2h0M460.6 180.5h0M441.6 201.9h0M437.8 209.2h0M458.4 187.6h0M459.8 188.9h0M475.3 181h0M479.1 163h0M442.5 202.5h0M466.4 186.8h0M460.5 191.4h0M466.4 187.5h0M467.8 183.4h0M458.1 186.4h0M451.1 196.2h0M482.4 162.6h0M482.1 163.2h0M446.2 203.3h0M448.6 201.3h0M463.1 182.5h0M450.3 194.2h0M476.5 182.6h0M479.7 168.4h0M479.5 170.7h0M464.2 187.8h0M473.6 180.4h0M448.1 192.6h0M450.3 196.2h0M461.9 187.7h0M469.8 185.2h0M474.3 177.4h0M480.5 163h0M439.1 202.9h0M480.2 172h0M464 184.8h0M441.6 199.1h0M440.3 208.3h0M465.7 178.8h0M458.2 190.3h0M451.8 196.4h0M473.8 175.2h0M449.5 194.5h0M455.8 191.5h0M483.6 155.1h0M463 187h0M445 203.5h0M455.1 194h0M468.9 181.7h0M470 185.8h0M483.8 151.9h0M442.7 202.4h0M455.4 188.9h0M449 197.8h0M477.7 179.6h0M465.6 178.1h0M478.9 171.3h0M469.5 182.8h0M483.3 159.9h0M460 183.1h0M455.4 188.3h0M471.5 179.9h0M479.2 169.6h0M449.3 198.6h0M443.2 197.5h0M472 173.6h0M463.4 189.5h0M466.1 178.2h0M482.3 164.3h0M476.1 181.3h0M448.7 199.2h0M456.9 193.6h0M462.5 185h0M470 178.4h0M469.9 185.3h0M439.2 199.1h0M481.7 159.1h0M469.9 183.6h0M459.1 189.1h0M440.9 204.7h0M472 170.9h0M441.2 207.6h0M464.3 184.5h0M468.8 182.9h0M454.6 189h0M462.6 186.2h0M437.8 210.7h0M471.1 184h0M437.8 204.8h0M478.4 177h0M437.7 210.5h0M476.9 177.1h0M476.2 181.3h0M454.2 189.3h0M478.9 176.2h0M440 207.4h0M459.5 183.1h0M459.9 188.9h0M482.8 147.8h0M470.3 176.5h0M464.7 187.2h0M438.3 208.9h0M445.9 198h0M453.7 189.9h0M463.2 189.5h0M445.3 194.1h0M460.5 191.4h0M470.8 175.7h0M450.1 194.7h0M460.1 190h0M465 187.7h0M454.5 194.2h0M443.5 204.7h0M449.3 196.8h0M481.7 161.8h0M475.9 177.6h0M454.4 191.8h0M439.6 207.6h0M456.9 191.9h0M439.4 202.1h0M465.6 188h0M477.2 182.2h0M467.6 177.9h0M469.8 185.3h0M477.1 180.6h0M479.3 173.4h0M439.1 207.5h0M455.4 194.5h0M479 172.7h0M483.8 152.9h0M446.4 195.8h0M468.1 185.9h0M482.7 160.3h0M479.3 174.7h0M442.8 197h0M445.5 202.3h0M443.2 202.8h0M447 201.3h0M446 203h0M438.9 205.3h0M476.1 179.4h0M462.4 188.5h0M471.7 179h0M468.6 186.1h0M474.9 174.5h0M437.8 210.1h0M458.8 186.7h0M450.4 194.8h0M481.3 158.4h0M464.9 188.5h0M472.6 184.8h0M442.2 196.2h0M450.9 197.3h0M438.1 209.2h0M456.2 245.2h0M456.2 239.5h0M456.4 235.7h0M456.1 235.6h0M456.1 241.2h0M456.6 237.5h0M456.7 235.4h0M456.8 236.6h0M456.9 233.6h0M456.9 246.2h0M457 252.8h0M457.3 247.9h0M457.4 240h0M457.3 244.7h0M457.8 234.3h0M457.8 244.4h0M457.7 235.7h0M458.4 247.2h0M458.4 242h0M458.3 243.4h0M458.1 236.1h0M458.3 235h0M458.7 234.5h0M458.6 234.7h0M458.5 237h0M458.9 236.3h0M459 249.3h0M459.3 237.6h0M459 241.4h0M459.3 232.3h0M459.8 234h0M459.8 241.1h0M460 238.6h0M459.7 234.5h0M459.9 233.2h0M459.8 251.9h0M459.7 232.7h0M460.1 249.3h0M460.2 235.1h0M460.3 248.3h0M460.5 231.4h0M460.1 240.1h0M460.1 254.9h0M460 248.7h0M460.3 255.7h0M460.3 232.5h0M460.1 232.4h0M460.4 232.7h0M460.8 232.4h0M460.6 257.2h0M460.7 232.9h0M460.8 233.4h0M460.7 232.7h0M460.5 233.2h0M460.5 234.8h0M460.7 233.8h0M461.1 238.4h0M461.4 253.4h0M461.1 237.8h0M461.4 233.3h0M461.1 236h0M461.5 242.6h0M461.7 231.8h0M461.9 231.2h0M461.8 230.5h0M462.3 244.5h0M462.1 241.8h0M462.1 233.3h0M462.2 234.2h0M462.3 249.2h0M462.4 253h0M462.2 229.9h0M462.3 242.9h0M462.5 256.1h0M462.5 243.3h0M462.9 240h0M462.5 229.8h0M462.6 244.5h0M462.9 240.7h0M463 237.2h0M462.9 233.7h0M463.3 231.2h0M463.3 241.9h0M463.5 256.6h0M463.5 229.9h0M463.3 235.9h0M463.5 232.2h0M463.5 251h0M463.4 230.5h0M463.2 241h0M463.1 245.1h0M463.8 231.4h0M463.6 244.2h0M463.7 236h0M463.6 234.1h0M464 234.8h0M463.8 239.1h0M463.9 228.9h0M464.2 235.9h0M464 266.9h0M464.6 228.4h0M464.9 247.2h0M464.9 227.8h0M465 235.4h0M464.8 228.6h0M464.9 250.5h0M464.6 244.7h0M464.7 229.5h0M464.6 230.1h0M464.6 252.5h0M465 240.1h0M464.9 240.9h0M464.7 229h0M465.2 255.3h0M465.5 237h0M465.6 272.7h0M465.8 228.7h0M465.9 239.8h0M465.6 236.7h0M465.6 239.2h0M465.7 235h0M465.7 227.7h0M466.3 241.8h0M466.3 235.6h0M466.2 234.8h0M466 231.4h0M466.3 236.7h0M466.3 232h0M466.4 256.6h0M466.3 235.7h0M466.2 227.2h0M466.3 229.1h0M466.8 239.3h0M466.8 245.1h0M466.7 233.1h0M466.6 240.6h0M466.8 235.6h0M466.6 236.6h0M466.9 233.2h0M466.7 230.6h0M466.8 245h0M467.2 232.9h0M467.5 228.3h0M467.3 239.2h0M467.1 234.7h0M467.2 226.2h0M467.7 229.2h0M467.5 234.3h0M467.8 244.3h0M467.8 232.6h0M467.6 226.2h0M467.7 235.1h0M467.7 244.2h0M468 232.6h0M467.9 239.3h0M467.5 233.9h0M468.3 251h0M468.4 226.8h0M468.4 240.2h0M468.4 224.9h0M468.2 240.9h0M468.2 230.3h0M468.2 225.7h0M468.2 226.5h0M469 238h0M468.9 245.2h0M468.6 239.2h0M468.5 232.5h0M468.7 235.5h0M468.8 232.3h0M469.2 225.5h0M469.1 226.7h0M469.3 225.7h0M469.3 227.5h0M469.3 225.2h0M469.2 227.5h0M469.3 227.8h0M469.7 236h0M469.7 235.9h0M469.6 226.6h0M470 226.4h0M469.7 233.6h0M470.2 224.3h0M470.3 244.4h0M470.2 231h0M470.2 240.4h0M470.5 225.5h0M470.1 229.4h0M470.5 237.5h0M470.7 227h0M470.6 226.6h0M470.6 227h0M470.8 227.8h0M470.8 233.7h0M470.8 234.6h0M470.9 225.2h0M470.6 226.6h0M470.5 242.7h0M470.6 236.6h0M470.8 228.3h0M471.1 238.3h0M471.3 224.2h0M471.5 228.6h0M471.4 224.2h0M471.5 235.9h0M471.5 232.8h0M471.9 225.8h0M471.6 228h0M471.6 239.5h0M471.9 232.8h0M471.7 249.6h0M471.6 245.8h0M471.6 227.1h0M472 236h0M472.3 240.5h0M472.3 227.8h0M472.3 231h0M472.1 239.6h0M472.5 229.6h0M472.2 246.7h0M472.3 224.8h0M472.4 226.2h0M472.6 223.9h0M473 229.9h0M472.7 243.7h0M472.9 246.4h0M472.7 228.1h0M472.9 238.5h0M472.9 225.2h0M473.3 234.3h0M473.3 230.7h0M473 229.4h0M473.2 224.7h0M473.3 224.3h0M473.1 276.1h0M473.2 232.5h0M473.3 234.7h0M473.4 231.4h0M473 223.8h0M473.2 235.8h0M473.1 240.9h0M473.9 224.1h0M473.7 228.4h0M473.7 232.6h0M473.8 242.6h0M473.8 242.5h0M473.9 228.4h0M473.7 225.1h0M473.9 225.6h0M473.5 226.5h0M474.1 227.7h0M474.2 226.3h0M474.4 232.4h0M474.4 245.2h0M474 225.7h0M474.2 232.8h0M474.6 234h0M474.9 230.1h0M474.5 239.8h0M474.6 232.5h0M474.7 248.6h0M475.2 229.9h0M475 232.2h0M475.4 233.5h0M475.3 228.5h0M475.3 226.1h0M475.4 228.7h0M475.1 225.8h0M475.4 226.4h0M475.2 248.5h0M475.7 227h0M475.7 225.9h0M475.8 233.7h0M475.8 233.6h0M475.8 229.6h0M475.9 237.6h0M475.7 226.2h0M475.6 242.9h0M475.8 236.8h0M475.7 223.3h0M475.8 239.3h0M475.9 238.6h0M475.7 223.4h0M476.2 224.2h0M476.5 226.3h0M476.5 228.8h0M476.8 225.7h0M476.8 231.2h0M476.9 235h0M476.9 223.6h0M476.6 231.7h0M476.9 225.3h0M476.8 226h0M477.3 225.1h0M477.4 234.7h0M477 223.2h0M477.3 233h0M477.4 226.4h0M477.4 241h0M477.5 249.3h0M477 238.8h0M477.2 226.4h0M477.4 224.6h0M477.2 228.5h0M477.5 238.8h0M477.4 235.9h0M477.9 224.9h0M478 228.5h0M477.7 228.9h0M477.9 231.2h0M478 232h0M477.9 227.3h0M477.8 230.3h0M477.7 225.9h0M477.5 230.9h0M477.8 224.7h0M477.5 226.3h0M477.7 231h0M478.2 244h0M478.2 236h0M478.3 234h0M478.2 224.3h0M478.2 246.4h0M478.2 223.4h0M478 234.6h0M478.3 230h0M478.5 242h0M478.5 225h0M478.7 224.9h0M478.8 229h0M478.6 246.7h0M478.7 222.8h0M478.6 233.5h0M478.7 227.3h0M479.5 231.5h0M479.3 224.4h0M479.2 236.7h0M479.3 232.2h0M479 227.6h0M479.4 228.8h0M479.3 233h0M479.2 232.4h0M479.8 232.5h0M479.6 230.2h0M479.7 225.3h0M479.6 223.5h0M479.9 230.5h0M479.6 244.8h0M480.3 227.2h0M480 224.8h0M480.4 233.5h0M480.5 232.4h0M480.4 237.4h0M480.1 222.9h0M480.5 229.4h0M480.1 233.9h0M480.1 226.1h0M480.8 265.1h0M480.6 227.7h0M480.7 224.2h0M480.7 232.6h0M480.8 225.4h0M480.6 241.7h0M480.8 234.3h0M480.6 253.8h0M481.2 226.2h0M481.3 223.5h0M481.4 231.4h0M481.3 233.1h0M481.3 224.9h0M481.4 226.9h0M481.4 227.1h0M481.4 240.7h0M481.2 223.6h0M481.2 229.6h0M481.1 249.2h0M481.8 234.2h0M481.7 229h0M481.5 229.1h0M481.7 223.5h0M481.8 226h0M481.9 232.3h0M481.9 224.3h0M481.6 231.9h0M481.6 233.8h0M481.9 227.6h0M481.8 224h0M481.6 231.2h0M481.6 240h0M482.3 230.7h0M482.1 233.4h0M482.4 243.5h0M482.5 225.3h0M482.1 228.2h0M482.2 222.1h0M482.1 226.8h0M482.2 228.7h0M482.3 227.7h0M482.8 222.2h0M482.8 243.6h0M482.6 229.7h0M482.9 223.6h0M482.8 232.3h0M482.7 222h0M482.7 230.5h0M482.5 240.6h0M482.9 224.7h0M482.8 225.2h0M482.9 221.9h0M482.5 231.9h0M483.5 246.2h0M483 232h0M483.4 223.7h0M483.2 226.3h0M483.5 224.9h0M483 226.9h0M483.1 223.5h0M483.5 227.1h0M483 234.4h0M483.5 231.4h0M483.2 237.4h0M483.9 226.4h0M483.8 223.6h0M483.7 225.3h0M483.8 224h0M483.7 241.9h0M484 245.4h0M483.8 247h0M483.8 245.7h0M483.8 224.9h0M483.6 224.6h0M483.6 227.3h0M483.6 226.7h0M484.1 223.3h0M484.1 228.3h0M484.4 258.3h0M484.2 257.7h0M484.2 227h0M484.4 226.7h0M484.3 249.7h0M484.4 226.3h0M484.1 242h0M484.8 223.9h0M485 221.7h0M485 227.2h0M484.6 260.5h0M484.8 225.2h0M484.6 225.9h0M485 263.8h0M484.8 227.5h0M485 247.6h0M485.1 228.1h0M485.5 229.2h0M485.2 235.1h0M485.2 231.6h0M485.3 221.5h0M485 227.4h0M485 228.7h0M485.1 229.3h0M485.9 226.4h0M485.7 231.3h0M485.7 228.5h0M485.8 221.5h0M485.8 235.8h0M485.5 240.4h0M486 232.5h0M485.8 223.6h0M485.5 226.1h0M486 240.9h0M485.9 232.8h0M485.5 223.6h0M485.6 234.3h0M485.7 223.6h0M485.7 242.1h0M486.4 228.3h0M486.4 235.7h0M486.1 225.6h0M486.5 222.1h0M486.2 232.6h0M486.4 223.2h0M486.4 225.2h0M486.4 229.5h0M486.7 239.3h0M486.6 231.5h0M486.7 224.9h0M486.7 248.4h0M486.9 247.1h0M486.9 222h0M487.4 224.9h0M487.2 225.6h0M487.2 236.8h0M487.2 237.6h0M487.4 222.3h0M487.3 227.2h0M487.3 236.4h0M487.5 239.4h0M487.3 236.9h0M487.8 238h0M488 241.2h0M487.5 223.4h0M487.6 223h0M487.8 232.8h0M487.9 223h0M487.6 262.5h0M487.6 222.9h0M488 249.2h0M487.6 222.9h0M487.5 228h0M488.3 228.8h0M488.1 221.6h0M488.5 230.7h0M488.2 240.2h0M488.1 237h0M488 233.4h0M488 224.3h0M488.1 234.8h0M488.1 222h0M488.7 231.7h0M488.5 246.5h0M488.7 246.1h0M488.7 223.5h0M488.8 221h0M488.8 226.5h0M488.9 228.2h0M488.9 234.9h0M488.9 225.8h0M489.1 223.8h0M489.5 245.6h0M489.2 237.5h0M489.5 222.5h0M489.1 221.4h0M489.4 239h0M489.5 225.4h0M489.3 222h0M489.4 233.6h0M489.4 226.5h0M489.5 222.9h0M489.8 235.5h0M489.9 222.7h0M489.6 223.8h0M489.9 226.5h0M489.9 220.9h0M490.4 248.4h0M490.1 221.6h0M490.2 242.3h0M490.5 222.8h0M490.2 229.8h0M490.4 222.1h0M490.2 230.2h0M490.3 224.3h0M490.3 232.6h0M490.8 229h0M490.9 244.5h0M490.5 234.9h0M491 234h0M490.9 229.2h0M491 222.3h0M490.6 221.7h0M490.9 220.7h0M490.7 241.5h0M491 237.2h0M491.1 224h0M491.2 224.2h0M491.4 232h0M491.1 223.2h0M491.2 222.6h0M491.2 227.9h0M491.2 233.8h0M491.5 226.8h0M491.9 221.3h0M491.9 235.1h0M491.9 244.2h0M491.9 229h0M491.5 254.6h0M491.6 222.4h0M491.9 228.4h0M491.8 223.7h0M491.7 223.4h0M491.9 220.7h0M491.8 220.3h0M492.2 222.8h0M492.4 220.4h0M492.4 221.7h0M492.2 226.2h0M492.4 231.9h0M493 224.5h0M493 222.8h0M492.6 220.6h0M492.8 229.9h0M492.7 224.6h0M492.9 227.2h0M492.6 222.5h0M492.5 246.7h0M493.5 221h0M493 222.3h0M493.5 241.4h0M493 231h0M493.3 229.6h0M493.5 221.6h0M493.2 222.4h0M493.1 223.7h0M493.2 229.4h0M493.1 233.4h0M493.1 219.8h0M493.6 238.1h0M493.9 236.4h0M493.6 225.3h0M493.9 237.3h0M493.9 231.9h0M493.7 234.4h0M494.1 228.3h0M494.4 220.8h0M494 231.5h0M494.5 220.2h0M494.1 224h0M494.2 227.4h0M494.4 224.7h0M494.4 222.2h0M494.1 219.4h0M494.3 242.4h0M494.4 224.6h0M494.6 227.8h0M494.8 234.2h0M494.9 219.6h0M494.7 232h0M494.9 229.6h0M494.8 219.1h0M494.8 240.5h0M495.3 244.7h0M495 220.9h0M495.4 222.5h0M495.1 227.7h0M495.8 242.1h0M495.6 230.9h0M495.7 220.7h0M495.9 228.9h0M495.9 229.4h0M495.8 237.8h0M495.6 239.5h0M495.8 224.8h0M495.6 223.4h0M495.6 222.3h0M496.1 230.5h0M496 231.7h0M496.5 220.1h0M496 225h0M496.4 219.9h0M496.5 251.8h0M496.8 218.6h0M496.7 223.6h0M496.5 223.5h0M496.5 233.6h0M496.8 220.8h0M496.5 225.2h0M496.6 236h0M496.8 226.7h0M497.2 219.5h0M497.4 229.2h0M497.3 223.1h0M497.3 232.3h0M497.3 227.8h0M497.1 226.1h0M497.2 218.9h0M497 238.5h0M497.4 224.4h0M498 217.9h0M497.8 219.7h0M497.9 219.5h0M497.5 225.4h0M497.6 222.2h0M497.9 217.6h0M497.7 239.6h0M497.5 226.5h0M497.8 223.8h0M497.8 225.3h0M497.6 217.5h0M498 217.5h0M498 219.5h0M498.5 225.7h0M498.4 219.1h0M498 228.1h0M498.4 224.6h0M498.3 218.5h0M498.3 218.2h0M498.2 217.3h0M498.4 233.2h0M498.5 224.5h0M498.3 240.6h0M498.3 218h0M498.9 229.2h0M498.9 220h0M498.8 217.9h0M498.5 221.4h0M498.7 220.2h0M498.9 218.1h0M499.1 221.1h0M499.1 220.9h0M499 240.5h0M499.3 230.8h0M499.1 222h0M499.4 242h0M499.1 234h0M499 225h0M499.5 239.7h0M499.1 225h0M499.3 223.7h0M499.9 220.8h0M499.9 216.8h0M499.9 228.3h0M499.7 231.4h0M499.9 218.1h0M499.8 239.1h0M499.7 221.2h0M499.7 219.9h0M500 219.6h0M499.7 220.7h0M499.8 222.3h0M499.9 229.7h0M499.8 225.9h0M499.7 231.8h0M499.7 228.1h0M500.1 225.5h0M500.2 231.3h0M500.2 219.8h0M500.4 233.7h0M500.3 223.1h0M500.3 242.3h0M500.3 222.2h0M500.4 219.4h0M500.5 232.4h0M500.2 221h0M500.1 223.6h0M500 231h0M500 227.8h0M500.5 224.3h0M500 227.9h0M500.2 222.1h0M500.7 218.9h0M500.5 231.5h0M500.6 218.4h0M500.9 249.9h0M500.8 218.1h0M501.1 217.2h0M501.2 216.8h0M501 220.9h0M501.4 236.5h0M501.3 223.3h0M501.1 224.7h0M501.1 222.4h0M501.4 229.2h0M501.1 221.3h0M501.1 217.1h0M501.1 222h0M501.4 229.4h0M501.1 235.9h0M501.1 225.3h0M501.3 225.1h0M501.7 229.6h0M502 217.9h0M501.7 230.6h0M501.9 218.8h0M501.9 221.2h0M501.5 231.7h0M501.7 227h0M501.7 216.9h0M501.7 217h0M502 229.8h0M502.1 225.6h0M502.2 215.8h0M502.5 239.3h0M502.4 216.3h0M502.3 224.5h0M502.5 220.2h0M502.3 217h0M502.1 217.6h0M502.7 221.8h0M502.6 221.9h0M502.8 231.8h0M502.9 242.9h0M503 236.5h0M503 215.8h0M502.8 216.5h0M502.9 226h0M503.2 242h0M503 217.8h0M503 215.9h0M503.3 222.3h0M503.2 216.8h0M503.4 229.7h0M503.2 215.9h0M503.1 226.2h0M503.9 220.7h0M503.9 226.2h0M503.9 220.1h0M503.8 220.5h0M503.6 227.6h0M503.8 220.5h0M503.6 228.2h0M503.5 237.7h0M504.1 218.4h0M504 223.7h0M504 232h0M504.2 233.3h0M504.4 223.4h0M504 237.9h0M504.1 226.5h0M504.9 222.5h0M504.9 218h0M504.5 227.7h0M504.5 245h0M504.6 218h0M504.5 223.8h0M504.8 215.7h0M504.8 224.4h0M504.5 221.6h0M505.2 229.5h0M505.2 215.8h0M505.3 237.6h0M505.1 217.7h0M505.1 228.2h0M505.4 215.6h0M505.4 230.6h0M505.5 223.5h0M506 219.3h0M506.2 229h0M506.4 216h0M506.5 225.7h0M506.3 217.9h0M506.3 217.3h0M506.3 221.6h0M506.5 217.7h0M506.5 222.3h0M506.8 225.4h0M506.8 215.9h0M506.6 218h0M506.9 222.7h0M506.6 217h0M506.8 228.4h0M507.3 223.4h0M507.3 233.6h0M507.2 218.3h0M507.4 224.3h0M507.4 218.3h0M507.9 215.8h0M507.9 233.2h0M507.7 223.3h0M507.9 214.7h0M507.6 214.5h0M507.8 214.6h0M507.7 213.8h0M507.6 238.3h0M507.7 229.7h0M507.7 214.4h0M508.4 213.7h0M508.2 213.8h0M508.4 217.8h0M508.2 238.1h0M508.1 214.4h0M508.1 238.2h0M508.4 215.3h0M508.2 214.5h0M508.9 238.9h0M508.7 227h0M508.8 228h0M508.6 221.3h0M508.9 214.7h0M508.6 222.4h0M508.7 226.9h0M508.8 221.8h0M509.1 221.5h0M509.1 213.9h0M509.2 218.3h0M509.1 222.4h0M509.4 214.9h0M509.5 213.8h0M509 220h0M510 236.3h0M509.7 217.5h0M509.7 214h0M509.6 217.4h0M509.8 221.1h0M510.3 219.9h0M510.2 226.3h0M510.2 213.2h0M510.3 223.2h0M510.3 225.8h0M510.4 215.4h0M510.7 215.2h0M510.9 212.6h0M510.6 253.8h0M510.8 225.7h0M510.8 228.9h0M511 212.4h0M510.6 218.1h0M510.7 225.2h0M510.7 219.9h0M511.2 223.7h0M511 228.7h0M511.2 219.7h0M511.1 222.3h0M511.3 216.8h0M511.3 215.2h0M511.1 224.8h0M511.8 212.2h0M511.7 214.2h0M512 211.5h0M511.8 218.1h0M511.7 220.2h0M511.5 221.5h0M512.3 212.4h0M512.1 223.3h0M512 211.9h0M512.2 234.9h0M512.3 217.8h0M512.3 212.3h0M512.5 211.5h0M512.7 220.5h0M512.6 216.7h0M512.7 212.3h0M512.6 211.3h0M512.5 224.3h0M513.4 214.3h0M513 213.2h0M513.2 212.8h0M513 212.2h0M513.2 231.5h0M513.5 217h0M513.1 224.2h0M513 214.2h0M513.1 243.8h0M513.7 210.2h0M513.6 221.5h0M513.6 210.6h0M513.8 215.3h0M514 222h0M514.2 211h0M514.3 216.6h0M514.4 217h0M514.4 217.2h0M514.4 215.7h0M514.1 214.8h0M514.2 210.7h0M514.9 210.2h0M514.7 222.8h0M514.7 210.1h0M514.7 223.1h0M514.9 210.8h0M514.7 229.5h0M515 226.6h0M515 210.6h0M515 223.9h0M515.1 214.2h0M515.5 213.6h0M515.3 215.9h0M515.1 214h0M515.5 221.4h0M515.8 220.2h0M515.8 216.3h0M515.8 211.5h0M515.7 220.3h0M516 219.9h0M515.6 209.1h0M515.6 218.5h0M515.8 220.7h0M515.9 224.8h0M515.5 215.7h0M515.8 210.2h0M516.4 209h0M516.3 214.8h0M516.3 209.6h0M516.5 212.9h0M516.5 218.8h0M516.4 215.1h0M516.3 215.7h0M516 210.4h0M516 208.5h0M516.2 209.1h0M517 212.5h0M516.5 208.6h0M516.7 216.9h0M516.9 221.6h0M517 228.1h0M517.1 219h0M517.1 236.2h0M517.2 207.7h0M517.2 207.9h0M517.1 210.7h0M517.1 215.3h0M517.4 219.3h0M517.4 216h0M517.8 210.2h0M517.9 207.6h0M517.8 215.3h0M517.8 209.6h0M517.9 225.1h0M517.5 209.3h0M517.6 214.4h0M518.4 210.5h0M518.3 208.8h0M518 210.6h0M518.4 227.3h0M518 209.2h0M518 207.7h0M518.9 209.1h0M518.8 207.3h0M518.7 219.7h0M518.7 220h0M518.7 222.2h0M518.9 208.3h0M518.5 226.9h0M518.5 221.8h0M519 206.7h0M519.5 213.9h0M519.3 214.1h0M519.4 207.2h0M519.3 207.8h0M519.1 213.7h0M519.2 206.1h0M519.1 207.2h0M519.2 226.2h0M519.4 218h0M519.4 206.6h0M519.5 209.2h0M519.6 209.7h0M519.6 209.6h0M519.9 224.3h0M519.6 214.7h0M519.9 207.8h0M519.6 209.2h0M519.8 207.4h0M519.9 211.5h0M519.9 208.2h0M519.6 220.1h0M519.8 215.4h0M519.9 207.9h0M519.9 205.9h0M520.5 208.2h0M520.4 215.6h0M520.2 210.6h0M520.3 206.7h0M520.3 208.8h0M520.2 207.1h0M520.3 224.8h0M520.9 211.9h0M521 213.9h0M520.9 217.8h0M520.8 217.3h0M520.7 207.1h0M520.9 220.9h0M520.9 209.6h0M520.7 210.1h0M520.8 208.1h0M521.2 206.6h0M521.4 214.6h0M521.3 208h0M521.4 208.3h0M521 231.2h0M521.1 208.5h0M521.8 209.1h0M521.8 204.1h0M521.9 206.9h0M521.6 205h0M521.5 213.6h0M521.9 209h0M522.5 205.1h0M522.1 207.2h0M522.4 207.8h0M522 207.7h0M522.4 208.4h0M522 204.9h0M522.1 208.7h0M522.7 206.4h0M522.6 231.9h0M522.5 209.1h0M522.6 214.8h0M522.8 207.4h0M523.5 206.7h0M523.4 208.2h0M523.1 204.8h0M523.2 209.2h0M523.2 204.5h0M523.5 206.3h0M523 207.3h0M523.3 212.9h0M523 220.1h0M523.5 203.9h0M523 212.6h0M523.8 211h0M523.8 205.6h0M523.7 205.8h0M523.7 211.7h0M523.9 202.6h0M523.6 206h0M523.6 203.2h0M523.8 204.4h0M524 202.9h0M523.6 216.1h0M523.9 206h0M524.2 209.7h0M524.4 206.3h0M524.4 212h0M524.5 202.4h0M524.2 220.4h0M524.3 206.4h0M524.9 206h0M524.8 209.2h0M524.8 205.1h0M524.7 201.9h0M524.5 206.8h0M524.9 207.4h0M524.9 203.2h0M525 206.6h0M525.1 207.6h0M525.1 203.4h0M525.3 203h0M525.2 217.3h0M525.7 201.9h0M526 203.5h0M525.6 201.5h0M525.9 202.2h0M525.6 208.4h0M525.8 216.8h0M526.2 203.7h0M526.5 204h0M526.7 202.8h0M527.1 221.8h0M527.5 206.5h0M527.1 200.6h0M528 201h0M528 203.5h0M527.9 206.6h0M527.6 209.1h0M527.7 215.6h0M528.4 200.8h0M528.4 202.2h0M528.1 204.2h0M528.3 201.4h0M528 208.1h0M528.3 201.3h0M528.1 212.9h0M528.4 199.9h0M528.3 202.1h0M529 200.7h0M528.9 199.1h0M528.8 205.7h0M528.5 199.8h0M528.8 207.5h0M528.9 201.5h0M528.9 200.9h0M529.2 201.5h0M529.5 201.2h0M529.5 200.8h0M529.1 210.3h0M529.1 203.7h0M529.4 202.1h0M529.1 201.4h0M529.5 200.5h0M529.8 197.4h0M529.7 200h0M529.9 211h0M530.3 205.1h0M530.1 197.5h0M530.5 203.8h0M530 197.9h0M530.2 202.8h0M530.3 209.2h0M530.3 199.9h0M530.9 197.4h0M530.9 207h0M530.8 198.3h0M530.8 208h0M530.7 197.8h0M530.8 200h0M530.9 196.8h0M530.7 197.6h0M530.8 198.5h0M530.7 210.8h0M530.7 196.9h0M531.4 200.1h0M531.8 195.3h0M531.6 200.8h0M531.6 195.4h0M531.8 195.5h0M532 195.5h0M532.5 197.6h0M532.4 195h0M532.3 196.8h0M532.3 206.9h0M532.6 195.4h0M532.6 203.7h0M533 195.3h0M533.3 202.2h0M533.4 207.3h0M533.3 199.2h0M533.3 197.6h0M533 201.1h0M533.5 200.1h0M533.8 193.6h0M533.5 194.6h0M533.8 193.8h0M534.5 198.6h0M534.5 197.9h0M534.3 194.5h0M534.4 193.8h0M534.9 191.9h0M534.7 193.1h0M534.8 195.3h0M534.6 194.8h0M535.1 191.3h0M535.3 204.3h0M535.4 191.5h0M535.2 196.8h0M535.5 198.4h0M535.2 194.2h0M535.3 191.7h0M535.2 193.1h0M535.4 206.4h0M535.3 205.8h0M536 200.1h0M536 190.8h0M536.4 198h0M536.2 191.3h0M536.5 203h0M536.4 194.1h0M536.4 190.2h0M536 192.1h0M536.2 190.5h0M536.4 197.5h0M537 190.7h0M537 194.4h0M537 196.5h0M536.5 192.9h0M536.9 189.4h0M536.7 192.5h0M536.7 190.2h0M537.1 193.7h0M537.1 190.2h0M537.2 194h0M537.4 193.3h0M537 190.9h0M537.4 190.8h0M537 202.2h0M537.7 192.8h0M537.7 192.8h0M537.9 193.4h0M537.9 188.2h0M538 191.8h0M537.9 190.1h0M537.5 189.6h0M537.8 189.9h0M537.6 188.6h0M538.1 192.3h0M538.5 193.9h0M538.2 197.4h0M538 190.5h0M538.6 192.2h0M539 188.5h0M539 191.9h0M538.9 187.9h0M538.6 188.5h0M538.6 200.9h0M538.8 187h0M538.8 194.4h0M539.5 195.1h0M539.2 188.1h0M539.4 186.9h0M539.4 186.3h0M539.4 193.7h0M539.1 189.1h0M539.8 186.6h0M539.9 188.4h0M540 185.7h0M539.7 189.7h0M539.7 186h0M539.7 194.1h0M540.3 187.6h0M540.5 191h0M540.2 187.3h0M540.1 187.5h0M540.1 189.7h0M540.9 184.7h0M540.9 185.4h0M540.6 188.9h0M540.7 185.8h0M540.8 188h0M540.8 186.5h0M541 193.7h0M540.7 190.7h0M540.5 186.3h0M540.6 185.2h0M540.8 186h0M541 188.7h0M541.1 186.4h0M541.3 185.9h0M541.4 188.2h0M541.3 187.1h0M541.4 188.2h0M541.4 198.7h0M541.2 195.1h0M541.1 185.3h0M541.4 189.4h0M541.9 191h0M541.8 185.3h0M541.9 184.7h0M541.9 186h0M541.7 183.8h0M541.6 185.5h0M542 188.1h0M541.9 194.1h0M542.4 185.1h0M542 187.3h0M542.4 183.4h0M542.2 193.8h0M542.3 186.5h0M542.7 194.6h0M542.7 192.3h0M542.9 186.7h0M542.9 191h0M542.7 191.8h0M543 187.3h0M542.7 185.8h0M543.2 183.6h0M543 189.3h0M543.4 188.3h0M543.1 184h0M543.7 184.9h0M543.9 186.1h0M543.9 181.4h0M544.2 185.6h0M544.4 194.1h0M544.6 180.8h0M544.6 186.3h0M544.6 186.1h0M544.9 183.8h0M545 185.8h0M544.6 188h0M544.8 187.5h0M544.6 181.9h0M545.3 184.5h0M545.1 182.8h0M545.1 181.2h0M545 190h0M545.2 183.5h0M545.4 188.2h0M545.1 185.8h0M545.8 190.4h0M545.8 179.9h0M545.5 187.5h0M545.9 179h0M545.7 189.6h0M545.9 186.3h0M545.9 179.3h0M545.7 183.5h0M545.5 189h0M545.5 183.4h0M546.3 194.1h0M546 180h0M546.4 184h0M546.3 179.3h0M546.2 181.4h0M546.1 194h0M546.2 185.4h0M546.9 181h0M546.8 185.7h0M546.5 188.5h0M546.8 179.4h0M546.9 181.5h0M546.8 180.9h0M547.4 182.6h0M547.1 181.1h0M547.7 186.3h0M547.5 192.6h0M547.9 178.1h0M547.8 179h0M547.9 179.6h0M547.9 180.7h0M547.9 180.9h0M547.7 190.6h0M547.6 178.9h0M547.6 177.4h0M548.2 180.1h0M548.3 178.1h0M548.3 183.8h0M548.4 180.3h0M548.4 183.3h0M548.6 176.4h0M548.6 181h0M548.6 177.9h0M548.7 181.5h0M549 177.8h0M548.7 177.7h0M548.5 188.1h0M548.8 184h0M549.5 184.6h0M549.2 180.1h0M549.6 176.9h0M549.7 184.2h0M549.7 183.6h0M549.8 177.2h0M549.6 175h0M549.7 177.1h0M550.4 176.9h0M550.2 175.3h0M550.2 175.9h0M550.1 177.2h0M550.3 175.7h0M550.2 178.1h0M550.5 178.9h0M550.3 182.2h0M550.4 177.6h0M550.6 188.6h0M550.7 173.4h0M550.8 177.7h0M551.1 175.1h0M551.1 178.8h0M551.1 178.1h0M551.1 173.8h0M551.1 174h0M551.1 174h0M551.5 183.9h0M551.6 172.5h0M551.9 173.3h0M552.1 181.5h0M552.3 174.5h0M552.4 175.5h0M552.9 176.5h0M553 184.5h0M552.8 177.3h0M552.6 172.4h0M553.3 172.1h0M553 183.2h0M553.4 186.4h0M553.2 177.2h0M553 173.4h0M553.2 174.6h0M553.3 171.5h0M553.3 177.7h0M553.1 173.2h0M553.9 170h0M553.6 177.1h0M553.9 177.4h0M553.7 170h0M553.7 175.1h0M554.5 179.1h0M554.5 176.7h0M554.1 176.7h0M554.4 169.6h0M554.1 175.5h0M554.3 174.6h0M554.4 169.4h0M554.4 174h0M554.2 175.4h0M554.3 176.5h0M554.4 171.4h0M554.6 181.8h0M555 189.7h0M554.6 170.7h0M554.9 175.4h0M554.8 170h0M555.1 172.4h0M555.1 171.2h0M555.3 174.8h0M555 173.4h0M555.3 172.4h0M555.5 175.5h0M555.3 167.9h0M555.2 175.8h0M555.7 175.1h0M555.9 172.4h0M555.7 170.1h0M555.6 168.8h0M555.7 177.7h0M555.8 171.3h0M555.8 186.8h0M555.6 171.3h0M556.2 169.9h0M556.5 167h0M556.3 168h0M556.2 167.8h0M556.1 167.4h0M556 173.4h0M556 175.8h0M556.6 168.8h0M556.5 168.4h0M556.7 170.3h0M557.4 177.3h0M557.1 175.2h0M557.4 165.8h0M557.2 169.4h0M557.5 170.6h0M557.1 171.1h0M557.4 166.6h0M557 168.5h0M557.6 173.9h0M558 167.1h0M557.9 165h0M557.5 167.3h0M557.9 167h0M557.8 191.8h0M557.8 169.3h0M557.7 169.9h0M557.8 168.8h0M557.6 165.5h0M557.7 165.7h0M558.5 166.6h0M558.3 173.1h0M558.5 168.5h0M558.1 164.6h0M558.4 164.2h0M558.3 169.5h0M558.6 172.9h0M558.6 165.6h0M558.6 173.9h0M558.9 187.2h0M558.7 164.7h0M558.6 173.6h0M558.9 179.3h0M558.8 176.7h0M558.7 164.2h0M558.6 173.4h0M558.9 169.6h0M558.9 166.2h0M559.3 165.7h0M559.3 165.1h0M559.2 169.7h0M559.2 163.5h0M559.6 165.5h0M559.6 167.9h0M559.7 167.3h0M559.8 172.8h0M559.7 166.8h0M559.7 166.8h0M559.7 167.8h0M560.4 165.3h0M560.5 169h0M561 164.1h0M561 172.5h0M561 163.4h0M560.8 164h0M560.8 172.9h0M560.5 162.8h0M561 161.7h0M561.2 178.1h0M561.4 168h0M561.2 161h0M561 175.2h0M561.2 164.4h0M561.2 177.7h0M561.3 168.8h0M561.2 161.5h0M561.7 170.4h0M561.6 166.2h0M561.5 169.6h0M562 161h0M561.7 189.8h0M561.7 160.4h0M562 166h0M561.7 162h0M562.1 176.2h0M562.4 159.9h0M562.3 170.6h0M562.3 161.6h0M562.1 160.2h0M562.1 186.3h0M562.3 166.2h0M562.8 163.4h0M562.8 160.7h0M562.6 169.5h0M562.5 161.1h0M562.5 161.2h0M562.7 166.7h0M563 162.7h0M562.6 175.4h0M563.2 168.5h0M563.1 162h0M563.2 166.6h0M563.4 172.8h0M563.5 159.7h0M563.8 166.1h0M564 162.8h0M563.7 159h0M564.4 162.2h0M564.5 158.6h0M564.5 191.1h0M565 157.1h0M564.5 160.3h0M564.7 160.2h0M565.2 172.9h0M565.5 156.5h0M565.2 156.9h0M565.1 158.4h0M565.5 161.4h0M565.6 155.5h0M565.7 157.9h0M565.6 156.6h0M565.6 165.1h0M566 158.1h0M566.4 156.8h0M566.2 157h0M566.1 160h0M566.1 159.9h0M566.3 157.7h0M566.3 157.8h0M566.7 156.3h0M566.5 158.6h0M566.8 159.2h0M566.6 157.5h0M566.7 163.3h0M567 159.1h0M567.5 153.1h0M567.2 154.7h0M567.4 164h0M567.5 154.1h0M567.9 156.5h0M567.8 161.1h0M567.9 158.3h0M567.9 158.5h0M568.3 153.5h0M568.5 153.5h0M568.1 156.2h0M568.2 168.2h0M568.3 153.5h0M568.6 152.7h0M568.8 155.1h0M569.4 156.1h0M569.3 152h0M569.1 153.7h0M569.2 166.3h0M569.4 151.9h0M569.9 154h0M570.4 156h0M570.4 150h0M570.1 160.3h0M570.5 151.7h0M570.9 157.6h0M570.7 150.3h0M570.9 161.8h0M570.9 152.7h0M571 152.6h0M570.7 152h0M571 155h0M570.8 150.1h0M570.5 152.8h0M571 154.3h0M571.5 150.4h0M571.4 149.3h0M571.4 153.5h0M571.5 152.1h0M571.1 164.7h0M571.4 160h0M571.1 148.9h0M571.1 172.3h0M571.3 152.6h0M571.5 148.5h0M571.5 150h0M571.6 148.4h0M572 151.3h0M571.9 153.8h0M571.9 148.5h0M571.9 148.3h0M571.6 149h0M572.4 155.2h0M572.1 157h0M572.1 153.3h0M572.3 163.5h0M572.5 146.3h0M572.6 147.2h0M572.7 149.9h0M572.7 145.2h0M572.7 153.2h0M572.8 177.2h0M572.7 156.7h0M572.6 146.5h0M573 141.6h0M573.5 135.1h0M573.1 143.2h0M573.4 134.8h0M573.1 142h0M573.4 139.1h0M573.2 144.5h0M573.6 134.8h0M573.7 131.2h0M573.5 133.6h0M574 127.4h0M574 130.1h0M573.7 131.7h0M573.8 133.8h0M573.9 136h0M574.3 142.9h0M574.2 131.8h0M574.5 126.4h0M574.3 129.5h0M575 137h0M574.7 130.6h0M574.7 135h0M575 130.9h0M574.5 136.9h0M574.6 127.3h0M575.4 138.1h0M575.4 128.4h0M575.2 125.9h0M575.5 125.4h0M575.7 126.2h0M575.6 140.5h0M575.9 129.6h0M575.7 130.4h0M575.6 128.7h0M575.7 128.6h0M575.6 132.8h0M576.1 125.6h0M576.3 124.2h0M576.4 126.1h0M576.2 134.9h0M576 130.5h0M576.5 124h0M576.3 129.4h0M576.6 135.3h0M576.8 124.1h0M576.9 124.7h0M576.9 129h0M576.5 133.2h0M577.4 130.4h0M577.1 128.2h0M577.5 130.4h0M577.2 124h0M577.9 126.7h0M577.6 123.4h0M577.8 122.9h0M578 129.1h0M578.1 128h0M578.5 122.8h0M578.3 122.9h0M578.5 123.1h0M578.2 123.5h0M578.4 132.7h0M578.3 124.7h0M578.5 122.7h0M578.3 162.4h0M578.1 125.3h0M578.1 127.3h0M578.6 130.6h0M579 125.9h0M578.9 128.8h0M578.6 129.6h0M579.3 133h0M579.3 131.2h0M579 122.5h0M579.1 126.8h0M579.4 130.1h0M579.1 135.8h0M579.1 124.1h0M579.3 128.4h0M579.2 128.4h0M579.5 124h0M579.5 127.6h0M579.7 121.7h0M579.5 122.8h0M579.8 123.5h0M579.8 124.8h0M579.7 124.6h0M579.6 127.8h0M579.8 126.8h0M580.3 127.1h0M580.5 120.2h0M580.4 122.4h0M580.7 121.7h0M580.5 122.9h0M580.7 124.1h0M581 131.9h0M580.8 120.6h0M580.7 136.4h0M580.6 128.8h0M580.6 131.9h0M581.4 135.6h0M581.1 130.5h0M581 131.5h0M581.3 125h0M581.2 133.5h0M581.3 130.3h0M581.1 122.9h0M581.2 120.9h0M581.4 124.7h0M581.2 119.5h0M582 118.9h0M581.8 122.9h0M581.8 122.2h0M581.9 133.6h0M581.7 120.4h0M581.7 127.7h0M581.8 124.9h0M581.8 121.9h0M581.9 120.7h0M582.3 124.1h0M582.1 123.7h0M582.1 123.5h0M582.3 128.4h0M582.2 119h0M582.3 128.8h0M582.2 120.7h0M582.2 121.1h0M582.1 118.7h0M582.7 117.9h0M582.6 134h0M582.7 125.3h0M582.5 123.7h0M582.7 118.8h0M582.8 126h0M582.8 126.5h0M582.8 124.7h0M583.2 124.2h0M583.1 118.9h0M583.1 118.8h0M583.1 121.5h0M583.1 122.1h0M583 120.2h0M583.1 118.3h0M583 120h0M583.2 121.1h0M583.3 129.9h0M583.1 126.6h0M583.7 118.2h0M583.5 121.8h0M583.6 123.2h0M583.9 133.7h0M583.7 131.8h0M583.6 117.2h0M583.9 131.3h0M583.8 118.7h0M583.6 126.9h0M583.6 121.6h0M583.7 133h0M583.8 124.8h0M583.8 127.9h0M583.7 124.6h0M583.7 120.6h0M583.6 124.4h0M583.8 142.4h0M583.6 128.7h0M583.9 119.4h0M583.6 116.7h0M583.6 119.1h0M446.1 207.6h0M449.1 210.4h0M443.3 260.1h0M448.7 235.5h0M444.8 235.5h0M441.7 261.4h0M437.7 237.5h0M451.9 213.3h0M445.6 210.1h0M446.5 235.8h0M453.6 200.1h0M440.4 253.5h0M449.2 221.6h0M438.1 233.3h0M451.7 237.6h0M442.6 254.9h0M438.2 243.7h0M442 242.4h0M451.5 234.2h0M437.5 220.5h0M444.7 227.6h0M439.9 235.9h0M438.4 234.8h0M446.6 244.3h0M448.1 219.8h0M444.1 209.5h0M453.3 232.8h0M438.8 228.8h0M439.7 210.6h0M442.2 238.4h0M443.7 216.4h0M445.1 237.6h0M443.8 248.7h0M447.6 234.4h0M453.9 196.6h0M443 217.5h0M447 245.5h0M439.8 233.2h0M439.9 223.5h0M450.2 221.8h0M453.1 247.6h0M443.6 225h0M444.6 202.2h0M451.2 202.2h0M440 239.1h0M453.6 204.8h0M442.7 206.1h0M447.6 201.6h0M450.2 213.3h0M451.6 248.7h0M438.9 244.4h0M448.7 241.6h0M445.1 209.3h0M452.7 196.1h0M452.8 250.4h0M445.9 218.7h0M447.1 255.8h0M452.9 202.2h0M443.7 248.7h0M453.9 237h0M453.8 237.5h0M453.7 212.4h0M450.3 237.3h0M443.3 239.9h0M446.1 223h0M438.3 209.1h0M450.6 247h0M450.4 231.3h0M440.2 240.8h0M452 244.8h0M444.5 219.1h0M443.3 238.7h0M449.7 255.4h0M439.3 209.8h0M453.4 227.2h0M437.6 246.2h0M438.4 252.7h0M449.5 238.8h0M439.3 252.8h0M443.8 225.3h0M438.4 249.2h0M442.3 229.6h0M450.5 215.4h0M440.4 258.2h0M450.8 216.1h0M444.2 238.5h0M448.2 228.5h0M442.7 249.3h0M450.8 219h0M447 229.2h0M451.1 228h0M440.7 208.6h0M452.7 198.4h0M449 239.8h0M453.4 214.1h0M444.7 222.6h0M452.7 204.7h0M453.3 216.3h0M440.7 244.5h0M441.5 206h0M451.1 198.5h0M447 254.7h0M447.9 258.5h0M447.8 249.6h0M450.4 233.6h0M444.6 259h0M444.4 237.6h0M448.6 209.1h0M440.7 242.5h0M438.6 218.4h0M453.1 233.2h0M439.3 223.9h0M443.7 219.7h0M452.8 214h0M446 212.3h0M451.9 226.9h0M439.7 223.8h0M438.3 258.2h0M441.3 252.4h0M449.1 254.1h0M451.1 245.7h0M439.5 253.2h0M438.6 231.9h0M445.8 205.8h0M451.9 203.5h0M449 257.5h0M451.6 219.4h0M452.6 195.4h0M447 238.4h0M448.5 235.7h0M448.6 225.6h0M440.6 236.2h0M448.8 221h0M439.5 211.3h0M446.1 227.1h0M453.2 205.4h0M440.6 244.7h0M440.6 239.1h0M439.3 248.1h0M452.1 208.1h0M440.1 238.4h0M443.7 248.4h0M449.7 254.2h0M448.8 238.6h0M441.7 251.8h0M443.3 209.6h0M448.1 208.9h0M449.3 219.5h0M446.2 251.4h0M439.2 236.2h0M442.3 255.5h0M443.6 248.2h0M448.8 239h0M443 217.3h0M440.9 249.1h0M449.6 205.8h0M438.1 228.2h0M439.8 228.5h0M444 230.9h0M445.1 217.9h0M453.5 233h0M442.7 231.2h0M442.6 220.4h0M443.7 211.2h0M444.6 203.4h0M446.7 207.7h0M445.7 231.3h0M448.4 221.9h0M452 199.9h0M441.2 219.6h0M439 209.9h0M441.5 219.6h0M446.4 256.9h0M440.3 231.2h0M450.3 240.5h0M449.9 202.3h0M450.9 242.5h0M451.8 219.7h0M441.9 234.4h0M453.3 240.9h0M441.5 229h0M446.3 233.3h0M441.4 210.9h0M448.1 226.8h0M454 205.1h0M448.6 248.8h0M447.7 227.6h0M440.2 221h0M450.6 209.4h0M447.8 239.6h0M438.6 210.7h0M446.6 228.8h0M450.8 201.8h0M440.1 210.8h0M453.7 199.3h0M441.4 258.3h0M445.5 254.9h0M437.4 228h0M441.7 211.8h0M444.7 254.4h0M444.4 244.4h0M440.8 222.5h0M443 247.9h0M447.1 228.3h0M442.2 211h0M444.6 240.2h0M443 243.2h0M438.7 244.3h0M442.7 234.5h0M453 237.1h0M447.2 215.6h0M448.1 242.2h0M444.6 259.2h0M453.7 249.1h0M450.5 200.4h0M449.5 227.9h0M449.8 228.5h0M443.3 216.4h0M449.1 239.5h0M439.5 252.5h0M446.9 215.4h0M445.9 205.6h0M450.6 240.2h0M453 198.8h0M441.3 226h0M437.7 249h0M452.6 205.3h0M440.3 234h0M441.9 254h0M448.3 230.5h0M442.5 236.7h0M440.3 238.4h0M440.5 250.4h0M452.4 230.3h0M451.6 215.7h0M451.7 203.7h0M451.3 225h0M442.9 213.3h0M450.4 239.1h0M449.9 199h0M444.9 233.7h0M441.8 250.4h0M444.6 216.2h0M447.4 257.2h0M454 229.2h0M437.5 230.3h0M444.2 222.2h0M442.6 245h0M447.9 246.1h0M447.7 219.8h0M446.2 235.9h0M447.1 230.8h0M440.9 260.8h0M449 253.9h0M437.4 218.3h0M452.1 241.9h0M437.7 253.3h0M446.5 241.7h0M448.5 235.4h0M442.4 234.4h0M451.1 243.7h0M446.7 227.6h0M447.9 247.7h0M446 230.5h0M439.1 232.8h0M450.6 210.7h0M441.6 250.4h0M439.3 251.9h0M437.4 209h0M441.5 211.7h0M447.9 238.6h0M448 203h0M442.8 219.6h0M438.1 246.3h0M437.3 238.2h0M442.6 242.5h0M452.3 208.5h0M444.2 255.6h0M441.1 239.9h0M448.6 219.8h0M437.6 224.7h0M445.1 239.5h0M441.2 252h0M437.3 259.4h0M449.5 230.5h0M441.6 241.9h0M440.2 229.2h0M437.5 244.2h0M438.5 256.2h0M438 223.1h0M445.3 212.1h0M452.2 239.8h0M440 210.4h0M437.7 213.6h0M446.5 215.5h0M439.9 251.7h0M448.8 212.8h0M452.1 209.6h0M441.8 255.3h0M444.1 257.4h0M450.6 253.2h0M442.8 219.9h0M449.1 200.6h0M438.7 228.3h0M440.1 217.9h0M439.7 235h0M446.9 241.9h0M449.5 237h0M452 234.4h0M447.6 223.6h0M446.3 218.6h0M451.1 217.3h0M450.3 224.4h0M439.4 241.6h0M443.6 218h0M439.4 235.7h0M444.4 215.3h0M453.6 219.6h0M437.5 233.8h0M440.2 217.5h0M448.3 242.1h0M450.5 249.3h0M440.4 244.4h0M447.4 258.9h0M448.8 216h0M443.8 257.6h0M441.8 239.2h0M453.5 237.3h0M443.7 210.2h0M446.2 249.5h0M438.4 233.9h0M447.9 222.2h0M443.7 244.7h0M452.1 223.2h0M439.3 219h0M450.5 222.3h0M446.7 221.5h0M445.1 242.5h0M452.8 234.7h0M443.9 214.5h0M450.3 204.9h0M443.9 253.2h0M438.5 223.3h0M440.7 238.6h0M452.8 210.6h0M448.3 199.1h0M447.8 205.4h0M437.9 222.1h0M449.6 202.7h0M450.8 244.6h0M439.3 221.9h0M448.3 217h0M453.4 206.7h0M447.3 216.5h0M440.7 247.7h0M444.8 224.5h0M438.6 259.8h0M449.6 235.2h0M439.6 260.4h0M442.3 242.8h0M449.9 248.4h0M438.3 259.3h0M452.6 237.8h0M444.8 224h0M450.1 217.5h0M446.8 218.2h0M451.8 204.4h0M449.1 214.5h0M443.8 256.6h0M447.2 243.4h0M443 249.9h0M440.1 243.5h0M438.2 213.9h0M450.6 246h0M437.6 252.3h0M442.7 220.1h0M451.1 236.7h0M441.2 244.4h0M443.5 218h0M438.6 235.2h0M440.2 260.6h0M439.7 220.1h0M445.4 220.5h0M437.9 246.2h0M437.9 213.3h0M450.3 202.9h0M443 212.8h0M440.4 231.8h0M441.4 213h0M444.5 251.6h0M449.9 211.2h0M446.7 242.7h0M453.6 243.8h0M437.7 220.4h0M446.9 217.2h0M449.6 250.7h0M444.6 260.2h0M450.1 249.4h0M439.6 211.8h0M446.2 202.2h0M445.8 221.7h0M438.9 257.6h0M447.5 219.5h0M438.5 238.8h0M437.6 209.1h0M445.8 237.8h0M438.1 231h0M438.2 252.5h0M442.6 229.9h0M440.3 237.3h0M451.3 213.3h0M452 238.3h0M452.1 225h0M439.4 235h0M439.6 248.8h0M450.1 199.5h0M440.2 230.1h0M438.4 227.5h0M438.4 261.1h0M451 241.9h0M437.6 223.7h0M445.4 253.7h0M444.9 232.4h0M441.4 219.2h0M449.1 199.3h0M446.9 233.4h0M446.1 250.2h0M443.6 224h0M440.8 226.1h0M447.8 207.8h0M448.3 223.5h0M439.7 257.9h0M441.3 223.6h0M444.7 238.7h0M442.4 204.8h0M448.1 251.4h0M441.4 244.9h0M442.3 249.7h0M438.5 256.5h0M439 251.4h0M440.5 259.6h0M450.7 240.1h0M443.3 230.9h0M438.4 259.4h0M447.7 215h0M438.5 254.5h0M444.2 214.8h0M440.9 220.8h0M447.4 207.7h0M439.3 246.7h0M441.5 207h0M453.4 248.7h0M442.1 255h0M450.6 222.6h0M447 255.1h0M442.6 221h0M441.5 206h0M448.9 248.3h0M451.5 243.2h0M441.5 232.5h0M447.8 202.2h0M443.3 239.8h0M445.9 254.1h0M443 253.5h0M450.7 218.2h0M444.6 223.5h0M439.9 216.4h0M439.9 209.2h0M449.9 233.1h0M450.3 223.1h0M440.3 219.6h0M441 238.5h0M444.3 223.1h0M438.9 245.2h0M444.3 218h0M437.7 219.8h0M444.1 258.6h0M448.9 215.9h0M452.8 241.3h0M439.8 248.2h0M448.4 243.9h0M437.7 229.4h0M441.5 236.7h0M440.4 256.8h0M438.6 218.2h0M451.4 203.9h0M444.5 252.2h0M449.7 208h0M441.6 231.8h0M450.8 200.3h0M446.7 200.6h0M445.9 211.1h0M446.5 204.2h0M441.4 249.4h0M440.1 220.8h0M448.7 221.7h0M449.4 201.3h0M451.8 251.1h0M447.2 213.9h0M440.9 238.5h0M443.8 266.7h0M444.4 263.7h0M440.8 264.3h0M442.5 265.3h0M442 270.3h0M440.5 261.2h0M443.7 269.3h0M443.7 271.2h0M442.5 263.9h0M453.2 237h0M473.8 227.1h0M466.2 209.5h0M473.9 198.5h0M471.5 227.8h0M481.4 180.5h0M472.2 225.6h0M469.9 193.9h0M468.1 199.3h0M462.7 204.7h0M480.9 200.2h0M469.1 225.2h0M468.5 205.5h0M463.2 199h0M468.6 225.3h0M477.5 229.4h0M480.6 206.4h0M468.1 216.8h0M470.3 197.6h0M450.7 238.3h0M460.8 216.5h0M466.9 212.5h0M468 214.3h0M460.1 227.1h0M455.9 205.9h0M473 205.5h0M458.2 220h0M454.2 217.3h0M477.2 209.7h0M468.7 195.4h0M479.2 200.8h0M471.5 205.7h0M470.7 215.8h0M472.8 213.5h0M449.5 203.1h0M462.6 229.9h0M467.7 225.6h0M459.5 203h0M453.1 214.5h0M472.4 201h0M469 185.5h0M460.6 192.8h0M455.9 231.6h0M468.7 193.4h0M452.3 215h0M474.2 188.8h0M475.7 220.2h0M458.7 240.4h0M451.1 205.7h0M474.6 188.6h0M481.7 178.3h0M453.9 202.8h0M471.7 188h0M464.4 216.3h0M479.1 193.3h0M479.7 200.6h0M456.3 208.9h0M471.5 181.8h0M470 193.7h0M465.1 217.4h0M451 222.5h0M455.1 224.2h0M467 225.7h0M465 201.3h0M470.4 223.1h0M462.3 233.5h0M463.5 199.3h0M472.4 191.7h0M450.1 221.6h0M456.1 224.5h0M475 181.8h0M481.6 196.7h0M477.5 230.1h0M480.9 170.3h0M478.8 206.1h0M449 247.9h0M450.2 231.8h0M452 246h0M449.3 217.5h0M456.9 223.6h0M465.5 220.2h0M449.9 231h0M465.4 230.6h0M452.9 239.6h0M472 224.4h0M455.4 202.9h0M464.4 225.1h0M472.5 222.6h0M459.4 213.4h0M468.4 199.1h0M450.5 241.8h0M458.3 200.9h0M478.1 199.1h0M470.3 213h0M480.4 210.3h0M473.2 185.2h0M450.6 215.4h0M470 185h0M459.7 195.1h0M479.9 201.7h0M463.8 207.4h0M473.9 215h0M462 214.5h0M469.7 211.6h0M470.3 194.4h0M471.7 212.5h0M468.2 216.2h0M461.5 196.3h0M470.5 194.9h0M456.7 216.9h0M470.9 223.3h0M480.9 205.9h0M480.6 180.3h0M465.3 228.3h0M475.6 219.7h0M470.7 223.1h0M452.2 222.8h0M462.2 224h0M475.8 212.9h0M469.1 206.8h0M473 207h0M456.1 214.5h0M470.4 202.3h0M469.1 196.1h0M474.2 191.6h0M472.9 198.6h0M450.9 214.4h0M460.8 218.8h0M475.3 223.6h0M455.3 201.9h0M453.7 194.5h0M450.9 240.5h0M476.7 204.6h0M455.1 233.1h0M473.5 216.2h0M466.3 205.1h0M473.7 187.9h0M480.1 181.4h0M478.5 180.1h0M472.8 216.8h0M459 224.2h0M464.5 226h0M453.5 214.5h0M449.6 202.3h0M456.6 204.4h0M469.4 193.4h0M464.4 192.1h0M455.6 225.1h0M461.2 216.9h0M459.9 216.1h0M449.7 226.1h0M481.1 167h0M469.8 199.7h0M479.2 184.2h0M475.6 198.4h0M473.9 222.8h0M464.8 213.2h0M461.2 195.2h0M454 195.8h0M471.7 223.2h0M467.8 200.8h0M462.7 204.4h0M458 210h0M450.3 236.6h0M454.6 217.6h0M481.7 176.3h0M475.5 193.5h0M465.9 208.8h0M458.3 217h0M465.3 226.2h0M474.5 192.6h0M478.2 192.8h0M461.6 233.8h0M461.7 229.1h0M474.4 182.6h0M475.6 204.4h0M449 241.2h0M452.7 231.5h0M479.3 212.7h0M450.5 196.4h0M461.2 229.7h0M479.5 181.2h0M474.6 196.5h0M480.7 203.6h0M472 199.1h0M469.8 191.4h0M472 193.2h0M465 215h0M462.8 227.3h0M478.1 200.1h0M478.3 222.6h0M469.6 204.3h0M454.3 209.1h0M456.5 227.7h0M466.9 191.6h0M463.9 231.9h0M468.2 194.2h0M468.7 187.8h0M479.4 222.6h0M474.5 212.1h0M460.3 235.8h0M462.8 216h0M471.2 209.1h0M449.6 225.9h0M454.5 227.8h0M456.3 214.9h0M449 217.6h0M449.3 225.4h0M456.8 235h0M453.5 211.8h0M457.9 223.9h0M450.4 225.1h0M468.4 206.6h0M478.9 223.9h0M478.7 223.3h0M460.7 211.6h0M456.9 202.9h0M481.4 216h0M475.7 228.2h0M457.3 224.3h0M452.9 234.9h0M458.2 222.2h0M453.8 218.5h0M460 232.8h0M456.2 210.5h0M475.9 208.4h0M472.8 209.8h0M471.9 211.2h0M475.7 200.7h0M480.6 174.7h0M453.7 210.9h0M451.4 208.5h0M471 202.7h0M457.7 212.7h0M476.9 181.4h0M458.2 225.5h0M465.2 189.8h0M481.8 198.4h0M458.7 191h0M466.7 202.3h0M456.6 197.8h0M468.8 196.7h0M461.8 211.3h0M481.8 199.7h0M478.2 221.7h0M480.7 172.4h0M460.3 210.7h0M463.7 235.3h0M476.6 200.8h0M468.5 206.5h0M464 216.2h0M477.3 224.1h0M453.4 205.4h0M474.8 196.7h0M481.4 210.3h0M470.1 226.3h0M461.8 204.5h0M449.1 224.9h0M463.5 229.8h0M452.4 199.8h0M454.4 243.2h0M452 215h0M472.1 196.8h0M467.5 196.3h0M481 186.2h0M456.2 217.7h0M459.2 206h0M454.8 223.5h0M460.6 193.2h0M472.9 193.7h0M480 194.9h0M451.6 223.6h0M481.1 214h0M472.2 206.8h0M456.5 202.2h0M456.4 234h0M464.2 226.3h0M481.5 205.6h0M457.7 193.7h0M453.2 245.7h0M453.8 199.9h0M456.8 196.5h0M457.2 238.7h0M472.9 208.7h0M481.4 189.8h0M476 201.6h0M450.8 239.6h0M480.6 185.6h0M454.2 214.8h0M469.5 193.1h0M462.6 193.4h0M454.3 204.6h0M455.2 229.9h0M468.5 208.1h0M457.6 199.2h0M461.9 199.1h0M474.1 183.2h0M479.8 207.5h0M468.1 195.9h0M476.7 190.8h0M450.3 244.1h0M479.6 215.4h0M467.9 193.3h0M479.5 174h0M467.6 216h0M470.2 188.7h0M466.9 203.8h0M449.2 202.9h0M470.1 208.4h0M478.1 217.6h0M461.9 201.7h0M481.1 183.1h0M452.3 224.9h0M470.1 192.2h0M455 209.9h0M469.8 201.2h0M459.9 222.1h0M479.7 186.5h0M468 229.2h0M467.3 224.6h0M459.4 193.8h0M454.9 225.8h0M451.3 217.9h0M461.9 198.7h0M449.2 220.7h0M470.4 216.6h0M469.2 201.9h0M474.3 183.3h0M449.6 216.6h0M470.7 230.2h0M459 229h0M480.2 194.5h0M454.5 205.5h0M462.9 212.3h0M466.9 189.7h0M449.5 210.1h0M471.5 214.8h0M457.9 221.3h0M475.1 222.5h0M452.1 206.6h0M467.1 230.4h0M451.8 202.4h0M458.6 219.6h0M481.1 177h0M455.9 228h0M479 201.8h0M451.9 227.8h0M476.6 180.4h0M475.9 221h0M454.7 201.2h0M458.2 221.6h0M473.7 226.4h0M459 208.2h0M463.4 192.6h0M475.3 185.2h0M454.3 210.7h0M467.3 222.9h0M478.2 190.8h0M466.6 235.4h0M451.3 226.9h0M450.7 240.3h0M459.7 207h0M465 214.3h0M479.2 215.6h0M454.9 206.8h0M470.2 192.3h0M454.6 213.7h0M454.9 228.6h0M461.4 196h0M471 207.9h0M467.1 229.2h0M459.7 214.8h0M472.8 188h0M477 182.2h0M461.7 226.3h0M465 203h0M459 199.1h0M452.2 229.1h0M455.2 214.3h0M455.1 243.9h0M458 221.8h0M457.4 222.5h0M479 207.5h0M450.3 236.5h0M481.8 165.1h0M471.1 208.1h0M463 194h0M450.2 243.6h0M478.8 203.2h0M466.6 220.9h0M465.6 196.8h0M450.2 216h0M471.9 196.4h0M463.3 224h0M466.8 219.8h0M451 223.2h0M449.7 225.9h0M477.8 217.2h0M470.9 192.8h0M478.8 210.4h0M449.6 234.6h0M449.6 198.5h0M468.3 211h0M452.5 212.4h0M472.6 196.6h0M463.2 219.8h0M466.7 222.7h0M456.4 197.4h0M476.4 223.1h0M453.5 210.1h0M479.2 197.5h0M478.7 212.6h0M461.6 195.4h0M473.6 190.5h0M450.7 243.1h0M462.8 198.5h0M455.8 206.1h0M459.1 216.4h0M464.5 209.2h0M455.6 211.4h0M475.6 223.1h0M469.1 224.1h0M481.4 186.6h0M470.8 226.6h0M466.1 202h0M458.1 240.7h0M454.3 209.9h0M452.2 199.3h0M459.8 225.3h0M462 194.8h0M476.8 198.5h0M473.9 203.9h0M451 211.8h0M457.7 228.6h0M466.4 227.1h0M455.4 200.5h0M450.4 218.5h0M481.8 168.2h0M450.9 219.7h0M451.6 223.7h0M477.5 197.3h0M481.6 196.6h0M478.9 196.5h0M454.6 198.1h0M474.3 203.9h0M459.1 200.4h0M474.1 220.1h0M467 217.1h0M479.4 186.6h0M472.8 218.3h0M470.8 213h0M475.9 230.6h0M462.5 198.5h0M456.9 200.4h0M465 223.1h0M452.1 219.3h0M481 192.1h0M467.5 194.1h0M452.6 215.2h0M461.5 214.8h0M470.6 229.5h0M457.3 236.7h0M461.7 226.1h0M468 231.2h0M454.7 216h0M478.7 176.5h0M457.2 196.3h0M453.4 202h0M452.6 233.9h0M477.2 187.2h0M451 228.5h0M450 201.8h0M474.8 227.1h0M467.2 202.9h0M463 200h0M481.1 173.2h0M454 224h0M474.7 187.7h0M461.2 214.8h0M478.7 177.5h0M450.2 220.4h0M452.4 234.8h0M452.5 233.3h0M455.4 227.4h0M473.4 193.7h0M450.6 240.9h0M455.6 243.1h0M474.7 206.5h0M460.7 228.9h0M475.9 205.7h0M475.6 185.9h0M471.1 193.7h0M458.4 193.6h0M457.1 205.5h0M467.2 188.7h0M480.8 208.6h0M474.3 196.6h0M469 200h0M477.3 221h0M457.2 220.7h0M467.9 200h0M470.9 202.8h0M471.5 194.3h0M462.6 219.6h0M449.2 209.9h0M481.6 192.2h0M449.1 212.5h0M455.2 211.7h0M455.3 221.8h0M459.8 228.9h0M473.1 199.4h0M457.2 221.2h0M456.2 221.2h0M478.3 201.5h0M462.2 188.1h0M475.9 193h0M474.8 210.3h0M479.1 203.5h0M472.7 185.6h0M455.5 218.2h0M464.2 233.9h0M463.6 218.4h0M463.7 228.6h0M450.7 200h0M450.8 199.3h0M458.1 231.6h0M463.4 230.1h0M471.9 196.6h0M462.1 214.6h0M463.1 237.4h0M470.9 200.9h0M467.7 199.9h0M460.9 196.9h0M478 200.4h0M454.8 193h0M457.9 218.9h0M479.8 184.4h0M476.7 227.8h0M461.4 207h0M466.1 192h0M477.3 209.5h0M456.1 211.6h0M481.8 185.1h0M452 228.8h0M462 222.7h0M481.9 165.3h0M452.7 237.9h0M466.6 216.2h0M478.7 204.4h0M478.5 199h0M468.9 194.8h0M470.1 201.2h0M464.4 219.4h0M451.7 205.6h0M454.6 223.7h0M463.5 212.1h0M472 194.9h0M459.5 212.5h0M479.5 197.1h0M472.5 187.1h0M479.8 213.5h0M464 237.3h0M467.8 210.2h0M465.5 221.1h0M463.5 206h0M473.1 219.7h0M455 229.4h0M467.2 225.7h0M452.1 235.4h0M471.7 200.6h0M471.1 197h0M460.5 226.3h0M465.4 236.7h0M457.7 240.6h0M461.5 217.6h0M457.1 207.7h0M455.7 215.6h0M459.2 231.6h0M478.9 209.7h0M467.3 225.6h0M474.6 216.1h0M466 204.5h0M453.6 213.9h0M452.3 216h0M465.6 211.8h0M465.1 231.4h0M464.3 187.9h0M450.5 228.1h0M471.8 198.6h0M478.2 177.2h0M466.1 200.1h0M462.1 215.2h0M480.6 211.2h0M450.7 241.2h0M454.9 226.6h0M452 204.5h0M475.8 186.7h0M476.8 183.9h0M460.2 229.8h0M474.5 202.9h0M452.3 225.1h0M459.4 194.2h0M462.9 236.1h0M449.1 212.9h0M473.5 189.6h0M468.2 204.2h0M456.3 231.5h0M475.6 210.1h0M465.1 215.2h0M450.2 241.3h0M470.7 219.7h0M449.3 229.3h0M465.5 198.1h0M473.8 196.5h0M462.2 211.1h0M473.6 208.4h0M473.3 203.5h0M473.8 216.7h0M457.8 238.4h0M454.2 230.5h0M465.8 226.3h0M468.9 226h0M478.8 187.8h0M479.8 191.9h0M463.6 187h0M463.8 190.9h0M456.7 214.5h0M478.8 202.1h0M467.4 212.8h0M476.7 179.4h0M453.9 193.9h0M455.2 241.6h0M473.2 197.2h0M463.6 204.1h0M471.5 188.9h0M475.6 213.1h0M457.6 198.4h0M476.1 192.1h0M466.1 199.2h0M459.9 214.5h0M471.7 201.4h0M458 208.9h0M449.7 246h0M455 220.4h0M471.1 199.8h0M454 226.7h0M452.7 217.8h0M460.9 230.2h0M465.2 229h0M457.5 227.7h0M480.5 207.4h0M469.9 197.3h0M459 229.8h0M462 204.6h0M456.7 210.3h0M481.5 188h0M453 199.8h0M475.5 211.3h0M451.2 241.9h0M472.5 189h0M468.4 193.3h0M453.9 212.8h0M462.2 213.2h0M450.1 244.5h0M472.8 203.3h0M451.1 196.6h0M449.6 206.4h0M468.9 224.8h0M480 221.7h0M478.7 224.2h0M464.8 218.5h0M452.6 237.3h0M469.5 201.2h0M458.5 197h0M476.7 205.6h0M456.2 224.5h0M462.2 189h0M452.7 215.8h0M461.5 237.4h0M460.5 196.3h0M460.5 238.8h0M480.7 201.7h0M453.2 210.4h0M455 193.4h0M459.7 211h0M480.6 201.1h0M474 218.8h0M473.4 190.2h0M455.9 240.7h0M474.2 181.3h0M456.7 198.1h0M468.5 213.9h0M466.9 210.6h0M466 194.7h0M470.2 232.7h0M461 201.7h0M475.4 209.4h0M472.6 195.2h0M458.3 232.1h0M454 237.4h0M471.8 198.9h0M457.3 226.4h0M465.4 208.2h0M456.3 230.3h0M465.4 221.2h0M476.2 188.2h0M474.7 182.5h0M451.8 218h0M480.3 199.7h0M475.6 179.3h0M481.5 191.9h0M462 230.6h0M454.8 203.3h0M471.9 200.5h0M457.3 201.1h0M478.6 207.1h0M480.9 179.5h0M460.9 206.5h0M464 198.5h0M465.5 221.1h0M458 219.8h0M469.4 231.8h0M463.7 224.2h0M453.7 222.7h0M465.8 192.3h0M476.4 217.2h0M477.7 213.7h0M473.9 214h0M469.3 193.4h0M461.2 227h0M451.6 231h0M479.3 205.3h0M452.3 240.5h0M452.8 223.6h0M479.9 200.5h0M463.3 229h0M457.2 196.6h0M475.1 186.6h0M450.2 240.3h0M457.8 203.3h0M470.3 194.6h0M455.9 192.6h0M465.6 211.7h0M468.2 229.5h0M467.1 210.9h0M480.1 211.5h0M474.9 214.9h0M460 208.6h0M469.6 200.9h0M453.7 227.6h0M461 212.3h0M471.5 194.8h0M475.3 198.5h0M463.4 214.9h0M450.4 237.3h0M463.1 199.7h0M459.9 202.5h0M479.7 213.1h0M481.2 211.5h0M465.4 217.3h0M455.8 230.9h0M469.9 202.7h0M450.9 215.2h0M473.9 193.8h0M449.6 201h0M478.1 189.8h0M478.3 215h0M464.1 193.5h0M451.9 232h0M463.1 186.5h0M476.2 207.7h0M464.7 234.3h0M460.4 218.7h0M462.8 227.5h0M465.1 214.8h0M460.2 221.6h0M456.5 211.4h0M480.6 202.2h0M472.5 191.1h0M471 208.8h0M454.3 211.6h0M467.1 209.5h0M477.8 196h0M455.2 214.3h0M454 216.2h0M451.7 198.2h0M464.3 196.5h0M471.6 221h0M471.7 222.6h0M463.6 223.6h0M464.4 224.3h0M465 205.1h0M459.7 220h0M458.6 217.4h0M472.1 218.6h0M477.5 220h0M455.8 203.2h0M479.3 200.9h0M468.9 186.8h0M459.5 202.6h0M449.1 234.8h0M463.1 198.7h0M480.8 204.8h0M467.3 215.8h0M481.2 192h0M452.9 197.4h0M460.4 209.2h0M456 223.5h0M457.7 238.3h0M469.4 223.2h0M459.7 212.9h0M473.1 187.1h0M465.6 228.8h0M453.9 200.2h0M452 207.3h0M471.8 211h0M462.5 222.5h0M480.7 207.2h0M455.3 240.6h0M452.6 204h0M470.6 226.1h0M469.2 209h0M458.9 226.9h0M454.8 243.2h0M472.7 216.9h0M467.8 228.3h0M472.2 207.5h0M476.9 225.5h0M468.2 228h0M481.8 173.8h0M463.9 227.7h0M478.2 221.4h0M476.3 202.1h0M476.6 204.8h0M454.9 235.9h0M468.6 195.6h0M458.6 230h0M481.9 176.9h0M451.8 233.1h0M459.2 218.2h0M465.4 225.5h0M465.7 221.5h0M460.2 206.4h0M461.3 231.9h0M481.1 183.4h0M449.3 248.5h0M471.3 207.9h0M478.4 209h0M456.8 205.5h0M475.9 196.8h0M461.7 236.7h0M478.3 196.4h0M466.5 234.7h0M453.5 195.1h0M469.6 211.6h0M463.1 204.7h0M450.9 208h0M479.5 188.4h0M453.5 202.6h0M471.2 201.3h0M463.6 231.6h0M449.6 225.7h0M452.5 233.8h0M468.1 213.4h0M479.7 175.4h0M455.8 192h0M462.6 211.4h0M473.5 190.6h0M469.5 227.6h0M476.1 195.2h0M449.5 248.1h0M450.4 208.9h0M461.1 229h0M468.4 216h0M451.5 230.6h0M467.3 198h0M461.6 232.1h0M456.3 229.7h0M463 229h0M450.3 196.7h0M470.1 209.4h0M453.2 210.9h0M460.7 225.2h0M449.4 245.1h0M480.5 181.9h0M476.5 221.7h0M466.8 205.3h0M455.4 202.1h0M452 226.2h0M466.1 209.2h0M453.6 208.1h0M458.6 222.5h0M463.8 196.3h0M458.1 239.2h0M475.7 202.3h0M462.6 210.4h0M455.5 235h0M472.3 184.4h0M469.7 215.8h0M451.9 209.7h0M459.9 226.1h0M449.6 244h0M477.4 204.6h0M452.2 223.5h0M476.1 225.8h0M467.6 199.9h0M462.2 209.8h0M469.2 208.1h0M472.4 181.8h0M450.1 235.4h0M461.9 201.1h0M460.4 193h0M456.6 202.4h0M452.6 216.1h0M466.4 224.7h0M474.9 213.9h0M451.7 199.8h0M456.6 213.9h0M461.7 208.5h0M481.2 197.7h0M465.1 209.9h0M454 197.3h0M457.4 235.1h0M452.2 242.8h0M456.2 240.8h0M473 217.2h0M454.7 234.3h0M456.5 211.4h0M460.8 218.7h0M473.1 215.1h0M476.2 209.5h0M469.5 210.7h0M472 216h0M456.7 219.1h0M476.8 223h0M458.3 204.3h0M456.9 212h0M468.5 188.6h0M462.3 222.1h0M473.8 188.5h0M452.1 198.9h0M451.5 214.6h0M475.3 194h0M464.9 205.9h0M468.7 192.4h0M455.8 235.7h0M450.3 207.7h0M456.7 213.2h0M450.3 225.2h0M469.6 183.9h0M472.1 193.5h0M481.9 163.4h0M451.6 221.4h0M462.6 203.6h0M478.7 207.9h0M455.3 205.8h0M466.9 223.3h0M475.7 185.4h0M480.6 193h0M451.2 225.3h0M481.1 199.7h0M452.6 239.8h0M477.7 220.8h0M454.4 214.7h0M465.7 185.6h0M477 193.8h0M462 207.1h0M451.8 204.9h0M455.2 243.6h0M471.3 223.9h0M456.6 208.5h0M464.7 224.4h0M462.1 214.9h0M452.2 225.1h0M472.4 181.2h0M477.5 181.5h0M479.6 210.5h0M454.2 197h0M457.8 222.2h0M477.6 223.1h0M457.6 240.2h0M474 216.7h0M467.6 195.2h0M477 178.9h0M478.8 191.4h0M463.4 188.3h0M457 227.5h0M452.9 231.6h0M455.6 230.8h0M467.4 217.3h0M583.7 177.3h0M578.3 166.2h0M573.9 140.6h0M583.9 169.7h0M576 143.2h0M574.8 141.3h0M576.6 139.2h0M574.6 142.2h0M581.3 146.1h0M577.8 166.8h0M581.4 160.5h0M581.2 133.7h0M583.8 131.8h0M577.5 175.4h0M582.4 134.4h0M577 137.8h0M580.8 140.3h0M582.3 165.2h0M583.4 144.1h0M578.1 149.3h0M583.8 129.2h0M581.8 128.5h0M580 143.4h0M581.6 140h0M577.4 174.1h0M574.9 177.8h0M578 157.3h0M581.3 175.1h0M579.6 130.9h0M582.9 155.3h0M583.2 136.9h0M580.3 132.8h0M583.4 155.1h0M577.2 156.4h0M573.3 178.9h0M578.2 174.4h0M575.1 136.8h0M582.2 150.7h0M580.9 163.3h0M583.7 173.5h0M578.9 159.3h0M574.2 161.7h0M574.6 151.4h0M576.1 145.2h0M581.8 187.2h0M577.1 136.6h0M583.7 138.2h0M580.5 145.2h0M579.1 134.2h0M583.7 160.6h0M576.4 131.5h0M578.5 142h0M579.1 161.5h0M577 180.8h0M583.6 153.1h0M574.5 147.5h0M578 165.9h0M583.9 144.2h0M581.9 130.3h0M582.9 152.5h0M581.2 170.1h0M580.1 190.1h0M577.2 135.1h0M576 149.1h0M574.3 153.9h0M579.2 151.7h0M581.6 136h0M574 175.5h0M583.6 153.4h0M578.7 134.1h0M579.2 169h0M574.4 139.4h0M575.3 179.3h0M580.3 148.3h0M577.2 156.3h0M577.9 165.7h0M579.2 135h0M578.7 169.5h0M582.6 144.9h0M578.5 163.4h0M582.7 172.6h0M583.6 153.6h0M573.8 156.3h0M580.6 188.6h0M576.3 128.4h0M575.4 145.5h0M577.1 142.6h0M583.7 140.3h0M578.5 130.7h0M574.3 135.9h0M577.7 155.6h0M581.2 146h0M581.6 154.6h0M581.9 135.7h0M581.3 162.1h0M577.7 128.7h0M583 145.8h0M573.2 138.6h0M580.8 157.9h0M583.6 131.8h0M574.3 134.1h0M583.5 172.7h0M583.4 169.6h0M575.3 164h0M581.8 156.9h0M577.5 167.3h0M582.9 134.9h0M574.1 183.1h0M582.5 137.9h0M579.7 141.5h0M575.2 130.3h0M576.8 134.6h0M576.4 182.7h0M577.1 178.1h0M578.2 154h0M574.3 148.6h0M582.5 129.5h0M573.2 138.6h0M583.6 168.1h0M574.2 135.1h0M582.7 170.7h0M573.2 180h0M583.2 146h0M579.2 160.1h0M580.3 142.4h0M583.2 177.2h0M574.7 149.1h0M583.9 177.7h0M582.7 137.6h0M575.4 158.5h0M576.3 133.5h0M581.4 161.9h0M575 136.1h0M583.5 145.5h0M579.3 130.1h0M579.2 144.4h0M573.7 160.6h0M582.6 161.3h0M583.7 133.3h0M581.5 177.8h0M578.5 156.7h0M573.9 138.9h0M576.3 150h0M580.8 168.9h0M579.9 142.7h0M578.2 142.7h0M579.6 169.9h0M575.7 133.1h0M581.8 150.2h0M574.4 149.5h0M575.1 153.4h0M574.3 132.1h0M579.3 144.2h0M578.5 179.1h0M582.2 147h0M573.6 191.7h0M578.6 133.5h0M582.4 160.7h0M583.8 136.8h0M576.1 169.4h0M582.9 143.8h0M582.5 131.7h0M582.7 150.8h0M576.8 149.1h0M583.5 130.2h0M574.5 142.2h0M575.1 144h0M578.1 144h0M582.6 145.7h0M576.9 155.3h0M579.3 152.1h0M573.2 181h0M578.7 138.3h0M580.9 149.4h0M573.5 150.6h0M572.4 193.9h0M565.4 192.2h0M562.5 188h0M563.8 210.3h0M564.8 193.7h0M565.3 187.8h0M566.5 188.4h0M566.5 219.3h0M560.7 185.9h0M572 192.7h0M572.7 190.4h0M567.1 221.3h0M571.8 182.6h0M569 182.4h0M559.5 192.9h0M563.9 199.4h0M566.9 215.7h0M565.9 185.7h0M556.9 183.9h0M559.5 183.3h0M558.2 183.6h0M560.8 217.4h0M563.7 198.6h0M562.1 205.3h0M574.2 222.7h0M570.4 200h0M548.5 211.6h0M495.9 251.2h0M509.5 244.8h0M541.4 217.8h0M509.4 245.2h0M500.9 246.1h0M475.8 252.6h0M520.5 240.6h0M541.9 210.3h0M550.3 205.8h0M493.9 254.9h0M540 213h0M558 186.8h0M525.6 226.5h0M524.5 39.4h0M583.5 42.4h0M582.7 61h0M549.3 76.4h0M557.2 75.9h0M556.3 87.9h0M561.6 84.3h0M562.5 88.7h0M555.8 94h0" stroke="#000" stroke-width="2.1" stroke-linecap="round" fill="none"/>
<rect x="397.5" y="5.5" width="281" height="295" fill="none" stroke="#888888" stroke-width="1"/>
<path d="M397.5 300.5v-3M397.5 5.5v3M444.3 300.5v-3M444.3 5.5v3M491.2 300.5v-3M491.2 5.5v3M538 300.5v-3M538 5.5v3M584.8 300.5v-3M584.8 5.5v3M631.7 300.5v-3M631.7 5.5v3M678.5 300.5v-3M678.5 5.5v3M397.5 300.5h3M678.5 300.5h-3M397.5 263.6h3M678.5 263.6h-3M397.5 226.8h3M678.5 226.8h-3M397.5 189.9h3M678.5 189.9h-3M397.5 153h3M678.5 153h-3M397.5 116.1h3M678.5 116.1h-3M397.5 79.2h3M678.5 79.2h-3M397.5 42.4h3M678.5 42.4h-3M397.5 5.5h3M678.5 5.5h-3" stroke="#888888" stroke-width="1" fill="none"/>
<text class="tk" x="397.5" y="314.9" text-anchor="middle">-20</text>
<text class="tk" x="444.3" y="314.9" text-anchor="middle">-15</text>
<text class="tk" x="491.2" y="314.9" text-anchor="middle">-10</text>
<text class="tk" x="538" y="314.9" text-anchor="middle">-5</text>
<text class="tk" x="584.8" y="314.9" text-anchor="middle">0</text>
<text class="tk" x="631.7" y="314.9" text-anchor="middle">5</text>
<text class="tk" x="678.5" y="314.9" text-anchor="middle">10</text>
<text class="tk" x="393.9" y="304.5" text-anchor="end">-25</text>
<text class="tk" x="393.9" y="267.6" text-anchor="end">-20</text>
<text class="tk" x="393.9" y="230.8" text-anchor="end">-15</text>
<text class="tk" x="393.9" y="193.9" text-anchor="end">-10</text>
<text class="tk" x="393.9" y="157" text-anchor="end">-5</text>
<text class="tk" x="393.9" y="120.1" text-anchor="end">0</text>
<text class="tk" x="393.9" y="83.2" text-anchor="end">5</text>
<text class="tk" x="393.9" y="46.4" text-anchor="end">10</text>
<text class="tk" x="393.9" y="9.5" text-anchor="end">15</text>
<text class="lb" x="538" y="328.7" text-anchor="middle">Depth (m)</text>
<text class="lb" transform="translate(373 153) rotate(-90)" text-anchor="middle">Band Ratio (m)</text>
<rect x="405.5" y="12.5" width="93.2" height="36.7" fill="#fff" stroke="#6a6a6a" stroke-width="1"/>
<circle cx="422.5" cy="19.5" r="1.1" fill="#000"/>
<text class="lg" x="441.8" y="22.5" xml:space="preserve">N = 59768</text>
<text class="lg" x="439.5" y="34" xml:space="preserve">RMSE =   2.02</text>
<text class="lg" x="439.5" y="45.7" xml:space="preserve">R2 = 0.65</text>
<text x="495.8" y="359" class="capb">(b)</text><text x="516.9" y="359" class="cap">San Juan</text>
</svg>
</body></html>
